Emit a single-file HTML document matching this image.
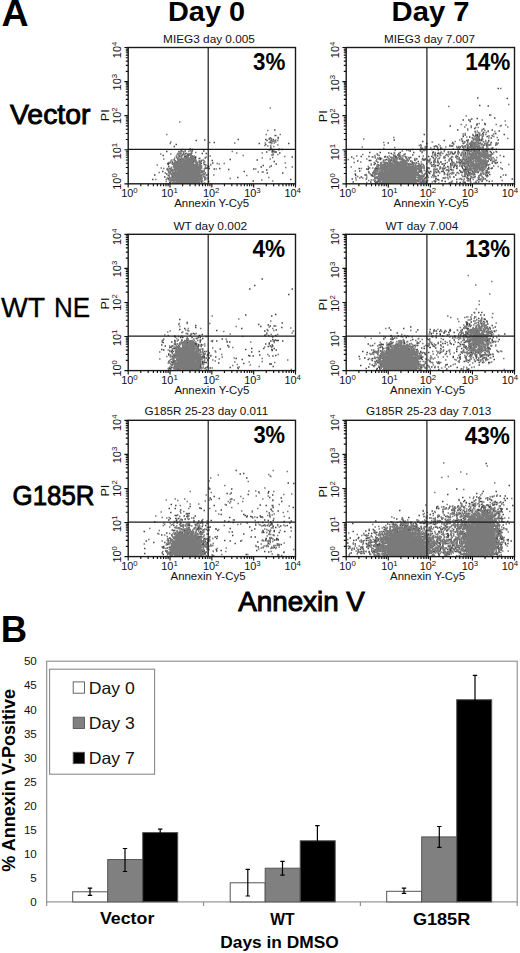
<!DOCTYPE html>
<html><head><meta charset="utf-8"><style>
html,body{margin:0;padding:0;background:#fff;}
svg{display:block;font-family:"Liberation Sans", sans-serif;}
</style></head><body>
<svg width="520" height="953" viewBox="0 0 520 953">
<rect width="520" height="953" fill="#fff"/>
<text x="1.6" y="25.8" font-size="37.5" text-anchor="start" font-weight="bold" fill="#000" >A</text>
<text x="168.0" y="20.6" font-size="28.5" text-anchor="start" font-weight="bold" textLength="77" lengthAdjust="spacingAndGlyphs" fill="#000" >Day 0</text>
<text x="391.6" y="20.8" font-size="28.5" text-anchor="start" font-weight="bold" textLength="78" lengthAdjust="spacingAndGlyphs" fill="#000" >Day 7</text>
<text x="10.0" y="123.7" font-size="28.5" text-anchor="start" textLength="80.5" lengthAdjust="spacingAndGlyphs" fill="#000" stroke="#000" stroke-width="0.9">Vector</text>
<text x="1.0" y="316.9" font-size="28.5" text-anchor="start" textLength="44.2" lengthAdjust="spacingAndGlyphs" fill="#000" stroke="#000" stroke-width="0.3">WT</text>
<text x="54.0" y="316.9" font-size="28.5" text-anchor="start" textLength="36.2" lengthAdjust="spacingAndGlyphs" fill="#000" stroke="#000" stroke-width="0.3">NE</text>
<text x="12.5" y="505.4" font-size="28.5" text-anchor="start" textLength="82" lengthAdjust="spacingAndGlyphs" fill="#000" stroke="#000" stroke-width="0.9">G185R</text>
<text x="238.3" y="611.3" font-size="28.5" text-anchor="start" textLength="126.5" lengthAdjust="spacingAndGlyphs" fill="#000" stroke="#000" stroke-width="1.0">Annexin V</text>
<text x="0.8" y="642.3" font-size="36.5" text-anchor="start" font-weight="bold" fill="#000" >B</text>
<path d="M274 130h1.5M274.5 135.5h1.5M275 135.5h1.5M277.5 137.5h1.5M269.5 138h1.5M268.5 139h1.5M237.5 139.5h1.5M265 139.5h1.5M272.5 139.5h1.5M204 140h1.5M270.5 140h1.5M195.5 140.5h1.5M270 141.5h1.5M213.5 142.5h1.5M270 142.5h1.5M258.5 143.5h1.5M288 143.5h1.5M175.5 144.5h1.5M265 144.5h1.5M173.5 146.5h1.5M270 148h1.5M189.5 149h1.5M181.5 149.5h1.5M192 149.5h1.5M281.5 149.5h1.5M268.5 150h1.5M271.5 150.5h1.5M180.5 151h1.5M184.5 151h1.5M191.5 151h1.5M203 151h1.5M166 151.5h1.5M180.5 151.5h1.5M181 151.5h1.5M272.5 151.5h1.5M274 151.5h1.5M266 152h1.5M271.5 152h1.5M274 152h1.5M275.5 152h1.5M183 153h1.5M191 153h1.5M279 153h1.5M177.5 153.5h1.5M185 153.5h1.5M201.5 153.5h1.5M205.5 153.5h1.5M188.5 154h1.5M182 154.5h1.5M187 154.5h1.5M272.5 154.5h1.5M181.5 155h1.5M188.5 155h1.5M162.5 155.5h1.5M187 155.5h1.5M185.5 156h1.5M191.5 156h1.5M178.5 156.5h1.5M180.5 156.5h1.5M184 156.5h1.5M185 156.5h1.5M187.5 156.5h1.5M176 157h1.5M184 157h1.5M190.5 157h1.5M195 157h1.5M291.5 157h1.5M191 157.5h1.5M193 157.5h1.5M194 157.5h1.5M185.5 158h1.5M191 158h1.5M194.5 158h1.5M204.5 158h1.5M198.5 158.5h1.5M199 158.5h1.5M192 159h1.5M173.5 159.5h1.5M178.5 159.5h1.5M179.5 159.5h1.5M186.5 159.5h1.5M187 159.5h1.5M190.5 159.5h1.5M192 159.5h1.5M194.5 159.5h1.5M229.5 159.5h1.5M180 160h1.5M190 160h1.5M256.5 160h1.5M178 160.5h1.5M184.5 160.5h1.5M201 160.5h1.5M211.5 160.5h1.5M174.5 161h1.5M179.5 161h1.5M180.5 161h1.5M192.5 161h1.5M194 161h1.5M198.5 161h1.5M176.5 161.5h1.5M179 161.5h1.5M181 161.5h1.5M191.5 161.5h1.5M200 161.5h1.5M273.5 161.5h1.5M171.5 162h1.5M192.5 162h1.5M176 162.5h1.5M168 163h1.5M169 163h1.5M175.5 163h1.5M180 163h1.5M199.5 163h1.5M212 163h1.5M167 163.5h1.5M171.5 163.5h1.5M181 163.5h1.5M199.5 163.5h1.5M200.5 163.5h1.5M172 164h1.5M275.5 164h1.5M167.5 164.5h1.5M203.5 164.5h1.5M174 165h1.5M205 165h1.5M174 165.5h1.5M262.5 165.5h1.5M173.5 166h1.5M196.5 166h1.5M270.5 166h1.5M168 166.5h1.5M176 166.5h1.5M208 166.5h1.5M198 167h1.5M260.5 167h1.5M200.5 167.5h1.5M200 168h1.5M206 168h1.5M206.5 168h1.5M168.5 168.5h1.5M170.5 168.5h1.5M198.5 168.5h1.5M204.5 168.5h1.5M205 168.5h1.5M208.5 168.5h1.5M219 168.5h1.5M213.5 169h1.5M253 169h1.5M166.5 169.5h1.5M173.5 169.5h1.5M228 169.5h1.5M170.5 170h1.5M171.5 170h1.5M174.5 170h1.5M266 170h1.5M168 170.5h1.5M171.5 170.5h1.5M201 170.5h1.5M203.5 171h1.5M162 171.5h1.5M243.5 171.5h1.5M200.5 172h1.5M202 172h1.5M169.5 172.5h1.5M199.5 172.5h1.5M199 173h1.5M204.5 173h1.5M266.5 173h1.5M282 173h1.5M173 173.5h1.5M198 173.5h1.5M166 174h1.5M170.5 174h1.5M198.5 174h1.5M203 174.5h1.5M154 175h1.5M171.5 175h1.5M205.5 175h1.5M206 175h1.5M167.5 175.5h1.5M200.5 175.5h1.5M172.5 176h1.5M171.5 176.5h1.5M199 176.5h1.5M164 177h1.5M172 177h1.5M173 177h1.5M200 177h1.5M201 177h1.5M200 177.5h1.5M237 177.5h1.5M167.5 178.5h1.5M169.5 178.5h1.5M167.5 179h1.5M204.5 179h1.5M205 179h1.5M152 179.5h1.5M173 179.5h1.5M290 179.5h1.5M173.5 180h1.5M197.5 180h1.5M169.5 180.5h1.5M252.5 181h1.5M173 181.5h1.5M200.5 181.5h1.5M208 181.5h1.5M170 182h1.5M169 182.5h1.5M176.5 182.5h1.5M198.5 182.5h1.5M177 183h1.5" stroke="#484848" stroke-width="1.5" fill="none"/>
<path d="M269.5 108h1.5M179 122h1.5M267 130.5h1.5M166 134.5h1.5M265.5 134.5h1.5M279.5 134.5h1.5M270.5 138.5h1.5M277.5 138.5h1.5M275 140h1.5M266 140.5h1.5M266.5 140.5h1.5M274.5 140.5h1.5M277 140.5h1.5M272 141h1.5M273.5 141h1.5M269.5 141.5h1.5M272 141.5h1.5M170 142h1.5M275 142h1.5M209 142.5h1.5M268.5 142.5h1.5M271 142.5h1.5M234 143h1.5M264.5 143h1.5M273.5 143h1.5M169.5 143.5h1.5M271 143.5h1.5M277 145h1.5M264 145.5h1.5M270 145.5h1.5M267 146h1.5M270 146.5h1.5M273 146.5h1.5M270.5 148.5h1.5M278.5 149h1.5M269.5 149.5h1.5M271.5 149.5h1.5M278 150h1.5M189.5 150.5h1.5M273 150.5h1.5M191.5 151h1.5M178 151.5h1.5M179.5 151.5h1.5M181 151.5h1.5M183 151.5h1.5M188 151.5h1.5M190.5 151.5h1.5M231.5 151.5h1.5M273.5 152h1.5M274.5 152h1.5M179.5 152.5h1.5M195 152.5h1.5M236 153h1.5M261.5 153h1.5M177.5 153.5h1.5M178.5 153.5h1.5M180.5 153.5h1.5M186 153.5h1.5M190 153.5h1.5M160 154h1.5M170 154h1.5M179.5 154h1.5M189 154h1.5M272.5 154h1.5M176.5 154.5h1.5M183.5 154.5h1.5M188.5 154.5h1.5M190.5 154.5h1.5M277 154.5h1.5M177.5 155h1.5M182 155h1.5M184 155h1.5M188.5 155h1.5M189.5 155h1.5M271 155h1.5M272 155h1.5M178.5 155.5h1.5M180.5 155.5h1.5M242.5 155.5h1.5M175.5 156h1.5M186.5 156h1.5M190 156h1.5M190.5 156h1.5M193.5 156h1.5M209.5 156h1.5M180 156.5h1.5M181 156.5h1.5M284 156.5h1.5M180.5 157h1.5M187.5 157h1.5M193 157h1.5M205.5 157h1.5M178 157.5h1.5M183.5 157.5h1.5M186 157.5h1.5M190 157.5h1.5M192.5 157.5h1.5M272 157.5h1.5M174 158h1.5M177 158h1.5M184.5 158h1.5M188.5 158h1.5M190.5 158h1.5M261.5 158h1.5M176.5 158.5h1.5M180.5 158.5h1.5M182 158.5h1.5M186 158.5h1.5M187 158.5h1.5M188.5 158.5h1.5M193.5 158.5h1.5M163 159h1.5M178.5 159h1.5M183 159h1.5M190 159h1.5M269.5 159h1.5M181 159.5h1.5M182.5 159.5h1.5M185 159.5h1.5M186.5 159.5h1.5M192 159.5h1.5M192.5 159.5h1.5M195 159.5h1.5M171 160h1.5M177 160h1.5M178 160h1.5M184 160h1.5M184.5 160h1.5M188 160h1.5M189 160h1.5M190.5 160h1.5M194.5 160h1.5M202.5 160h1.5M170.5 160.5h1.5M173.5 160.5h1.5M179 160.5h1.5M180.5 160.5h1.5M186 160.5h1.5M190 160.5h1.5M193 160.5h1.5M178.5 161h1.5M181 161h1.5M182.5 161h1.5M184 161h1.5M186.5 161h1.5M189 161h1.5M191.5 161h1.5M194.5 161h1.5M195.5 161h1.5M199 161h1.5M203.5 161h1.5M181.5 161.5h1.5M185.5 161.5h1.5M187.5 161.5h1.5M200.5 161.5h1.5M169.5 162h1.5M175 162h1.5M176.5 162h1.5M178 162h1.5M179.5 162h1.5M180.5 162h1.5M189 162h1.5M190 162h1.5M196 162h1.5M198.5 162h1.5M204 162h1.5M173.5 162.5h1.5M177 162.5h1.5M183 162.5h1.5M183.5 162.5h1.5M185 162.5h1.5M187 162.5h1.5M190.5 162.5h1.5M192 162.5h1.5M192.5 162.5h1.5M194.5 162.5h1.5M197 162.5h1.5M203 162.5h1.5M173.5 163h1.5M178 163h1.5M182.5 163h1.5M185.5 163h1.5M188.5 163h1.5M189 163h1.5M196 163h1.5M199 163h1.5M203 163h1.5M284.5 163h1.5M172 163.5h1.5M175 163.5h1.5M179.5 163.5h1.5M181 163.5h1.5M186.5 163.5h1.5M188 163.5h1.5M192 163.5h1.5M196.5 163.5h1.5M199.5 163.5h1.5M216.5 163.5h1.5M223.5 163.5h1.5M176.5 164h1.5M184 164h1.5M185 164h1.5M189.5 164h1.5M190.5 164h1.5M192.5 164h1.5M195.5 164h1.5M218.5 164h1.5M172.5 164.5h1.5M173.5 164.5h1.5M175 164.5h1.5M178 164.5h1.5M179.5 164.5h1.5M181.5 164.5h1.5M183 164.5h1.5M187.5 164.5h1.5M191.5 164.5h1.5M194 164.5h1.5M197.5 164.5h1.5M199.5 164.5h1.5M210 164.5h1.5M156.5 165h1.5M180.5 165h1.5M186 165h1.5M189 165h1.5M190.5 165h1.5M195.5 165h1.5M196 165h1.5M198.5 165h1.5M210 165h1.5M175 165.5h1.5M176.5 165.5h1.5M179 165.5h1.5M184.5 165.5h1.5M192.5 165.5h1.5M194 165.5h1.5M200 165.5h1.5M173.5 166h1.5M176.5 166h1.5M178 166h1.5M181 166h1.5M182.5 166h1.5M184 166h1.5M185 166h1.5M186 166h1.5M187.5 166h1.5M191 166h1.5M196.5 166h1.5M201 166h1.5M207 166h1.5M173 166.5h1.5M175.5 166.5h1.5M179.5 166.5h1.5M188 166.5h1.5M189.5 166.5h1.5M195.5 166.5h1.5M198 166.5h1.5M199.5 166.5h1.5M172.5 167h1.5M174 167h1.5M180.5 167h1.5M182 167h1.5M190.5 167h1.5M191.5 167h1.5M192.5 167h1.5M194 167h1.5M197 167h1.5M198.5 167h1.5M204.5 167h1.5M269 167h1.5M291.5 167h1.5M170.5 167.5h1.5M174.5 167.5h1.5M177 167.5h1.5M178 167.5h1.5M179.5 167.5h1.5M183.5 167.5h1.5M185 167.5h1.5M186.5 167.5h1.5M193 167.5h1.5M194.5 167.5h1.5M200.5 167.5h1.5M205.5 167.5h1.5M285 167.5h1.5M160.5 168h1.5M173.5 168h1.5M175.5 168h1.5M179 168h1.5M181 168h1.5M184 168h1.5M186.5 168h1.5M188 168h1.5M189.5 168h1.5M191.5 168h1.5M196 168h1.5M199 168h1.5M201 168h1.5M163 168.5h1.5M166.5 168.5h1.5M177 168.5h1.5M182.5 168.5h1.5M189 168.5h1.5M191 168.5h1.5M195.5 168.5h1.5M197.5 168.5h1.5M199.5 168.5h1.5M169.5 169h1.5M171 169h1.5M175 169h1.5M177.5 169h1.5M180 169h1.5M181.5 169h1.5M185 169h1.5M193 169h1.5M194 169h1.5M198 169h1.5M203.5 169h1.5M215.5 169h1.5M255 169h1.5M174.5 169.5h1.5M176.5 169.5h1.5M179 169.5h1.5M183.5 169.5h1.5M186.5 169.5h1.5M188 169.5h1.5M190.5 169.5h1.5M192 169.5h1.5M196.5 169.5h1.5M167.5 170h1.5M174 170h1.5M175 170h1.5M182 170h1.5M185.5 170h1.5M189.5 170h1.5M194 170h1.5M195.5 170h1.5M196 170h1.5M197.5 170h1.5M199.5 170h1.5M167 170.5h1.5M170.5 170.5h1.5M171.5 170.5h1.5M173 170.5h1.5M176.5 170.5h1.5M178 170.5h1.5M180.5 170.5h1.5M184 170.5h1.5M187 170.5h1.5M192.5 170.5h1.5M199 170.5h1.5M200 170.5h1.5M170 171h1.5M179.5 171h1.5M183.5 171h1.5M187.5 171h1.5M189 171h1.5M190.5 171h1.5M191 171h1.5M197.5 171h1.5M201 171h1.5M203 171h1.5M169.5 171.5h1.5M171.5 171.5h1.5M172 171.5h1.5M174.5 171.5h1.5M177.5 171.5h1.5M179 171.5h1.5M182 171.5h1.5M184 171.5h1.5M185.5 171.5h1.5M187 171.5h1.5M192.5 171.5h1.5M194 171.5h1.5M195.5 171.5h1.5M196.5 171.5h1.5M198.5 171.5h1.5M202.5 171.5h1.5M168 172h1.5M176 172h1.5M180.5 172h1.5M190.5 172h1.5M192 172h1.5M196 172h1.5M197.5 172h1.5M257.5 172h1.5M261.5 172h1.5M262.5 172h1.5M158.5 172.5h1.5M169.5 172.5h1.5M171.5 172.5h1.5M173 172.5h1.5M175 172.5h1.5M178 172.5h1.5M181 172.5h1.5M182.5 172.5h1.5M184 172.5h1.5M186.5 172.5h1.5M188.5 172.5h1.5M189.5 172.5h1.5M193.5 172.5h1.5M199 172.5h1.5M200 172.5h1.5M164.5 173h1.5M168 173h1.5M172 173h1.5M174 173h1.5M176.5 173h1.5M179.5 173h1.5M185.5 173h1.5M188 173h1.5M195 173h1.5M195.5 173h1.5M199.5 173h1.5M169.5 173.5h1.5M177 173.5h1.5M182 173.5h1.5M187 173.5h1.5M191 173.5h1.5M192 173.5h1.5M197 173.5h1.5M197.5 173.5h1.5M199 173.5h1.5M203 173.5h1.5M173 174h1.5M174.5 174h1.5M176 174h1.5M178 174h1.5M179.5 174h1.5M180.5 174h1.5M183 174h1.5M184 174h1.5M189.5 174h1.5M193.5 174h1.5M201.5 174h1.5M203.5 174h1.5M171 174.5h1.5M172.5 174.5h1.5M185.5 174.5h1.5M188 174.5h1.5M190 174.5h1.5M195 174.5h1.5M196.5 174.5h1.5M197.5 174.5h1.5M203.5 174.5h1.5M207.5 174.5h1.5M168.5 175h1.5M175 175h1.5M177 175h1.5M178 175h1.5M180 175h1.5M181.5 175h1.5M182.5 175h1.5M186.5 175h1.5M191 175h1.5M192.5 175h1.5M197 175h1.5M199 175h1.5M200 175h1.5M202 175h1.5M213 175h1.5M168.5 175.5h1.5M171.5 175.5h1.5M173 175.5h1.5M173.5 175.5h1.5M176 175.5h1.5M177 175.5h1.5M179 175.5h1.5M184 175.5h1.5M188.5 175.5h1.5M191 175.5h1.5M193.5 175.5h1.5M196 175.5h1.5M246 175.5h1.5M180.5 176h1.5M183 176h1.5M185 176h1.5M187 176h1.5M189.5 176h1.5M192.5 176h1.5M195 176h1.5M198.5 176h1.5M200.5 176h1.5M172.5 176.5h1.5M174.5 176.5h1.5M178.5 176.5h1.5M182 176.5h1.5M184.5 176.5h1.5M186.5 176.5h1.5M188.5 176.5h1.5M196.5 176.5h1.5M197.5 176.5h1.5M200 176.5h1.5M203 176.5h1.5M204 176.5h1.5M168.5 177h1.5M174 177h1.5M175 177h1.5M176.5 177h1.5M177.5 177h1.5M179.5 177h1.5M185.5 177h1.5M190 177h1.5M191.5 177h1.5M194 177h1.5M197 177h1.5M203.5 177h1.5M170.5 177.5h1.5M178.5 177.5h1.5M181 177.5h1.5M182 177.5h1.5M183 177.5h1.5M184.5 177.5h1.5M187.5 177.5h1.5M188.5 177.5h1.5M193 177.5h1.5M195 177.5h1.5M200 177.5h1.5M201 177.5h1.5M205 177.5h1.5M207.5 177.5h1.5M268 177.5h1.5M166.5 178h1.5M169 178h1.5M172.5 178h1.5M180 178h1.5M186 178h1.5M191 178h1.5M192 178h1.5M193.5 178h1.5M195.5 178h1.5M198.5 178h1.5M172 178.5h1.5M174.5 178.5h1.5M176 178.5h1.5M177.5 178.5h1.5M178 178.5h1.5M182 178.5h1.5M183 178.5h1.5M184 178.5h1.5M190 178.5h1.5M194 178.5h1.5M196 178.5h1.5M197.5 178.5h1.5M200 178.5h1.5M201.5 178.5h1.5M204 178.5h1.5M229.5 178.5h1.5M170 179h1.5M174 179h1.5M175 179h1.5M179.5 179h1.5M180.5 179h1.5M185.5 179h1.5M187.5 179h1.5M189 179h1.5M198 179h1.5M199.5 179h1.5M207.5 179h1.5M155 179.5h1.5M165.5 179.5h1.5M171 179.5h1.5M172.5 179.5h1.5M176.5 179.5h1.5M178.5 179.5h1.5M184 179.5h1.5M186 179.5h1.5M191.5 179.5h1.5M192.5 179.5h1.5M195 179.5h1.5M168.5 180h1.5M178 180h1.5M181.5 180h1.5M182.5 180h1.5M184.5 180h1.5M189.5 180h1.5M190.5 180h1.5M193.5 180h1.5M196.5 180h1.5M201 180h1.5M204 180h1.5M261 180h1.5M168.5 180.5h1.5M169.5 180.5h1.5M172 180.5h1.5M173 180.5h1.5M174.5 180.5h1.5M176 180.5h1.5M180 180.5h1.5M186.5 180.5h1.5M188 180.5h1.5M197.5 180.5h1.5M198.5 180.5h1.5M200 180.5h1.5M170.5 181h1.5M173 181h1.5M177.5 181h1.5M179 181h1.5M181 181h1.5M182.5 181h1.5M183 181h1.5M186 181h1.5M190 181h1.5M192 181h1.5M195 181h1.5M196.5 181h1.5M202 181h1.5M272 181h1.5M165.5 181.5h1.5M170 181.5h1.5M175.5 181.5h1.5M177 181.5h1.5M184.5 181.5h1.5M188.5 181.5h1.5M191 181.5h1.5M192 181.5h1.5M193.5 181.5h1.5M194.5 181.5h1.5M195.5 181.5h1.5M178.5 182h1.5M179.5 182h1.5M181.5 182h1.5M183 182h1.5M185.5 182h1.5M187 182h1.5M198 182h1.5M172 182.5h1.5M174 182.5h1.5M176 182.5h1.5M180.5 182.5h1.5M189 182.5h1.5M190.5 182.5h1.5M197 182.5h1.5M200.5 182.5h1.5M173.5 183h1.5M174.5 183h1.5M176.5 183h1.5M177 183h1.5M178.5 183h1.5M179 183h1.5M180.5 183h1.5M181 183h1.5M182.5 183h1.5M184 183h1.5M184.5 183h1.5M186 183h1.5M187.5 183h1.5M188 183h1.5M189.5 183h1.5M190 183h1.5M191.5 183h1.5M193 183h1.5M194.5 183h1.5M195.5 183h1.5M202 183h1.5M204 183h1.5" stroke="#7a7a7a" stroke-width="1.5" fill="none"/>
<path d="M208.2 47.5V183.8M128.2 149.4H295.5" stroke="#1a1a1a" stroke-width="1.2" fill="none"/>
<rect x="128.2" y="47.5" width="167.30" height="136.3" fill="none" stroke="#1a1a1a" stroke-width="1.4"/>
<path d="M128.20 183.8v3.8M128.2 183.80h-3.8M140.79 183.8v2.4M128.2 173.54h-2.4M148.16 183.8v2.4M128.2 167.54h-2.4M153.38 183.8v2.4M128.2 163.28h-2.4M157.43 183.8v2.4M128.2 159.98h-2.4M160.75 183.8v2.4M128.2 157.28h-2.4M163.55 183.8v2.4M128.2 155.00h-2.4M165.97 183.8v2.4M128.2 153.03h-2.4M168.11 183.8v2.4M128.2 151.28h-2.4M170.02 183.8v3.8M128.2 149.73h-3.8M182.62 183.8v2.4M128.2 139.47h-2.4M189.98 183.8v2.4M128.2 133.47h-2.4M195.21 183.8v2.4M128.2 129.21h-2.4M199.26 183.8v2.4M128.2 125.91h-2.4M202.57 183.8v2.4M128.2 123.21h-2.4M205.37 183.8v2.4M128.2 120.93h-2.4M207.80 183.8v2.4M128.2 118.95h-2.4M209.94 183.8v2.4M128.2 117.21h-2.4M211.85 183.8v3.8M128.2 115.65h-3.8M224.44 183.8v2.4M128.2 105.39h-2.4M231.81 183.8v2.4M128.2 99.39h-2.4M237.03 183.8v2.4M128.2 95.13h-2.4M241.08 183.8v2.4M128.2 91.83h-2.4M244.40 183.8v2.4M128.2 89.13h-2.4M247.20 183.8v2.4M128.2 86.85h-2.4M249.62 183.8v2.4M128.2 84.88h-2.4M251.76 183.8v2.4M128.2 83.13h-2.4M253.68 183.8v3.8M128.2 81.58h-3.8M266.27 183.8v2.4M128.2 71.32h-2.4M273.63 183.8v2.4M128.2 65.32h-2.4M278.86 183.8v2.4M128.2 61.06h-2.4M282.91 183.8v2.4M128.2 57.76h-2.4M286.22 183.8v2.4M128.2 55.06h-2.4M289.02 183.8v2.4M128.2 52.78h-2.4M291.45 183.8v2.4M128.2 50.80h-2.4M293.59 183.8v2.4M128.2 49.06h-2.4M295.50 183.8v3.8M128.2 47.5h-3.8" stroke="#111" stroke-width="1.15" fill="none"/>
<text x="129.40" y="197.30" font-size="10.9" text-anchor="middle" fill="#111">10<tspan dy="-4.3" font-size="7.8">0</tspan></text>
<text x="169.52" y="197.30" font-size="10.9" text-anchor="middle" fill="#111">10<tspan dy="-4.3" font-size="7.8">1</tspan></text>
<text x="211.15" y="197.30" font-size="10.9" text-anchor="middle" fill="#111">10<tspan dy="-4.3" font-size="7.8">2</tspan></text>
<text x="252.38" y="197.30" font-size="10.9" text-anchor="middle" fill="#111">10<tspan dy="-4.3" font-size="7.8">3</tspan></text>
<text x="292.70" y="197.30" font-size="10.9" text-anchor="middle" fill="#111">10<tspan dy="-4.3" font-size="7.8">4</tspan></text>
<text transform="translate(121.30,181.50) rotate(-90)" font-size="10.9" text-anchor="middle" fill="#111">10<tspan dy="-4.3" font-size="7.8">0</tspan></text>
<text transform="translate(121.30,151.03) rotate(-90)" font-size="10.9" text-anchor="middle" fill="#111">10<tspan dy="-4.3" font-size="7.8">1</tspan></text>
<text transform="translate(121.30,115.65) rotate(-90)" font-size="10.9" text-anchor="middle" fill="#111">10<tspan dy="-4.3" font-size="7.8">2</tspan></text>
<text transform="translate(121.30,82.17) rotate(-90)" font-size="10.9" text-anchor="middle" fill="#111">10<tspan dy="-4.3" font-size="7.8">3</tspan></text>
<text transform="translate(121.30,49.90) rotate(-90)" font-size="10.9" text-anchor="middle" fill="#111">10<tspan dy="-4.3" font-size="7.8">4</tspan></text>
<text transform="translate(108.60,115.30) rotate(-90)" font-size="11.5" text-anchor="middle" fill="#111" textLength="12" lengthAdjust="spacingAndGlyphs">PI</text>
<text x="163.10" y="43.20" font-size="11.6" fill="#111" textLength="91.8" lengthAdjust="spacingAndGlyphs">MIEG3 day 0.005</text>
<text x="211.70" y="207.00" font-size="10.6" text-anchor="middle" fill="#111" textLength="75" lengthAdjust="spacingAndGlyphs">Annexin Y-Cy5</text>
<text x="285.40" y="70.40" font-size="24.5" font-weight="bold" text-anchor="end" fill="#000" textLength="32.3" lengthAdjust="spacingAndGlyphs">3%</text>
<path d="M497.5 88.5h1.5M477 98h1.5M506.5 98.5h1.5M479 105.5h1.5M487.5 106h1.5M489 115h1.5M494 118h1.5M476.5 118.5h1.5M471 119h1.5M462.5 120h1.5M468 120h1.5M469.5 121.5h1.5M484 123.5h1.5M476.5 124h1.5M484.5 124.5h1.5M476 125h1.5M449.5 126h1.5M474 128.5h1.5M483 129h1.5M457 130h1.5M491.5 130h1.5M498.5 131h1.5M474.5 131.5h1.5M487.5 131.5h1.5M483 132.5h1.5M482 133.5h1.5M495 133.5h1.5M423.5 134.5h1.5M477 134.5h1.5M503.5 134.5h1.5M464.5 135h1.5M475 135h1.5M476.5 135h1.5M479 135h1.5M482.5 135h1.5M472.5 135.5h1.5M476 135.5h1.5M491.5 135.5h1.5M462.5 136h1.5M474.5 136h1.5M462.5 136.5h1.5M477 136.5h1.5M478 136.5h1.5M486.5 136.5h1.5M469 137h1.5M481.5 137h1.5M471.5 138h1.5M476.5 138h1.5M490.5 138h1.5M476 138.5h1.5M461 139h1.5M473 139h1.5M478.5 139h1.5M481.5 139h1.5M475 139.5h1.5M480.5 139.5h1.5M393.5 140h1.5M467.5 140h1.5M476 140h1.5M477 140h1.5M497.5 140h1.5M443.5 140.5h1.5M466 140.5h1.5M478.5 140.5h1.5M481 140.5h1.5M488 140.5h1.5M461.5 141h1.5M422 141.5h1.5M462 141.5h1.5M464 142h1.5M467 142h1.5M452 142.5h1.5M477 142.5h1.5M487 142.5h1.5M490.5 142.5h1.5M387.5 143h1.5M471 143h1.5M473 143h1.5M495.5 143h1.5M426 143.5h1.5M462.5 143.5h1.5M472 143.5h1.5M478.5 143.5h1.5M453 144h1.5M468.5 144h1.5M496.5 144h1.5M486 144.5h1.5M420 145h1.5M470 145h1.5M470.5 145h1.5M472 145h1.5M484 145h1.5M488.5 145h1.5M495 145h1.5M449 145.5h1.5M475 145.5h1.5M435 146h1.5M450.5 146h1.5M452 146h1.5M461.5 146h1.5M464.5 146h1.5M467 146h1.5M478 146h1.5M486 146h1.5M433.5 146.5h1.5M436.5 146.5h1.5M470 146.5h1.5M475.5 146.5h1.5M476.5 146.5h1.5M424.5 147h1.5M425.5 147h1.5M459.5 147h1.5M462 147h1.5M468 147h1.5M471.5 147h1.5M457.5 147.5h1.5M467 147.5h1.5M468.5 147.5h1.5M437 148h1.5M440 148h1.5M473.5 148h1.5M492 148h1.5M420.5 148.5h1.5M421.5 148.5h1.5M440.5 148.5h1.5M477 148.5h1.5M479.5 148.5h1.5M491 148.5h1.5M467 149h1.5M475 149h1.5M486 149h1.5M488 149h1.5M412 149.5h1.5M420 149.5h1.5M425.5 149.5h1.5M431 149.5h1.5M440 149.5h1.5M466.5 149.5h1.5M478.5 149.5h1.5M485 149.5h1.5M491.5 149.5h1.5M394.5 150h1.5M406 150h1.5M462.5 150h1.5M464 150h1.5M465.5 150h1.5M472 150h1.5M484.5 150h1.5M419.5 150.5h1.5M466 150.5h1.5M468 150.5h1.5M473.5 150.5h1.5M478 150.5h1.5M478.5 150.5h1.5M409.5 151h1.5M457.5 151h1.5M467 151h1.5M475.5 151h1.5M482 151h1.5M485.5 151h1.5M469.5 151.5h1.5M470 151.5h1.5M473.5 151.5h1.5M475 151.5h1.5M477.5 151.5h1.5M486.5 151.5h1.5M489.5 151.5h1.5M495.5 151.5h1.5M432.5 152h1.5M447.5 152h1.5M454.5 152h1.5M457.5 152h1.5M369 152.5h1.5M379.5 152.5h1.5M399.5 152.5h1.5M413 152.5h1.5M421.5 152.5h1.5M461.5 152.5h1.5M464.5 152.5h1.5M475 152.5h1.5M490.5 152.5h1.5M388 153h1.5M432 153h1.5M438 153h1.5M440 153h1.5M451.5 153h1.5M454 153h1.5M468.5 153h1.5M479 153h1.5M482.5 153h1.5M390.5 153.5h1.5M398 153.5h1.5M437 153.5h1.5M438 153.5h1.5M451.5 153.5h1.5M472.5 153.5h1.5M474.5 153.5h1.5M476 153.5h1.5M483.5 153.5h1.5M376.5 154h1.5M434.5 154h1.5M452.5 154h1.5M453 154h1.5M462.5 154h1.5M464.5 154h1.5M470 154h1.5M481 154h1.5M491.5 154h1.5M403.5 154.5h1.5M434 154.5h1.5M446 154.5h1.5M475 154.5h1.5M479.5 154.5h1.5M480.5 154.5h1.5M486 154.5h1.5M397 155h1.5M399 155h1.5M412 155h1.5M435 155h1.5M465 155h1.5M467 155h1.5M471.5 155h1.5M473 155h1.5M483.5 155h1.5M488.5 155h1.5M460.5 155.5h1.5M475.5 155.5h1.5M486.5 155.5h1.5M437 156h1.5M470.5 156h1.5M480.5 156h1.5M360.5 156.5h1.5M384.5 156.5h1.5M395 156.5h1.5M399 156.5h1.5M404.5 156.5h1.5M418.5 156.5h1.5M428 156.5h1.5M431 156.5h1.5M457 156.5h1.5M471.5 156.5h1.5M483.5 156.5h1.5M489 156.5h1.5M503 156.5h1.5M351 157h1.5M372 157h1.5M384 157h1.5M386.5 157h1.5M395.5 157h1.5M455 157h1.5M471.5 157h1.5M475.5 157h1.5M410 157.5h1.5M432.5 157.5h1.5M469 157.5h1.5M469.5 157.5h1.5M473.5 157.5h1.5M479 157.5h1.5M482.5 157.5h1.5M484.5 157.5h1.5M379 158h1.5M379.5 158h1.5M394.5 158h1.5M405.5 158h1.5M408.5 158h1.5M443.5 158h1.5M458.5 158h1.5M474 158h1.5M478 158h1.5M487 158h1.5M396.5 158.5h1.5M399 158.5h1.5M422 158.5h1.5M449.5 158.5h1.5M469 158.5h1.5M380 159h1.5M391 159h1.5M416 159h1.5M424.5 159h1.5M434.5 159h1.5M462.5 159h1.5M476 159h1.5M488.5 159h1.5M379.5 159.5h1.5M386 159.5h1.5M393 159.5h1.5M400.5 159.5h1.5M401.5 159.5h1.5M451 159.5h1.5M458.5 159.5h1.5M463.5 159.5h1.5M465 159.5h1.5M465.5 159.5h1.5M384.5 160h1.5M414 160h1.5M422.5 160h1.5M424 160h1.5M459.5 160h1.5M461.5 160h1.5M464 160h1.5M467.5 160h1.5M368.5 160.5h1.5M370 160.5h1.5M390 160.5h1.5M390.5 160.5h1.5M392.5 160.5h1.5M393.5 160.5h1.5M402 160.5h1.5M407.5 160.5h1.5M429 160.5h1.5M433.5 160.5h1.5M451 160.5h1.5M473 160.5h1.5M490 160.5h1.5M357 161h1.5M375.5 161h1.5M403.5 161h1.5M410 161h1.5M427.5 161h1.5M437 161h1.5M475 161h1.5M479 161h1.5M480.5 161h1.5M487.5 161h1.5M394.5 161.5h1.5M404.5 161.5h1.5M417.5 161.5h1.5M460.5 161.5h1.5M467 161.5h1.5M468.5 161.5h1.5M469.5 161.5h1.5M477 161.5h1.5M483 161.5h1.5M483.5 161.5h1.5M485.5 161.5h1.5M486 161.5h1.5M493.5 161.5h1.5M388.5 162h1.5M389.5 162h1.5M392.5 162h1.5M397 162h1.5M433 162h1.5M440 162h1.5M451.5 162h1.5M461.5 162h1.5M377 162.5h1.5M384 162.5h1.5M411.5 162.5h1.5M430.5 162.5h1.5M437.5 162.5h1.5M453 162.5h1.5M458.5 162.5h1.5M466 162.5h1.5M468 162.5h1.5M475.5 162.5h1.5M479.5 162.5h1.5M481.5 162.5h1.5M494.5 162.5h1.5M496.5 162.5h1.5M380 163h1.5M383.5 163h1.5M385.5 163h1.5M386.5 163h1.5M401.5 163h1.5M413 163h1.5M415.5 163h1.5M460 163h1.5M466 163h1.5M472 163h1.5M479 163h1.5M491.5 163h1.5M374.5 163.5h1.5M388.5 163.5h1.5M390 163.5h1.5M412 163.5h1.5M444.5 163.5h1.5M450 163.5h1.5M462 163.5h1.5M463.5 163.5h1.5M473 163.5h1.5M495 163.5h1.5M384 164h1.5M407.5 164h1.5M441.5 164h1.5M464 164h1.5M465 164h1.5M467.5 164h1.5M483 164h1.5M485.5 164h1.5M373.5 164.5h1.5M386.5 164.5h1.5M393.5 164.5h1.5M410 164.5h1.5M411.5 164.5h1.5M418.5 164.5h1.5M433 164.5h1.5M481.5 164.5h1.5M486.5 164.5h1.5M376.5 165h1.5M377.5 165h1.5M380 165h1.5M383 165h1.5M384 165h1.5M390.5 165h1.5M414.5 165h1.5M450 165h1.5M453.5 165h1.5M470 165h1.5M482.5 165h1.5M487.5 165h1.5M389 165.5h1.5M419.5 165.5h1.5M423 165.5h1.5M434.5 165.5h1.5M436.5 165.5h1.5M437.5 165.5h1.5M443.5 165.5h1.5M450.5 165.5h1.5M455 165.5h1.5M466.5 165.5h1.5M468.5 165.5h1.5M477 165.5h1.5M485.5 165.5h1.5M417 166h1.5M418.5 166h1.5M420 166h1.5M431 166h1.5M453.5 166h1.5M461 166h1.5M467 166h1.5M478 166h1.5M380.5 166.5h1.5M384.5 166.5h1.5M412.5 166.5h1.5M447 166.5h1.5M456 166.5h1.5M464 166.5h1.5M470 166.5h1.5M474 166.5h1.5M475 166.5h1.5M386.5 167h1.5M387 167h1.5M411 167h1.5M413 167h1.5M439.5 167h1.5M461.5 167h1.5M466 167h1.5M473.5 167h1.5M475.5 167h1.5M477.5 167h1.5M478.5 167h1.5M482.5 167h1.5M453 167.5h1.5M465 167.5h1.5M488 167.5h1.5M368 168h1.5M375 168h1.5M415 168h1.5M421 168h1.5M426 168h1.5M426.5 168h1.5M428 168h1.5M440 168h1.5M465 168h1.5M469 168h1.5M482 168h1.5M491.5 168h1.5M358.5 168.5h1.5M375.5 168.5h1.5M376.5 168.5h1.5M380.5 168.5h1.5M383 168.5h1.5M416.5 168.5h1.5M428.5 168.5h1.5M442 168.5h1.5M442.5 168.5h1.5M444 168.5h1.5M456 168.5h1.5M462 168.5h1.5M477.5 168.5h1.5M480.5 168.5h1.5M490.5 168.5h1.5M366 169h1.5M378 169h1.5M415.5 169h1.5M417.5 169h1.5M419.5 169h1.5M442 169h1.5M470 169h1.5M473.5 169h1.5M481.5 169h1.5M487 169h1.5M488 169h1.5M501.5 169h1.5M367.5 169.5h1.5M374.5 169.5h1.5M418.5 169.5h1.5M419 169.5h1.5M434.5 169.5h1.5M436 169.5h1.5M450 169.5h1.5M464 169.5h1.5M465.5 169.5h1.5M473 169.5h1.5M474 169.5h1.5M480.5 169.5h1.5M376.5 170h1.5M420.5 170h1.5M426 170h1.5M446.5 170h1.5M451 170h1.5M463 170h1.5M448 170.5h1.5M459 170.5h1.5M464 170.5h1.5M468.5 170.5h1.5M479 170.5h1.5M482.5 170.5h1.5M485.5 170.5h1.5M359 171h1.5M373.5 171h1.5M376 171h1.5M415.5 171h1.5M419 171h1.5M437.5 171h1.5M442.5 171h1.5M467.5 171h1.5M471.5 171h1.5M474 171h1.5M481.5 171h1.5M486.5 171h1.5M381.5 171.5h1.5M420.5 171.5h1.5M421 171.5h1.5M430 171.5h1.5M441 171.5h1.5M460 171.5h1.5M464.5 171.5h1.5M368 172h1.5M381.5 172h1.5M419 172h1.5M438 172h1.5M460 172h1.5M464 172h1.5M472 172h1.5M475 172h1.5M374.5 172.5h1.5M379 172.5h1.5M379.5 172.5h1.5M428 172.5h1.5M436 172.5h1.5M443.5 172.5h1.5M451.5 172.5h1.5M452 172.5h1.5M461.5 172.5h1.5M468 172.5h1.5M477 172.5h1.5M477.5 172.5h1.5M486.5 172.5h1.5M372 173h1.5M373.5 173h1.5M416.5 173h1.5M428.5 173h1.5M452 173h1.5M468.5 173h1.5M472 173h1.5M485.5 173h1.5M487.5 173h1.5M378.5 173.5h1.5M380.5 173.5h1.5M382 173.5h1.5M415.5 173.5h1.5M416.5 173.5h1.5M425 173.5h1.5M429 173.5h1.5M473.5 173.5h1.5M480 173.5h1.5M354.5 174h1.5M376 174h1.5M444 174h1.5M470.5 174h1.5M483 174h1.5M423.5 174.5h1.5M446.5 174.5h1.5M467 174.5h1.5M468.5 174.5h1.5M474 174.5h1.5M489 174.5h1.5M364.5 175h1.5M365.5 175h1.5M370.5 175h1.5M372 175h1.5M374 175h1.5M418.5 175h1.5M455 175h1.5M480 175h1.5M486.5 175h1.5M505 175h1.5M355 175.5h1.5M378.5 175.5h1.5M423 175.5h1.5M426.5 175.5h1.5M432 175.5h1.5M437.5 175.5h1.5M479 175.5h1.5M485.5 175.5h1.5M371.5 176h1.5M378 176h1.5M420.5 176h1.5M427 176h1.5M464.5 176h1.5M467 176h1.5M487 176h1.5M379 176.5h1.5M418 176.5h1.5M423 176.5h1.5M435 176.5h1.5M463.5 176.5h1.5M360.5 177h1.5M420.5 177h1.5M453 177h1.5M470.5 177h1.5M500 177h1.5M375.5 177.5h1.5M377 177.5h1.5M380.5 177.5h1.5M381.5 177.5h1.5M420 177.5h1.5M425 177.5h1.5M471 177.5h1.5M442.5 178h1.5M380.5 178.5h1.5M424 178.5h1.5M435.5 178.5h1.5M467 178.5h1.5M467.5 178.5h1.5M469.5 178.5h1.5M351.5 179h1.5M365.5 179h1.5M379 179h1.5M414.5 179h1.5M419.5 179h1.5M422 179h1.5M435 179h1.5M467 179h1.5M484.5 179h1.5M511.5 179h1.5M378.5 179.5h1.5M413.5 179.5h1.5M419 179.5h1.5M437 179.5h1.5M456 179.5h1.5M461 179.5h1.5M469.5 179.5h1.5M478 179.5h1.5M479 179.5h1.5M415 180h1.5M438 180h1.5M377.5 180.5h1.5M379 180.5h1.5M414.5 180.5h1.5M415.5 180.5h1.5M422 180.5h1.5M423 180.5h1.5M441.5 180.5h1.5M486 180.5h1.5M378.5 181h1.5M415 181h1.5M416 181h1.5M424 181h1.5M433.5 181h1.5M435 181h1.5M469.5 181h1.5M481.5 181h1.5M374 181.5h1.5M413.5 181.5h1.5M417.5 181.5h1.5M422.5 181.5h1.5M444.5 181.5h1.5M488.5 181.5h1.5M352.5 182h1.5M370 182h1.5M377 182h1.5M379.5 182h1.5M420.5 182h1.5M422 182h1.5M426 182h1.5M434.5 182h1.5M451 182h1.5M456 182h1.5M463 182h1.5M475 182h1.5M478 182h1.5M375 182.5h1.5M379.5 182.5h1.5M415 182.5h1.5M425.5 182.5h1.5M459.5 182.5h1.5M464.5 182.5h1.5M375 183h1.5M376 183h1.5M381.5 183h1.5M382.5 183h1.5M411 183h1.5M413 183h1.5M420 183h1.5M423.5 183h1.5M448.5 183h1.5" stroke="#484848" stroke-width="1.5" fill="none"/>
<path d="M500 88.5h1.5M508 104.5h1.5M448 106.5h1.5M490 115h1.5M465.5 116h1.5M469.5 120h1.5M481.5 120h1.5M504.5 121h1.5M478.5 123.5h1.5M460.5 124.5h1.5M495.5 124.5h1.5M465.5 125h1.5M505 125h1.5M500.5 125.5h1.5M470.5 126h1.5M499.5 126h1.5M464 127h1.5M507 127h1.5M470.5 127.5h1.5M475 127.5h1.5M477.5 127.5h1.5M467 129h1.5M481.5 129.5h1.5M467 130h1.5M484 130.5h1.5M476.5 131h1.5M481 131h1.5M487.5 131h1.5M494 131.5h1.5M474.5 132h1.5M477.5 132.5h1.5M485.5 132.5h1.5M475 133h1.5M479 133h1.5M464.5 133.5h1.5M478.5 133.5h1.5M462.5 134h1.5M493 134h1.5M472 134.5h1.5M485 134.5h1.5M480.5 135h1.5M475 136h1.5M482.5 136h1.5M488 136h1.5M488.5 136h1.5M492 136h1.5M478.5 136.5h1.5M493 136.5h1.5M466 137h1.5M473.5 137h1.5M475.5 137h1.5M477 137h1.5M478.5 137h1.5M393 137.5h1.5M496.5 137.5h1.5M476.5 138h1.5M488 138h1.5M475 138.5h1.5M478 138.5h1.5M507 138.5h1.5M363 139h1.5M473.5 139h1.5M482 139h1.5M472.5 139.5h1.5M475 139.5h1.5M475.5 139.5h1.5M477 139.5h1.5M459 140h1.5M477.5 140h1.5M473 140.5h1.5M479.5 140.5h1.5M485 140.5h1.5M471 141h1.5M475.5 141h1.5M454.5 141.5h1.5M471 141.5h1.5M472 141.5h1.5M482.5 141.5h1.5M485 141.5h1.5M488 141.5h1.5M431.5 142h1.5M464 142h1.5M476 142h1.5M477.5 142h1.5M483 142h1.5M383 142.5h1.5M470 142.5h1.5M472 142.5h1.5M474 142.5h1.5M474.5 142.5h1.5M476.5 142.5h1.5M479.5 142.5h1.5M463.5 143h1.5M469.5 143h1.5M486.5 143h1.5M497.5 143h1.5M451.5 143.5h1.5M473 143.5h1.5M478 143.5h1.5M480 143.5h1.5M484 143.5h1.5M485.5 143.5h1.5M490 143.5h1.5M495.5 143.5h1.5M466.5 144h1.5M469.5 144h1.5M472 144h1.5M474.5 144h1.5M476 144h1.5M481.5 144h1.5M438 144.5h1.5M466 144.5h1.5M473 144.5h1.5M476.5 144.5h1.5M477 144.5h1.5M487.5 144.5h1.5M496 144.5h1.5M383.5 145h1.5M471.5 145h1.5M480.5 145h1.5M482.5 145h1.5M483 145h1.5M487 145h1.5M490 145h1.5M418.5 145.5h1.5M467.5 145.5h1.5M474 145.5h1.5M474.5 145.5h1.5M477.5 145.5h1.5M478.5 145.5h1.5M486.5 145.5h1.5M420.5 146h1.5M439.5 146h1.5M449 146h1.5M461.5 146h1.5M466.5 146h1.5M472.5 146h1.5M487 146h1.5M425 146.5h1.5M426 146.5h1.5M456 146.5h1.5M458 146.5h1.5M462.5 146.5h1.5M464 146.5h1.5M471.5 146.5h1.5M478 146.5h1.5M482.5 146.5h1.5M361.5 147h1.5M436.5 147h1.5M445 147h1.5M467.5 147h1.5M469.5 147h1.5M470 147h1.5M474 147h1.5M474.5 147h1.5M476 147h1.5M479 147h1.5M481.5 147h1.5M486 147h1.5M394 147.5h1.5M420 147.5h1.5M465 147.5h1.5M468 147.5h1.5M472.5 147.5h1.5M477.5 147.5h1.5M479.5 147.5h1.5M482.5 147.5h1.5M430 148h1.5M456.5 148h1.5M459 148h1.5M463 148h1.5M469.5 148h1.5M471 148h1.5M473 148h1.5M479 148h1.5M487 148h1.5M383 148.5h1.5M422 148.5h1.5M424.5 148.5h1.5M433.5 148.5h1.5M441 148.5h1.5M471 148.5h1.5M472 148.5h1.5M474.5 148.5h1.5M480.5 148.5h1.5M481 148.5h1.5M482.5 148.5h1.5M490.5 148.5h1.5M425 149h1.5M452.5 149h1.5M458.5 149h1.5M463 149h1.5M467.5 149h1.5M473 149h1.5M477.5 149h1.5M479 149h1.5M484.5 149h1.5M495.5 149h1.5M444.5 149.5h1.5M472 149.5h1.5M476 149.5h1.5M480.5 149.5h1.5M469 150h1.5M469.5 150h1.5M471 150h1.5M474.5 150h1.5M482 150h1.5M483 150h1.5M484 150h1.5M408 150.5h1.5M422.5 150.5h1.5M424 150.5h1.5M437.5 150.5h1.5M443.5 150.5h1.5M464 150.5h1.5M472.5 150.5h1.5M477.5 150.5h1.5M487 150.5h1.5M401.5 151h1.5M420 151h1.5M464 151h1.5M469 151h1.5M474.5 151h1.5M476 151h1.5M481 151h1.5M484.5 151h1.5M443.5 151.5h1.5M470.5 151.5h1.5M479 151.5h1.5M482.5 151.5h1.5M483 151.5h1.5M421.5 152h1.5M440.5 152h1.5M449.5 152h1.5M451 152h1.5M462.5 152h1.5M466.5 152h1.5M468.5 152h1.5M472.5 152h1.5M477 152h1.5M478.5 152h1.5M485 152h1.5M496 152h1.5M393.5 152.5h1.5M434.5 152.5h1.5M458.5 152.5h1.5M461.5 152.5h1.5M472 152.5h1.5M474.5 152.5h1.5M475.5 152.5h1.5M479 152.5h1.5M479.5 152.5h1.5M482 152.5h1.5M483.5 152.5h1.5M487 152.5h1.5M493 152.5h1.5M450 153h1.5M457 153h1.5M458 153h1.5M471.5 153h1.5M472.5 153h1.5M476 153h1.5M477.5 153h1.5M481 153h1.5M486 153h1.5M394 153.5h1.5M442 153.5h1.5M466.5 153.5h1.5M467 153.5h1.5M473.5 153.5h1.5M483 153.5h1.5M484 153.5h1.5M485.5 153.5h1.5M404.5 154h1.5M439 154h1.5M448 154h1.5M460.5 154h1.5M463 154h1.5M468.5 154h1.5M470 154h1.5M471.5 154h1.5M474 154h1.5M475.5 154h1.5M476.5 154h1.5M480.5 154h1.5M481.5 154h1.5M487 154h1.5M491.5 154h1.5M492 154h1.5M362 154.5h1.5M392.5 154.5h1.5M398 154.5h1.5M449 154.5h1.5M457.5 154.5h1.5M468.5 154.5h1.5M471 154.5h1.5M478 154.5h1.5M483 154.5h1.5M483.5 154.5h1.5M485 154.5h1.5M489.5 154.5h1.5M377 155h1.5M432 155h1.5M434 155h1.5M439.5 155h1.5M447 155h1.5M460 155h1.5M464.5 155h1.5M472.5 155h1.5M474.5 155h1.5M479 155h1.5M485.5 155h1.5M489 155h1.5M490.5 155h1.5M374 155.5h1.5M378.5 155.5h1.5M393 155.5h1.5M394.5 155.5h1.5M398 155.5h1.5M439.5 155.5h1.5M440 155.5h1.5M445 155.5h1.5M455.5 155.5h1.5M462.5 155.5h1.5M463 155.5h1.5M469.5 155.5h1.5M474 155.5h1.5M480 155.5h1.5M481.5 155.5h1.5M485 155.5h1.5M486.5 155.5h1.5M487.5 155.5h1.5M499.5 155.5h1.5M356 156h1.5M388.5 156h1.5M393.5 156h1.5M401.5 156h1.5M402.5 156h1.5M422.5 156h1.5M434.5 156h1.5M471.5 156h1.5M476 156h1.5M477 156h1.5M478.5 156h1.5M480 156h1.5M482 156h1.5M483.5 156h1.5M490 156h1.5M368 156.5h1.5M368.5 156.5h1.5M393 156.5h1.5M399.5 156.5h1.5M443.5 156.5h1.5M447.5 156.5h1.5M451 156.5h1.5M455.5 156.5h1.5M462.5 156.5h1.5M465.5 156.5h1.5M466 156.5h1.5M468 156.5h1.5M470.5 156.5h1.5M473 156.5h1.5M475 156.5h1.5M477.5 156.5h1.5M480.5 156.5h1.5M482 156.5h1.5M489 156.5h1.5M371.5 157h1.5M374.5 157h1.5M390 157h1.5M397.5 157h1.5M406 157h1.5M452 157h1.5M463.5 157h1.5M464.5 157h1.5M474 157h1.5M478.5 157h1.5M485 157h1.5M486 157h1.5M487.5 157h1.5M390 157.5h1.5M391 157.5h1.5M392 157.5h1.5M393 157.5h1.5M397.5 157.5h1.5M400 157.5h1.5M405 157.5h1.5M408 157.5h1.5M435.5 157.5h1.5M439 157.5h1.5M443 157.5h1.5M444.5 157.5h1.5M450.5 157.5h1.5M462 157.5h1.5M466 157.5h1.5M467.5 157.5h1.5M472 157.5h1.5M476 157.5h1.5M483 157.5h1.5M486 157.5h1.5M487.5 157.5h1.5M490.5 157.5h1.5M492.5 157.5h1.5M496 157.5h1.5M374.5 158h1.5M377 158h1.5M387.5 158h1.5M392 158h1.5M401 158h1.5M402 158h1.5M456 158h1.5M465.5 158h1.5M468.5 158h1.5M469.5 158h1.5M471 158h1.5M473 158h1.5M474.5 158h1.5M477 158h1.5M480 158h1.5M485 158h1.5M490.5 158h1.5M353 158.5h1.5M381 158.5h1.5M388 158.5h1.5M395.5 158.5h1.5M401.5 158.5h1.5M408.5 158.5h1.5M414 158.5h1.5M433 158.5h1.5M438.5 158.5h1.5M467 158.5h1.5M469.5 158.5h1.5M470.5 158.5h1.5M474.5 158.5h1.5M476.5 158.5h1.5M478.5 158.5h1.5M479.5 158.5h1.5M483.5 158.5h1.5M491 158.5h1.5M366 159h1.5M378 159h1.5M388.5 159h1.5M393 159h1.5M397 159h1.5M406.5 159h1.5M429.5 159h1.5M437 159h1.5M449 159h1.5M456.5 159h1.5M458.5 159h1.5M463.5 159h1.5M472.5 159h1.5M480.5 159h1.5M488 159h1.5M489 159h1.5M493.5 159h1.5M347.5 159.5h1.5M376 159.5h1.5M390.5 159.5h1.5M399 159.5h1.5M402.5 159.5h1.5M408.5 159.5h1.5M415.5 159.5h1.5M421.5 159.5h1.5M429 159.5h1.5M461.5 159.5h1.5M464.5 159.5h1.5M467.5 159.5h1.5M468 159.5h1.5M471.5 159.5h1.5M475 159.5h1.5M475.5 159.5h1.5M478 159.5h1.5M480.5 159.5h1.5M481 159.5h1.5M484.5 159.5h1.5M485 159.5h1.5M383 160h1.5M390 160h1.5M394 160h1.5M395.5 160h1.5M396 160h1.5M401.5 160h1.5M403.5 160h1.5M406 160h1.5M427 160h1.5M448 160h1.5M463.5 160h1.5M465 160h1.5M469.5 160h1.5M470.5 160h1.5M473 160h1.5M477 160h1.5M479 160h1.5M482.5 160h1.5M485 160h1.5M490.5 160h1.5M491 160h1.5M495.5 160h1.5M383 160.5h1.5M387.5 160.5h1.5M388.5 160.5h1.5M404.5 160.5h1.5M406.5 160.5h1.5M414.5 160.5h1.5M444.5 160.5h1.5M475 160.5h1.5M484 160.5h1.5M495 160.5h1.5M382.5 161h1.5M388 161h1.5M392.5 161h1.5M396 161h1.5M407.5 161h1.5M434.5 161h1.5M448.5 161h1.5M458.5 161h1.5M461.5 161h1.5M466 161h1.5M468 161h1.5M470.5 161h1.5M477 161h1.5M478.5 161h1.5M480 161h1.5M481 161h1.5M482 161h1.5M486 161h1.5M493.5 161h1.5M389 161.5h1.5M400 161.5h1.5M401.5 161.5h1.5M403.5 161.5h1.5M405.5 161.5h1.5M411.5 161.5h1.5M428.5 161.5h1.5M456 161.5h1.5M465 161.5h1.5M469 161.5h1.5M471.5 161.5h1.5M473 161.5h1.5M475 161.5h1.5M477.5 161.5h1.5M483 161.5h1.5M484.5 161.5h1.5M487 161.5h1.5M492 161.5h1.5M493.5 161.5h1.5M360 162h1.5M377 162h1.5M383 162h1.5M393.5 162h1.5M395 162h1.5M399.5 162h1.5M403 162h1.5M404.5 162h1.5M411 162h1.5M420.5 162h1.5M428 162h1.5M434.5 162h1.5M440.5 162h1.5M463 162h1.5M463.5 162h1.5M468 162h1.5M475.5 162h1.5M478.5 162h1.5M480 162h1.5M353.5 162.5h1.5M373.5 162.5h1.5M381 162.5h1.5M383.5 162.5h1.5M385.5 162.5h1.5M388.5 162.5h1.5M390 162.5h1.5M392.5 162.5h1.5M396 162.5h1.5M397.5 162.5h1.5M398 162.5h1.5M436.5 162.5h1.5M446.5 162.5h1.5M451.5 162.5h1.5M456 162.5h1.5M457.5 162.5h1.5M461.5 162.5h1.5M463.5 162.5h1.5M465 162.5h1.5M466 162.5h1.5M470 162.5h1.5M472.5 162.5h1.5M481.5 162.5h1.5M483 162.5h1.5M485.5 162.5h1.5M486.5 162.5h1.5M500 162.5h1.5M388.5 163h1.5M390.5 163h1.5M398 163h1.5M401 163h1.5M401.5 163h1.5M404 163h1.5M405.5 163h1.5M406.5 163h1.5M413 163h1.5M433.5 163h1.5M452.5 163h1.5M461 163h1.5M465.5 163h1.5M467.5 163h1.5M468.5 163h1.5M471 163h1.5M476 163h1.5M478.5 163h1.5M480 163h1.5M482 163h1.5M484.5 163h1.5M494.5 163h1.5M380.5 163.5h1.5M384 163.5h1.5M385 163.5h1.5M391.5 163.5h1.5M393.5 163.5h1.5M395 163.5h1.5M397.5 163.5h1.5M399.5 163.5h1.5M402.5 163.5h1.5M409 163.5h1.5M414 163.5h1.5M417.5 163.5h1.5M426 163.5h1.5M429.5 163.5h1.5M438.5 163.5h1.5M459 163.5h1.5M460 163.5h1.5M466.5 163.5h1.5M472.5 163.5h1.5M475.5 163.5h1.5M477 163.5h1.5M479 163.5h1.5M370.5 164h1.5M381 164h1.5M384.5 164h1.5M386.5 164h1.5M389.5 164h1.5M396.5 164h1.5M400 164h1.5M403 164h1.5M403.5 164h1.5M406.5 164h1.5M408 164h1.5M409.5 164h1.5M411.5 164h1.5M418.5 164h1.5M420.5 164h1.5M421 164h1.5M438.5 164h1.5M443 164h1.5M451.5 164h1.5M454 164h1.5M455 164h1.5M469.5 164h1.5M472 164h1.5M474 164h1.5M475 164h1.5M477.5 164h1.5M480.5 164h1.5M483 164h1.5M484 164h1.5M485 164h1.5M387.5 164.5h1.5M389 164.5h1.5M391 164.5h1.5M396.5 164.5h1.5M397 164.5h1.5M399 164.5h1.5M401.5 164.5h1.5M405 164.5h1.5M408 164.5h1.5M412.5 164.5h1.5M420.5 164.5h1.5M422.5 164.5h1.5M430.5 164.5h1.5M459.5 164.5h1.5M462 164.5h1.5M464 164.5h1.5M471 164.5h1.5M473 164.5h1.5M482 164.5h1.5M487 164.5h1.5M489 164.5h1.5M508 164.5h1.5M370.5 165h1.5M379.5 165h1.5M380 165h1.5M382 165h1.5M382.5 165h1.5M391.5 165h1.5M393 165h1.5M394 165h1.5M395 165h1.5M398.5 165h1.5M400.5 165h1.5M404 165h1.5M408.5 165h1.5M411.5 165h1.5M412.5 165h1.5M415 165h1.5M418.5 165h1.5M431.5 165h1.5M454 165h1.5M461.5 165h1.5M464.5 165h1.5M470 165h1.5M476.5 165h1.5M479 165h1.5M487 165h1.5M379 165.5h1.5M384 165.5h1.5M384.5 165.5h1.5M386.5 165.5h1.5M388.5 165.5h1.5M389.5 165.5h1.5M397 165.5h1.5M401 165.5h1.5M402.5 165.5h1.5M405.5 165.5h1.5M414.5 165.5h1.5M450 165.5h1.5M451.5 165.5h1.5M456.5 165.5h1.5M463 165.5h1.5M467 165.5h1.5M471.5 165.5h1.5M474 165.5h1.5M475.5 165.5h1.5M477.5 165.5h1.5M480.5 165.5h1.5M483 165.5h1.5M485 165.5h1.5M487.5 165.5h1.5M380 166h1.5M383.5 166h1.5M385.5 166h1.5M387 166h1.5M390.5 166h1.5M394 166h1.5M396 166h1.5M399 166h1.5M399.5 166h1.5M404 166h1.5M405 166h1.5M406 166h1.5M407.5 166h1.5M409 166h1.5M416 166h1.5M417 166h1.5M418.5 166h1.5M422.5 166h1.5M459 166h1.5M469 166h1.5M473 166h1.5M482.5 166h1.5M484.5 166h1.5M493 166h1.5M367.5 166.5h1.5M376 166.5h1.5M377.5 166.5h1.5M381 166.5h1.5M382 166.5h1.5M388 166.5h1.5M391.5 166.5h1.5M393 166.5h1.5M395 166.5h1.5M397.5 166.5h1.5M402 166.5h1.5M407 166.5h1.5M409 166.5h1.5M410.5 166.5h1.5M412.5 166.5h1.5M415 166.5h1.5M416 166.5h1.5M420.5 166.5h1.5M432.5 166.5h1.5M433.5 166.5h1.5M443 166.5h1.5M470 166.5h1.5M471.5 166.5h1.5M475.5 166.5h1.5M476.5 166.5h1.5M478.5 166.5h1.5M480.5 166.5h1.5M481 166.5h1.5M485.5 166.5h1.5M497.5 166.5h1.5M350.5 167h1.5M376 167h1.5M386 167h1.5M387.5 167h1.5M389.5 167h1.5M390.5 167h1.5M392.5 167h1.5M394 167h1.5M396.5 167h1.5M400.5 167h1.5M403.5 167h1.5M406 167h1.5M408 167h1.5M410 167h1.5M413.5 167h1.5M421 167h1.5M423.5 167h1.5M434.5 167h1.5M447.5 167h1.5M449.5 167h1.5M465.5 167h1.5M467 167h1.5M470 167h1.5M474.5 167h1.5M477.5 167h1.5M479 167h1.5M482 167h1.5M484 167h1.5M379.5 167.5h1.5M380.5 167.5h1.5M382 167.5h1.5M383.5 167.5h1.5M384.5 167.5h1.5M390 167.5h1.5M399 167.5h1.5M404.5 167.5h1.5M411.5 167.5h1.5M413 167.5h1.5M415 167.5h1.5M417.5 167.5h1.5M419 167.5h1.5M419.5 167.5h1.5M439.5 167.5h1.5M445 167.5h1.5M465.5 167.5h1.5M469.5 167.5h1.5M472.5 167.5h1.5M473 167.5h1.5M476.5 167.5h1.5M479.5 167.5h1.5M483 167.5h1.5M369 168h1.5M372 168h1.5M377.5 168h1.5M381.5 168h1.5M385 168h1.5M386.5 168h1.5M388.5 168h1.5M392 168h1.5M395 168h1.5M398 168h1.5M400.5 168h1.5M401.5 168h1.5M402.5 168h1.5M404 168h1.5M405.5 168h1.5M406.5 168h1.5M408.5 168h1.5M422.5 168h1.5M428 168h1.5M442 168h1.5M450.5 168h1.5M456.5 168h1.5M466 168h1.5M474.5 168h1.5M478 168h1.5M481 168h1.5M485 168h1.5M500 168h1.5M360.5 168.5h1.5M379 168.5h1.5M384.5 168.5h1.5M391.5 168.5h1.5M392.5 168.5h1.5M394 168.5h1.5M396.5 168.5h1.5M398.5 168.5h1.5M407 168.5h1.5M410 168.5h1.5M414.5 168.5h1.5M416.5 168.5h1.5M423.5 168.5h1.5M467 168.5h1.5M468 168.5h1.5M470 168.5h1.5M471 168.5h1.5M472.5 168.5h1.5M476 168.5h1.5M480.5 168.5h1.5M482 168.5h1.5M374 169h1.5M378.5 169h1.5M380.5 169h1.5M383 169h1.5M387 169h1.5M390 169h1.5M396 169h1.5M400 169h1.5M401.5 169h1.5M403 169h1.5M405.5 169h1.5M407 169h1.5M408.5 169h1.5M411.5 169h1.5M412.5 169h1.5M413.5 169h1.5M416 169h1.5M418 169h1.5M419.5 169h1.5M426 169h1.5M433.5 169h1.5M436.5 169h1.5M439 169h1.5M443 169h1.5M448 169h1.5M468.5 169h1.5M474 169h1.5M475 169h1.5M478.5 169h1.5M479 169h1.5M484 169h1.5M377.5 169.5h1.5M381.5 169.5h1.5M384 169.5h1.5M385.5 169.5h1.5M388 169.5h1.5M389 169.5h1.5M393 169.5h1.5M394.5 169.5h1.5M397.5 169.5h1.5M403.5 169.5h1.5M405 169.5h1.5M411 169.5h1.5M415 169.5h1.5M433 169.5h1.5M434.5 169.5h1.5M469.5 169.5h1.5M473 169.5h1.5M476.5 169.5h1.5M483.5 169.5h1.5M487 169.5h1.5M376.5 170h1.5M380.5 170h1.5M383 170h1.5M390.5 170h1.5M391.5 170h1.5M395 170h1.5M397 170h1.5M399 170h1.5M400 170h1.5M404.5 170h1.5M408 170h1.5M409.5 170h1.5M413.5 170h1.5M419.5 170h1.5M446 170h1.5M452.5 170h1.5M467 170h1.5M468.5 170h1.5M471 170h1.5M478.5 170h1.5M480.5 170h1.5M482.5 170h1.5M375 170.5h1.5M376.5 170.5h1.5M379.5 170.5h1.5M384 170.5h1.5M385 170.5h1.5M387 170.5h1.5M388 170.5h1.5M389 170.5h1.5M393.5 170.5h1.5M396 170.5h1.5M398 170.5h1.5M401.5 170.5h1.5M402.5 170.5h1.5M406.5 170.5h1.5M410 170.5h1.5M412 170.5h1.5M418.5 170.5h1.5M423.5 170.5h1.5M425.5 170.5h1.5M445.5 170.5h1.5M469.5 170.5h1.5M470 170.5h1.5M474.5 170.5h1.5M476 170.5h1.5M479 170.5h1.5M354.5 171h1.5M374 171h1.5M377 171h1.5M381.5 171h1.5M386.5 171h1.5M392 171h1.5M401 171h1.5M403.5 171h1.5M406 171h1.5M407 171h1.5M411.5 171h1.5M414 171h1.5M415.5 171h1.5M417.5 171h1.5M427 171h1.5M433 171h1.5M463.5 171h1.5M465 171h1.5M465.5 171h1.5M486.5 171h1.5M373 171.5h1.5M378.5 171.5h1.5M380.5 171.5h1.5M383.5 171.5h1.5M385 171.5h1.5M389 171.5h1.5M390.5 171.5h1.5M392 171.5h1.5M393 171.5h1.5M394.5 171.5h1.5M396 171.5h1.5M397.5 171.5h1.5M399.5 171.5h1.5M401.5 171.5h1.5M403 171.5h1.5M404.5 171.5h1.5M408.5 171.5h1.5M410 171.5h1.5M413 171.5h1.5M426 171.5h1.5M428 171.5h1.5M435 171.5h1.5M448 171.5h1.5M462.5 171.5h1.5M467 171.5h1.5M477.5 171.5h1.5M481.5 171.5h1.5M374.5 172h1.5M375 172h1.5M378.5 172h1.5M382.5 172h1.5M387.5 172h1.5M395 172h1.5M399 172h1.5M401 172h1.5M406.5 172h1.5M408.5 172h1.5M412.5 172h1.5M413 172h1.5M414.5 172h1.5M417.5 172h1.5M418 172h1.5M420.5 172h1.5M425.5 172h1.5M433.5 172h1.5M465 172h1.5M466 172h1.5M473 172h1.5M475 172h1.5M476.5 172h1.5M482 172h1.5M484.5 172h1.5M487.5 172h1.5M488.5 172h1.5M368.5 172.5h1.5M380.5 172.5h1.5M382 172.5h1.5M383.5 172.5h1.5M386 172.5h1.5M390 172.5h1.5M393 172.5h1.5M394 172.5h1.5M396.5 172.5h1.5M398 172.5h1.5M399.5 172.5h1.5M404 172.5h1.5M405 172.5h1.5M407.5 172.5h1.5M411 172.5h1.5M415 172.5h1.5M416 172.5h1.5M420.5 172.5h1.5M452 172.5h1.5M457 172.5h1.5M470 172.5h1.5M472 172.5h1.5M474 172.5h1.5M488 172.5h1.5M368.5 173h1.5M375 173h1.5M376.5 173h1.5M379 173h1.5M383 173h1.5M385 173h1.5M389 173h1.5M391.5 173h1.5M396 173h1.5M402.5 173h1.5M406 173h1.5M407 173h1.5M410 173h1.5M411 173h1.5M421.5 173h1.5M433 173h1.5M434 173h1.5M439 173h1.5M447 173h1.5M453 173h1.5M456 173h1.5M473.5 173h1.5M482.5 173h1.5M374.5 173.5h1.5M377 173.5h1.5M378.5 173.5h1.5M379.5 173.5h1.5M387 173.5h1.5M388.5 173.5h1.5M390 173.5h1.5M394.5 173.5h1.5M398.5 173.5h1.5M400 173.5h1.5M401.5 173.5h1.5M408 173.5h1.5M409 173.5h1.5M412.5 173.5h1.5M413.5 173.5h1.5M416 173.5h1.5M417.5 173.5h1.5M421.5 173.5h1.5M424.5 173.5h1.5M433 173.5h1.5M449.5 173.5h1.5M452.5 173.5h1.5M458 173.5h1.5M464.5 173.5h1.5M466 173.5h1.5M469.5 173.5h1.5M480 173.5h1.5M369.5 174h1.5M377 174h1.5M381 174h1.5M382 174h1.5M384.5 174h1.5M385.5 174h1.5M392 174h1.5M392.5 174h1.5M394 174h1.5M395 174h1.5M397 174h1.5M400.5 174h1.5M403.5 174h1.5M405 174h1.5M415 174h1.5M424 174h1.5M451 174h1.5M464 174h1.5M467 174h1.5M470 174h1.5M471.5 174h1.5M472.5 174h1.5M481 174h1.5M484.5 174h1.5M365.5 174.5h1.5M374.5 174.5h1.5M375 174.5h1.5M378 174.5h1.5M379.5 174.5h1.5M383.5 174.5h1.5M390.5 174.5h1.5M396 174.5h1.5M401 174.5h1.5M403 174.5h1.5M406.5 174.5h1.5M410 174.5h1.5M411.5 174.5h1.5M414.5 174.5h1.5M426.5 174.5h1.5M443.5 174.5h1.5M448.5 174.5h1.5M465.5 174.5h1.5M473 174.5h1.5M364.5 175h1.5M382 175h1.5M386.5 175h1.5M387 175h1.5M388.5 175h1.5M389.5 175h1.5M394 175h1.5M397 175h1.5M398 175h1.5M399 175h1.5M402 175h1.5M405.5 175h1.5M406.5 175h1.5M407.5 175h1.5M409 175h1.5M413 175h1.5M415 175h1.5M416.5 175h1.5M418 175h1.5M432.5 175h1.5M433.5 175h1.5M461 175h1.5M468.5 175h1.5M469 175h1.5M472.5 175h1.5M479.5 175h1.5M502.5 175h1.5M378.5 175.5h1.5M380.5 175.5h1.5M381.5 175.5h1.5M385 175.5h1.5M390 175.5h1.5M391.5 175.5h1.5M392.5 175.5h1.5M395 175.5h1.5M396 175.5h1.5M398.5 175.5h1.5M400 175.5h1.5M404 175.5h1.5M411.5 175.5h1.5M412.5 175.5h1.5M416.5 175.5h1.5M418.5 175.5h1.5M420 175.5h1.5M420.5 175.5h1.5M422 175.5h1.5M423 175.5h1.5M447 175.5h1.5M464 175.5h1.5M468 175.5h1.5M485 175.5h1.5M366 176h1.5M379 176h1.5M383.5 176h1.5M386 176h1.5M395 176h1.5M397.5 176h1.5M401.5 176h1.5M403.5 176h1.5M410 176h1.5M414.5 176h1.5M419.5 176h1.5M422 176h1.5M426 176h1.5M470 176h1.5M478 176h1.5M481 176h1.5M357 176.5h1.5M373 176.5h1.5M377 176.5h1.5M378 176.5h1.5M382.5 176.5h1.5M384.5 176.5h1.5M387 176.5h1.5M388.5 176.5h1.5M394 176.5h1.5M402 176.5h1.5M405.5 176.5h1.5M407 176.5h1.5M408 176.5h1.5M409.5 176.5h1.5M413.5 176.5h1.5M415 176.5h1.5M418 176.5h1.5M421 176.5h1.5M434 176.5h1.5M449 176.5h1.5M462 176.5h1.5M465 176.5h1.5M473.5 176.5h1.5M474.5 176.5h1.5M374 177h1.5M375.5 177h1.5M377 177h1.5M380.5 177h1.5M382 177h1.5M385.5 177h1.5M387 177h1.5M390 177h1.5M391.5 177h1.5M392.5 177h1.5M396 177h1.5M398.5 177h1.5M399 177h1.5M400.5 177h1.5M404 177h1.5M405 177h1.5M407.5 177h1.5M410.5 177h1.5M411.5 177h1.5M413 177h1.5M415 177h1.5M419 177h1.5M431 177h1.5M433 177h1.5M453 177h1.5M481.5 177h1.5M486 177h1.5M379 177.5h1.5M380.5 177.5h1.5M383 177.5h1.5M393.5 177.5h1.5M394.5 177.5h1.5M397 177.5h1.5M403 177.5h1.5M409.5 177.5h1.5M416.5 177.5h1.5M420.5 177.5h1.5M422 177.5h1.5M427.5 177.5h1.5M445 177.5h1.5M447 177.5h1.5M449.5 177.5h1.5M466.5 177.5h1.5M471 177.5h1.5M472.5 177.5h1.5M474 177.5h1.5M477.5 177.5h1.5M478.5 177.5h1.5M482.5 177.5h1.5M355 178h1.5M359 178h1.5M362 178h1.5M366 178h1.5M384 178h1.5M386.5 178h1.5M388.5 178h1.5M390 178h1.5M401.5 178h1.5M403.5 178h1.5M406 178h1.5M408 178h1.5M410.5 178h1.5M411.5 178h1.5M413 178h1.5M414.5 178h1.5M417.5 178h1.5M419 178h1.5M443.5 178h1.5M466 178h1.5M374 178.5h1.5M375 178.5h1.5M376.5 178.5h1.5M378 178.5h1.5M381.5 178.5h1.5M383.5 178.5h1.5M385 178.5h1.5M387 178.5h1.5M391 178.5h1.5M392.5 178.5h1.5M395 178.5h1.5M396 178.5h1.5M397 178.5h1.5M398.5 178.5h1.5M400 178.5h1.5M405 178.5h1.5M406 178.5h1.5M407.5 178.5h1.5M409.5 178.5h1.5M419.5 178.5h1.5M421.5 178.5h1.5M444 178.5h1.5M460 178.5h1.5M477.5 178.5h1.5M483 178.5h1.5M374 179h1.5M377 179h1.5M377.5 179h1.5M379 179h1.5M380 179h1.5M381.5 179h1.5M382.5 179h1.5M388 179h1.5M389.5 179h1.5M394 179h1.5M402 179h1.5M404 179h1.5M411.5 179h1.5M413 179h1.5M414.5 179h1.5M418 179h1.5M421 179h1.5M447.5 179h1.5M458.5 179h1.5M460.5 179h1.5M463.5 179h1.5M479.5 179h1.5M481 179h1.5M385.5 179.5h1.5M387 179.5h1.5M392 179.5h1.5M392.5 179.5h1.5M397 179.5h1.5M398.5 179.5h1.5M400 179.5h1.5M401 179.5h1.5M403.5 179.5h1.5M405.5 179.5h1.5M408 179.5h1.5M409 179.5h1.5M410.5 179.5h1.5M417.5 179.5h1.5M420.5 179.5h1.5M422 179.5h1.5M424 179.5h1.5M472.5 179.5h1.5M482.5 179.5h1.5M355.5 180h1.5M370.5 180h1.5M372.5 180h1.5M383 180h1.5M384.5 180h1.5M390.5 180h1.5M395.5 180h1.5M402.5 180h1.5M403.5 180h1.5M407 180h1.5M416 180h1.5M419 180h1.5M419.5 180h1.5M423.5 180h1.5M468 180h1.5M479.5 180h1.5M368 180.5h1.5M374.5 180.5h1.5M379.5 180.5h1.5M380 180.5h1.5M381.5 180.5h1.5M388.5 180.5h1.5M390 180.5h1.5M394 180.5h1.5M398.5 180.5h1.5M405 180.5h1.5M408 180.5h1.5M410.5 180.5h1.5M412 180.5h1.5M412.5 180.5h1.5M415 180.5h1.5M417.5 180.5h1.5M427 180.5h1.5M463 180.5h1.5M466.5 180.5h1.5M476.5 180.5h1.5M501.5 180.5h1.5M378.5 181h1.5M382 181h1.5M384 181h1.5M386 181h1.5M387 181h1.5M389.5 181h1.5M391 181h1.5M392.5 181h1.5M395.5 181h1.5M397 181h1.5M400 181h1.5M400.5 181h1.5M402 181h1.5M406 181h1.5M409.5 181h1.5M441 181h1.5M451.5 181h1.5M467.5 181h1.5M491.5 181h1.5M375.5 181.5h1.5M379.5 181.5h1.5M382.5 181.5h1.5M385 181.5h1.5M394 181.5h1.5M398 181.5h1.5M399.5 181.5h1.5M402 181.5h1.5M403.5 181.5h1.5M405.5 181.5h1.5M407 181.5h1.5M412 181.5h1.5M414 181.5h1.5M416.5 181.5h1.5M419.5 181.5h1.5M421 181.5h1.5M424.5 181.5h1.5M475 181.5h1.5M481 181.5h1.5M386.5 182h1.5M388 182h1.5M389 182h1.5M393 182h1.5M397 182h1.5M400.5 182h1.5M404.5 182h1.5M408 182h1.5M410.5 182h1.5M412.5 182h1.5M415.5 182h1.5M418.5 182h1.5M423 182h1.5M431.5 182h1.5M462.5 182h1.5M470 182h1.5M366 182.5h1.5M380.5 182.5h1.5M382 182.5h1.5M384 182.5h1.5M390 182.5h1.5M391.5 182.5h1.5M395.5 182.5h1.5M409.5 182.5h1.5M413.5 182.5h1.5M420 182.5h1.5M450 182.5h1.5M462.5 182.5h1.5M470 182.5h1.5M475 182.5h1.5M378.5 183h1.5M379 183h1.5M380.5 183h1.5M382.5 183h1.5M383 183h1.5M385 183h1.5M386.5 183h1.5M387 183h1.5M388.5 183h1.5M390 183h1.5M390.5 183h1.5M392 183h1.5M393.5 183h1.5M394.5 183h1.5M395.5 183h1.5M396.5 183h1.5M398 183h1.5M398.5 183h1.5M400 183h1.5M401.5 183h1.5M403 183h1.5M404 183h1.5M405.5 183h1.5M407 183h1.5M408 183h1.5M409.5 183h1.5M411 183h1.5M412.5 183h1.5M415 183h1.5M419.5 183h1.5M424.5 183h1.5M438 183h1.5M450.5 183h1.5M473.5 183h1.5M476 183h1.5" stroke="#7a7a7a" stroke-width="1.5" fill="none"/>
<path d="M426.9 47.5V183.8M346.2 149.4H514.5" stroke="#1a1a1a" stroke-width="1.2" fill="none"/>
<rect x="346.2" y="47.5" width="168.30" height="136.3" fill="none" stroke="#1a1a1a" stroke-width="1.4"/>
<path d="M346.20 183.8v3.8M346.2 183.80h-3.8M358.87 183.8v2.4M346.2 173.54h-2.4M366.27 183.8v2.4M346.2 167.54h-2.4M371.53 183.8v2.4M346.2 163.28h-2.4M375.61 183.8v2.4M346.2 159.98h-2.4M378.94 183.8v2.4M346.2 157.28h-2.4M381.76 183.8v2.4M346.2 155.00h-2.4M384.20 183.8v2.4M346.2 153.03h-2.4M386.35 183.8v2.4M346.2 151.28h-2.4M388.27 183.8v3.8M346.2 149.73h-3.8M400.94 183.8v2.4M346.2 139.47h-2.4M408.35 183.8v2.4M346.2 133.47h-2.4M413.61 183.8v2.4M346.2 129.21h-2.4M417.68 183.8v2.4M346.2 125.91h-2.4M421.02 183.8v2.4M346.2 123.21h-2.4M423.83 183.8v2.4M346.2 120.93h-2.4M426.27 183.8v2.4M346.2 118.95h-2.4M428.42 183.8v2.4M346.2 117.21h-2.4M430.35 183.8v3.8M346.2 115.65h-3.8M443.02 183.8v2.4M346.2 105.39h-2.4M450.42 183.8v2.4M346.2 99.39h-2.4M455.68 183.8v2.4M346.2 95.13h-2.4M459.76 183.8v2.4M346.2 91.83h-2.4M463.09 183.8v2.4M346.2 89.13h-2.4M465.91 183.8v2.4M346.2 86.85h-2.4M468.35 183.8v2.4M346.2 84.88h-2.4M470.50 183.8v2.4M346.2 83.13h-2.4M472.43 183.8v3.8M346.2 81.58h-3.8M485.09 183.8v2.4M346.2 71.32h-2.4M492.50 183.8v2.4M346.2 65.32h-2.4M497.76 183.8v2.4M346.2 61.06h-2.4M501.83 183.8v2.4M346.2 57.76h-2.4M505.17 183.8v2.4M346.2 55.06h-2.4M507.98 183.8v2.4M346.2 52.78h-2.4M510.42 183.8v2.4M346.2 50.80h-2.4M512.57 183.8v2.4M346.2 49.06h-2.4M514.50 183.8v3.8M346.2 47.5h-3.8" stroke="#111" stroke-width="1.15" fill="none"/>
<text x="347.50" y="197.30" font-size="10.9" text-anchor="middle" fill="#111">10<tspan dy="-4.3" font-size="7.8">0</tspan></text>
<text x="389.47" y="197.30" font-size="10.9" text-anchor="middle" fill="#111">10<tspan dy="-4.3" font-size="7.8">1</tspan></text>
<text x="427.95" y="197.30" font-size="10.9" text-anchor="middle" fill="#111">10<tspan dy="-4.3" font-size="7.8">2</tspan></text>
<text x="469.93" y="197.30" font-size="10.9" text-anchor="middle" fill="#111">10<tspan dy="-4.3" font-size="7.8">3</tspan></text>
<text x="509.90" y="197.30" font-size="10.9" text-anchor="middle" fill="#111">10<tspan dy="-4.3" font-size="7.8">4</tspan></text>
<text transform="translate(339.30,181.50) rotate(-90)" font-size="10.9" text-anchor="middle" fill="#111">10<tspan dy="-4.3" font-size="7.8">0</tspan></text>
<text transform="translate(339.30,152.03) rotate(-90)" font-size="10.9" text-anchor="middle" fill="#111">10<tspan dy="-4.3" font-size="7.8">1</tspan></text>
<text transform="translate(339.30,116.65) rotate(-90)" font-size="10.9" text-anchor="middle" fill="#111">10<tspan dy="-4.3" font-size="7.8">2</tspan></text>
<text transform="translate(339.30,83.17) rotate(-90)" font-size="10.9" text-anchor="middle" fill="#111">10<tspan dy="-4.3" font-size="7.8">3</tspan></text>
<text transform="translate(339.30,49.90) rotate(-90)" font-size="10.9" text-anchor="middle" fill="#111">10<tspan dy="-4.3" font-size="7.8">4</tspan></text>
<text transform="translate(326.60,116.30) rotate(-90)" font-size="11.5" text-anchor="middle" fill="#111" textLength="12" lengthAdjust="spacingAndGlyphs">PI</text>
<text x="384.00" y="43.20" font-size="11.6" fill="#111" textLength="91.1" lengthAdjust="spacingAndGlyphs">MIEG3 day 7.007</text>
<text x="431.00" y="207.00" font-size="10.6" text-anchor="middle" fill="#111" textLength="75" lengthAdjust="spacingAndGlyphs">Annexin Y-Cy5</text>
<text x="510.40" y="69.80" font-size="24.5" font-weight="bold" text-anchor="end" fill="#000" textLength="45.1" lengthAdjust="spacingAndGlyphs">14%</text>
<path d="M261.5 279h1.5M254 285.5h1.5M249 289h1.5M291.5 289h1.5M288 294.5h1.5M275 314.5h1.5M245 315h1.5M271 316h1.5M179 319.5h1.5M186.5 322.5h1.5M281.5 323h1.5M258 324.5h1.5M267.5 325h1.5M195 325.5h1.5M269.5 326h1.5M273.5 326h1.5M260 326.5h1.5M195 327.5h1.5M281 327.5h1.5M184 328.5h1.5M241 328.5h1.5M179 329.5h1.5M275.5 330h1.5M216 330.5h1.5M267 330.5h1.5M264 331h1.5M186.5 333.5h1.5M192.5 333.5h1.5M190.5 334h1.5M194 334h1.5M201.5 334.5h1.5M189.5 335.5h1.5M198.5 335.5h1.5M199 335.5h1.5M264 335.5h1.5M275 335.5h1.5M174 336h1.5M205.5 336.5h1.5M174.5 337h1.5M272 337h1.5M180 337.5h1.5M182 337.5h1.5M197.5 337.5h1.5M199.5 337.5h1.5M186.5 338h1.5M195.5 338.5h1.5M202 338.5h1.5M221.5 339h1.5M272 339.5h1.5M162.5 340h1.5M177.5 340h1.5M181 340h1.5M199.5 340h1.5M200 340h1.5M274.5 340h1.5M174 340.5h1.5M276 340.5h1.5M277.5 340.5h1.5M184.5 341h1.5M189.5 341h1.5M191 341h1.5M216 341h1.5M270 341h1.5M273.5 341h1.5M282 341h1.5M174.5 341.5h1.5M184 341.5h1.5M199.5 341.5h1.5M211.5 341.5h1.5M161.5 342h1.5M171 342h1.5M183 342h1.5M186.5 342h1.5M188.5 342h1.5M192 342h1.5M199.5 342h1.5M226.5 342h1.5M229 342h1.5M162.5 342.5h1.5M187 342.5h1.5M193 342.5h1.5M191 343h1.5M194 343h1.5M268.5 343h1.5M195 343.5h1.5M174.5 344h1.5M176.5 344h1.5M182 344h1.5M188 344h1.5M193.5 344h1.5M196 344h1.5M265 344h1.5M268.5 344h1.5M174 344.5h1.5M179.5 344.5h1.5M198 344.5h1.5M200.5 344.5h1.5M161 345h1.5M184.5 345h1.5M190.5 345h1.5M194.5 345h1.5M200.5 345h1.5M271.5 345h1.5M178 345.5h1.5M186.5 345.5h1.5M196 345.5h1.5M227 345.5h1.5M164.5 346h1.5M172 346h1.5M182.5 346h1.5M196 346h1.5M198 346h1.5M269.5 346h1.5M272 346h1.5M183.5 346.5h1.5M185.5 346.5h1.5M200.5 346.5h1.5M228 346.5h1.5M267.5 346.5h1.5M170.5 347h1.5M176.5 347h1.5M178.5 347h1.5M193 347h1.5M197 347h1.5M271 347h1.5M169 347.5h1.5M196.5 347.5h1.5M173 348.5h1.5M174.5 348.5h1.5M197.5 348.5h1.5M251 348.5h1.5M263 348.5h1.5M273.5 348.5h1.5M178.5 349h1.5M182.5 349h1.5M193 349h1.5M201.5 349h1.5M202 349h1.5M219.5 349h1.5M161 349.5h1.5M179 349.5h1.5M193 349.5h1.5M199.5 349.5h1.5M245 349.5h1.5M271 349.5h1.5M163 350h1.5M176 350h1.5M179.5 350h1.5M193.5 350h1.5M198 350h1.5M271.5 350h1.5M275.5 350h1.5M171.5 350.5h1.5M198.5 350.5h1.5M199 350.5h1.5M271.5 350.5h1.5M196.5 351h1.5M170.5 351.5h1.5M172.5 351.5h1.5M204 351.5h1.5M258.5 351.5h1.5M175 352h1.5M177 352h1.5M178.5 352h1.5M251 352h1.5M177.5 352.5h1.5M199.5 352.5h1.5M171.5 353h1.5M202.5 353h1.5M208.5 353h1.5M168 354h1.5M204 354h1.5M207 354.5h1.5M168 355h1.5M173.5 355h1.5M176 355h1.5M202.5 355h1.5M203 355h1.5M259 355h1.5M199.5 355.5h1.5M210 355.5h1.5M248 355.5h1.5M275 355.5h1.5M174 356h1.5M202.5 356h1.5M249 356h1.5M252.5 356h1.5M171.5 356.5h1.5M174.5 356.5h1.5M175 356.5h1.5M203.5 356.5h1.5M172 357h1.5M199.5 357h1.5M201 357h1.5M215 357h1.5M178 357.5h1.5M199 357.5h1.5M200.5 357.5h1.5M202 357.5h1.5M177.5 358h1.5M203.5 358h1.5M205.5 358h1.5M208.5 358h1.5M235.5 358.5h1.5M199.5 359h1.5M201 359.5h1.5M241.5 359.5h1.5M172.5 360h1.5M173 360h1.5M176 360h1.5M207 360h1.5M173 360.5h1.5M199.5 360.5h1.5M172.5 361h1.5M174.5 361h1.5M197.5 361.5h1.5M201.5 361.5h1.5M170.5 362h1.5M203 362h1.5M172 362.5h1.5M173.5 362.5h1.5M198.5 362.5h1.5M199 362.5h1.5M204 362.5h1.5M205.5 362.5h1.5M173.5 363h1.5M202 363h1.5M218 363h1.5M202 363.5h1.5M243 363.5h1.5M200 364h1.5M269 364h1.5M270.5 364h1.5M172 364.5h1.5M175 364.5h1.5M200 364.5h1.5M202.5 364.5h1.5M171.5 365h1.5M174.5 365.5h1.5M198.5 366h1.5M200 366h1.5M174 366.5h1.5M272.5 366.5h1.5M173.5 367h1.5M206.5 367h1.5M170.5 367.5h1.5M177 367.5h1.5M199.5 367.5h1.5M229.5 367.5h1.5M168.5 368h1.5M197.5 368h1.5M201 368h1.5M205 368h1.5M209.5 368h1.5M168.5 368.5h1.5M201 368.5h1.5M237.5 368.5h1.5M168 369h1.5M170 369h1.5M177.5 369h1.5M197.5 369h1.5M193.5 369.5h1.5M194 369.5h1.5M176 370h1.5M177.5 370h1.5M205.5 370h1.5" stroke="#484848" stroke-width="1.5" fill="none"/>
<path d="M211.5 316h1.5M238 319h1.5M270 321h1.5M178.5 323.5h1.5M186.5 323.5h1.5M209 323.5h1.5M178 324.5h1.5M275 326h1.5M179 326.5h1.5M235.5 326.5h1.5M268.5 327h1.5M290 328h1.5M187.5 328.5h1.5M200 328.5h1.5M272 328.5h1.5M266.5 329.5h1.5M185 330h1.5M187 330.5h1.5M273 330.5h1.5M169.5 331h1.5M188 331h1.5M292.5 331h1.5M223 331.5h1.5M167 332h1.5M182 332h1.5M181 332.5h1.5M266 333h1.5M291.5 333h1.5M185.5 333.5h1.5M195.5 333.5h1.5M187 334h1.5M229.5 334h1.5M266 334.5h1.5M270.5 334.5h1.5M277 334.5h1.5M164 335h1.5M190 335h1.5M264.5 335h1.5M167.5 335.5h1.5M268 335.5h1.5M181 336h1.5M178 336.5h1.5M242 336.5h1.5M271.5 336.5h1.5M191 337.5h1.5M191.5 337.5h1.5M176 338.5h1.5M196.5 338.5h1.5M163 339h1.5M186 339h1.5M187.5 339h1.5M193 339h1.5M225.5 339h1.5M186 340h1.5M161.5 340.5h1.5M181.5 340.5h1.5M184 340.5h1.5M184.5 340.5h1.5M186.5 340.5h1.5M188 340.5h1.5M191.5 340.5h1.5M193.5 340.5h1.5M197 340.5h1.5M212 340.5h1.5M176.5 341h1.5M191 341h1.5M210.5 341h1.5M226 341h1.5M272.5 341h1.5M174.5 341.5h1.5M180.5 341.5h1.5M185.5 341.5h1.5M192 341.5h1.5M174.5 342h1.5M183.5 342h1.5M184 342h1.5M189.5 342h1.5M191.5 342h1.5M192.5 342h1.5M195 342h1.5M250 342h1.5M182 342.5h1.5M188.5 342.5h1.5M190 342.5h1.5M193.5 342.5h1.5M273.5 342.5h1.5M174 343h1.5M179 343h1.5M180.5 343h1.5M185.5 343h1.5M188 343h1.5M189.5 343h1.5M192 343h1.5M182.5 343.5h1.5M184 343.5h1.5M185.5 343.5h1.5M186.5 343.5h1.5M190.5 343.5h1.5M193 343.5h1.5M173.5 344h1.5M178.5 344h1.5M182 344h1.5M187.5 344h1.5M204 344h1.5M180 344.5h1.5M189 344.5h1.5M191.5 344.5h1.5M193.5 344.5h1.5M184.5 345h1.5M186 345h1.5M190.5 345h1.5M192 345h1.5M202 345h1.5M175.5 345.5h1.5M182 345.5h1.5M183.5 345.5h1.5M184.5 345.5h1.5M186.5 345.5h1.5M188.5 345.5h1.5M190 345.5h1.5M191.5 345.5h1.5M192.5 345.5h1.5M194 345.5h1.5M195 345.5h1.5M169 346h1.5M171 346h1.5M175.5 346h1.5M177.5 346h1.5M183 346h1.5M186 346h1.5M187 346h1.5M188.5 346h1.5M196 346h1.5M200.5 346h1.5M204 346h1.5M194.5 346.5h1.5M270.5 346.5h1.5M173.5 347h1.5M176 347h1.5M182 347h1.5M184 347h1.5M185 347h1.5M189 347h1.5M190.5 347h1.5M192 347h1.5M193 347h1.5M194 347h1.5M228 347h1.5M264 347h1.5M175 347.5h1.5M177.5 347.5h1.5M179 347.5h1.5M183.5 347.5h1.5M186.5 347.5h1.5M188 347.5h1.5M192 347.5h1.5M232 347.5h1.5M180.5 348h1.5M186.5 348h1.5M197.5 348h1.5M212 348h1.5M172 348.5h1.5M176.5 348.5h1.5M182 348.5h1.5M183 348.5h1.5M185 348.5h1.5M189 348.5h1.5M190.5 348.5h1.5M193 348.5h1.5M194.5 348.5h1.5M196 348.5h1.5M171.5 349h1.5M175.5 349h1.5M177.5 349h1.5M179 349h1.5M184 349h1.5M188 349h1.5M192 349h1.5M195 349h1.5M178.5 349.5h1.5M180 349.5h1.5M181.5 349.5h1.5M182 349.5h1.5M183.5 349.5h1.5M186.5 349.5h1.5M198.5 349.5h1.5M199.5 349.5h1.5M167.5 350h1.5M176.5 350h1.5M180.5 350h1.5M185.5 350h1.5M189.5 350h1.5M191 350h1.5M193.5 350h1.5M196 350h1.5M197 350h1.5M198 350h1.5M199.5 350h1.5M169 350.5h1.5M174.5 350.5h1.5M178 350.5h1.5M184.5 350.5h1.5M188 350.5h1.5M192.5 350.5h1.5M202 350.5h1.5M179 351h1.5M181.5 351h1.5M183 351h1.5M185 351h1.5M186.5 351h1.5M189.5 351h1.5M190 351h1.5M195 351h1.5M207.5 351h1.5M214.5 351h1.5M169 351.5h1.5M175.5 351.5h1.5M177.5 351.5h1.5M180.5 351.5h1.5M183 351.5h1.5M183.5 351.5h1.5M191.5 351.5h1.5M193.5 351.5h1.5M196 351.5h1.5M197.5 351.5h1.5M200 351.5h1.5M205.5 351.5h1.5M159 352h1.5M180.5 352h1.5M185 352h1.5M188 352h1.5M193 352h1.5M197 352h1.5M199.5 352h1.5M202 352h1.5M215 352h1.5M179 352.5h1.5M181.5 352.5h1.5M186.5 352.5h1.5M188 352.5h1.5M188.5 352.5h1.5M190 352.5h1.5M194.5 352.5h1.5M201.5 352.5h1.5M175.5 353h1.5M176 353h1.5M177.5 353h1.5M182.5 353h1.5M184 353h1.5M185.5 353h1.5M188.5 353h1.5M191.5 353h1.5M194 353h1.5M195.5 353h1.5M196.5 353h1.5M178.5 353.5h1.5M180.5 353.5h1.5M181 353.5h1.5M186 353.5h1.5M192.5 353.5h1.5M198 353.5h1.5M204.5 353.5h1.5M174 354h1.5M176.5 354h1.5M177.5 354h1.5M179.5 354h1.5M182.5 354h1.5M184 354h1.5M187.5 354h1.5M190 354h1.5M196.5 354h1.5M199 354h1.5M172.5 354.5h1.5M175 354.5h1.5M179 354.5h1.5M185.5 354.5h1.5M186.5 354.5h1.5M189 354.5h1.5M191 354.5h1.5M194 354.5h1.5M195.5 354.5h1.5M199.5 354.5h1.5M200.5 354.5h1.5M221 354.5h1.5M267 354.5h1.5M277.5 354.5h1.5M169.5 355h1.5M170 355h1.5M176 355h1.5M179.5 355h1.5M181 355h1.5M183.5 355h1.5M184 355h1.5M187.5 355h1.5M192.5 355h1.5M197.5 355h1.5M177.5 355.5h1.5M182 355.5h1.5M189.5 355.5h1.5M196.5 355.5h1.5M198 355.5h1.5M202.5 355.5h1.5M206.5 355.5h1.5M208 355.5h1.5M170 356h1.5M172.5 356h1.5M174.5 356h1.5M176 356h1.5M178.5 356h1.5M185 356h1.5M186.5 356h1.5M188 356h1.5M190.5 356h1.5M191 356h1.5M193.5 356h1.5M195 356h1.5M199.5 356h1.5M210 356h1.5M268.5 356h1.5M272 356h1.5M272.5 356h1.5M166 356.5h1.5M176.5 356.5h1.5M179.5 356.5h1.5M181 356.5h1.5M183 356.5h1.5M183.5 356.5h1.5M186 356.5h1.5M189 356.5h1.5M192 356.5h1.5M169.5 357h1.5M174 357h1.5M178 357h1.5M181.5 357h1.5M194.5 357h1.5M195.5 357h1.5M197 357h1.5M198 357h1.5M221.5 357h1.5M172.5 357.5h1.5M175 357.5h1.5M177.5 357.5h1.5M179 357.5h1.5M181 357.5h1.5M182.5 357.5h1.5M184 357.5h1.5M185.5 357.5h1.5M187.5 357.5h1.5M190 357.5h1.5M191 357.5h1.5M192.5 357.5h1.5M193.5 357.5h1.5M196 357.5h1.5M199.5 357.5h1.5M171.5 358h1.5M173.5 358h1.5M175.5 358h1.5M179.5 358h1.5M186 358h1.5M189 358h1.5M193 358h1.5M194.5 358h1.5M197 358h1.5M198 358h1.5M201.5 358h1.5M203 358h1.5M205.5 358h1.5M233.5 358h1.5M180.5 358.5h1.5M181.5 358.5h1.5M184.5 358.5h1.5M185 358.5h1.5M199.5 358.5h1.5M261.5 358.5h1.5M159 359h1.5M171.5 359h1.5M172.5 359h1.5M177 359h1.5M178 359h1.5M179.5 359h1.5M183 359h1.5M187.5 359h1.5M189 359h1.5M190.5 359h1.5M192 359h1.5M195 359h1.5M196 359h1.5M197.5 359h1.5M198.5 359h1.5M218.5 359h1.5M170 359.5h1.5M176.5 359.5h1.5M178 359.5h1.5M182 359.5h1.5M186.5 359.5h1.5M190 359.5h1.5M192 359.5h1.5M193.5 359.5h1.5M195.5 359.5h1.5M200.5 359.5h1.5M172.5 360h1.5M173 360h1.5M181 360h1.5M183.5 360h1.5M184.5 360h1.5M186 360h1.5M187.5 360h1.5M194.5 360h1.5M198 360h1.5M204 360h1.5M212 360h1.5M287 360h1.5M169 360.5h1.5M176.5 360.5h1.5M179 360.5h1.5M180.5 360.5h1.5M188.5 360.5h1.5M191.5 360.5h1.5M196.5 360.5h1.5M199.5 360.5h1.5M203.5 360.5h1.5M168.5 361h1.5M174.5 361h1.5M177.5 361h1.5M182.5 361h1.5M184.5 361h1.5M186 361h1.5M188 361h1.5M190 361h1.5M193 361h1.5M194 361h1.5M196 361h1.5M197.5 361h1.5M198.5 361h1.5M214.5 361h1.5M168 361.5h1.5M177 361.5h1.5M182 361.5h1.5M183 361.5h1.5M187 361.5h1.5M191.5 361.5h1.5M192.5 361.5h1.5M193.5 361.5h1.5M261.5 361.5h1.5M173.5 362h1.5M175 362h1.5M179 362h1.5M180.5 362h1.5M184.5 362h1.5M186 362h1.5M189 362h1.5M190.5 362h1.5M195.5 362h1.5M199 362h1.5M199.5 362h1.5M234 362h1.5M248.5 362h1.5M174.5 362.5h1.5M175.5 362.5h1.5M177 362.5h1.5M178.5 362.5h1.5M179 362.5h1.5M187.5 362.5h1.5M191.5 362.5h1.5M195 362.5h1.5M196.5 362.5h1.5M200 362.5h1.5M274 362.5h1.5M167.5 363h1.5M168.5 363h1.5M181.5 363h1.5M183 363h1.5M185.5 363h1.5M187 363h1.5M190 363h1.5M192.5 363h1.5M193.5 363h1.5M197 363h1.5M198.5 363h1.5M173 363.5h1.5M175 363.5h1.5M177 363.5h1.5M178.5 363.5h1.5M180.5 363.5h1.5M183 363.5h1.5M184 363.5h1.5M188.5 363.5h1.5M196.5 363.5h1.5M170 364h1.5M172.5 364h1.5M174.5 364h1.5M176.5 364h1.5M179 364h1.5M183.5 364h1.5M191 364h1.5M194 364h1.5M195 364h1.5M197.5 364h1.5M170.5 364.5h1.5M173.5 364.5h1.5M181.5 364.5h1.5M184.5 364.5h1.5M186 364.5h1.5M187.5 364.5h1.5M189 364.5h1.5M189.5 364.5h1.5M192.5 364.5h1.5M199 364.5h1.5M201.5 364.5h1.5M203 364.5h1.5M236.5 364.5h1.5M175.5 365h1.5M177.5 365h1.5M179.5 365h1.5M180.5 365h1.5M182.5 365h1.5M184.5 365h1.5M186 365h1.5M192.5 365h1.5M196 365h1.5M249.5 365h1.5M171 365.5h1.5M174.5 365.5h1.5M177 365.5h1.5M178.5 365.5h1.5M181.5 365.5h1.5M184 365.5h1.5M188 365.5h1.5M190 365.5h1.5M190.5 365.5h1.5M192 365.5h1.5M194 365.5h1.5M195 365.5h1.5M197.5 365.5h1.5M199 365.5h1.5M232 365.5h1.5M176 366h1.5M177 366h1.5M180 366h1.5M183 366h1.5M186.5 366h1.5M188.5 366h1.5M169.5 366.5h1.5M170 366.5h1.5M179.5 366.5h1.5M182 366.5h1.5M185 366.5h1.5M187 366.5h1.5M188.5 366.5h1.5M190 366.5h1.5M193.5 366.5h1.5M194 366.5h1.5M195.5 366.5h1.5M196.5 366.5h1.5M198 366.5h1.5M258.5 366.5h1.5M174.5 367h1.5M175.5 367h1.5M178 367h1.5M178.5 367h1.5M181 367h1.5M183.5 367h1.5M186.5 367h1.5M191.5 367h1.5M192.5 367h1.5M193.5 367h1.5M202.5 367h1.5M238.5 367h1.5M172 367.5h1.5M174 367.5h1.5M176.5 367.5h1.5M182.5 367.5h1.5M192 367.5h1.5M198.5 367.5h1.5M237 367.5h1.5M180 368h1.5M184 368h1.5M185.5 368h1.5M187.5 368h1.5M188.5 368h1.5M190 368h1.5M195 368h1.5M196.5 368h1.5M197 368h1.5M199 368h1.5M211.5 368h1.5M167.5 368.5h1.5M173 368.5h1.5M175 368.5h1.5M178.5 368.5h1.5M180.5 368.5h1.5M182 368.5h1.5M186 368.5h1.5M187 368.5h1.5M191 368.5h1.5M193.5 368.5h1.5M195 368.5h1.5M198.5 368.5h1.5M200.5 368.5h1.5M203.5 368.5h1.5M173.5 369h1.5M175 369h1.5M176.5 369h1.5M181 369h1.5M183.5 369h1.5M188 369h1.5M189.5 369h1.5M192 369h1.5M194.5 369h1.5M196.5 369h1.5M197 369h1.5M199 369h1.5M175.5 369.5h1.5M178.5 369.5h1.5M179.5 369.5h1.5M182.5 369.5h1.5M183.5 369.5h1.5M185 369.5h1.5M190 369.5h1.5M198.5 369.5h1.5M290.5 369.5h1.5M177 370h1.5M179.5 370h1.5M186.5 370h1.5M187 370h1.5M188.5 370h1.5M189 370h1.5M191.5 370h1.5M193 370h1.5M193.5 370h1.5M196 370h1.5M196.5 370h1.5" stroke="#7a7a7a" stroke-width="1.5" fill="none"/>
<path d="M208.2 234.3V370.6M128.2 336.20000000000005H295.5" stroke="#1a1a1a" stroke-width="1.2" fill="none"/>
<rect x="128.2" y="234.3" width="167.30" height="136.3" fill="none" stroke="#1a1a1a" stroke-width="1.4"/>
<path d="M128.20 370.6v3.8M128.2 370.60h-3.8M140.79 370.6v2.4M128.2 360.34h-2.4M148.16 370.6v2.4M128.2 354.34h-2.4M153.38 370.6v2.4M128.2 350.08h-2.4M157.43 370.6v2.4M128.2 346.78h-2.4M160.75 370.6v2.4M128.2 344.08h-2.4M163.55 370.6v2.4M128.2 341.80h-2.4M165.97 370.6v2.4M128.2 339.83h-2.4M168.11 370.6v2.4M128.2 338.08h-2.4M170.02 370.6v3.8M128.2 336.53h-3.8M182.62 370.6v2.4M128.2 326.27h-2.4M189.98 370.6v2.4M128.2 320.27h-2.4M195.21 370.6v2.4M128.2 316.01h-2.4M199.26 370.6v2.4M128.2 312.71h-2.4M202.57 370.6v2.4M128.2 310.01h-2.4M205.37 370.6v2.4M128.2 307.73h-2.4M207.80 370.6v2.4M128.2 305.75h-2.4M209.94 370.6v2.4M128.2 304.01h-2.4M211.85 370.6v3.8M128.2 302.45h-3.8M224.44 370.6v2.4M128.2 292.19h-2.4M231.81 370.6v2.4M128.2 286.19h-2.4M237.03 370.6v2.4M128.2 281.93h-2.4M241.08 370.6v2.4M128.2 278.63h-2.4M244.40 370.6v2.4M128.2 275.93h-2.4M247.20 370.6v2.4M128.2 273.65h-2.4M249.62 370.6v2.4M128.2 271.68h-2.4M251.76 370.6v2.4M128.2 269.93h-2.4M253.68 370.6v3.8M128.2 268.38h-3.8M266.27 370.6v2.4M128.2 258.12h-2.4M273.63 370.6v2.4M128.2 252.12h-2.4M278.86 370.6v2.4M128.2 247.86h-2.4M282.91 370.6v2.4M128.2 244.56h-2.4M286.22 370.6v2.4M128.2 241.86h-2.4M289.02 370.6v2.4M128.2 239.58h-2.4M291.45 370.6v2.4M128.2 237.60h-2.4M293.59 370.6v2.4M128.2 235.86h-2.4M295.50 370.6v3.8M128.2 234.3h-3.8" stroke="#111" stroke-width="1.15" fill="none"/>
<text x="129.40" y="384.10" font-size="10.9" text-anchor="middle" fill="#111">10<tspan dy="-4.3" font-size="7.8">0</tspan></text>
<text x="169.52" y="384.10" font-size="10.9" text-anchor="middle" fill="#111">10<tspan dy="-4.3" font-size="7.8">1</tspan></text>
<text x="211.15" y="384.10" font-size="10.9" text-anchor="middle" fill="#111">10<tspan dy="-4.3" font-size="7.8">2</tspan></text>
<text x="252.38" y="384.10" font-size="10.9" text-anchor="middle" fill="#111">10<tspan dy="-4.3" font-size="7.8">3</tspan></text>
<text x="292.70" y="384.10" font-size="10.9" text-anchor="middle" fill="#111">10<tspan dy="-4.3" font-size="7.8">4</tspan></text>
<text transform="translate(121.30,368.30) rotate(-90)" font-size="10.9" text-anchor="middle" fill="#111">10<tspan dy="-4.3" font-size="7.8">0</tspan></text>
<text transform="translate(121.30,337.83) rotate(-90)" font-size="10.9" text-anchor="middle" fill="#111">10<tspan dy="-4.3" font-size="7.8">1</tspan></text>
<text transform="translate(121.30,302.45) rotate(-90)" font-size="10.9" text-anchor="middle" fill="#111">10<tspan dy="-4.3" font-size="7.8">2</tspan></text>
<text transform="translate(121.30,268.98) rotate(-90)" font-size="10.9" text-anchor="middle" fill="#111">10<tspan dy="-4.3" font-size="7.8">3</tspan></text>
<text transform="translate(121.30,236.70) rotate(-90)" font-size="10.9" text-anchor="middle" fill="#111">10<tspan dy="-4.3" font-size="7.8">4</tspan></text>
<text transform="translate(108.60,303.50) rotate(-90)" font-size="11.5" text-anchor="middle" fill="#111" textLength="12" lengthAdjust="spacingAndGlyphs">PI</text>
<text x="173.40" y="230.20" font-size="11.6" fill="#111" textLength="73.7" lengthAdjust="spacingAndGlyphs">WT day 0.002</text>
<text x="211.90" y="393.80" font-size="10.6" text-anchor="middle" fill="#111" textLength="75" lengthAdjust="spacingAndGlyphs">Annexin Y-Cy5</text>
<text x="285.20" y="256.90" font-size="24.5" font-weight="bold" text-anchor="end" fill="#000" textLength="32.7" lengthAdjust="spacingAndGlyphs">4%</text>
<path d="M473.5 312.5h1.5M478 312.5h1.5M481 312.5h1.5M480 315h1.5M483.5 315h1.5M474 317h1.5M478 318.5h1.5M481 319h1.5M483.5 319h1.5M484.5 319.5h1.5M486 321h1.5M483 321.5h1.5M465.5 322h1.5M470.5 322h1.5M486.5 322h1.5M466.5 322.5h1.5M477.5 322.5h1.5M466 323.5h1.5M467 323.5h1.5M480.5 323.5h1.5M467 324h1.5M469 324h1.5M480.5 324h1.5M482.5 324h1.5M487 324h1.5M466 324.5h1.5M466.5 325h1.5M469 325h1.5M485 325.5h1.5M491.5 325.5h1.5M475.5 326h1.5M478.5 326h1.5M482 326h1.5M465.5 326.5h1.5M469.5 326.5h1.5M410 327h1.5M464.5 327h1.5M484 327h1.5M486.5 327h1.5M494.5 327h1.5M489 327.5h1.5M388.5 328h1.5M463 328h1.5M464 328h1.5M475.5 328h1.5M478.5 328h1.5M486.5 328h1.5M403 328.5h1.5M466 328.5h1.5M467.5 328.5h1.5M485 328.5h1.5M472 329h1.5M474 329h1.5M474.5 329h1.5M484.5 329h1.5M489.5 329h1.5M429.5 329.5h1.5M449.5 329.5h1.5M461.5 329.5h1.5M467 329.5h1.5M473.5 329.5h1.5M390 330h1.5M417 330h1.5M433.5 330h1.5M440 330h1.5M474 330h1.5M480 330h1.5M483.5 330h1.5M484 330h1.5M487.5 330h1.5M449 330.5h1.5M473.5 330.5h1.5M476.5 330.5h1.5M479.5 330.5h1.5M480.5 330.5h1.5M486.5 330.5h1.5M433 331h1.5M435.5 331h1.5M449.5 331h1.5M470.5 331h1.5M475.5 331h1.5M482.5 331h1.5M493.5 331h1.5M439 331.5h1.5M444 331.5h1.5M469.5 331.5h1.5M473 331.5h1.5M477.5 331.5h1.5M490 331.5h1.5M490.5 331.5h1.5M494 331.5h1.5M429 332h1.5M465 332h1.5M469.5 332h1.5M485.5 332h1.5M448 332.5h1.5M453.5 332.5h1.5M466.5 332.5h1.5M475.5 332.5h1.5M481.5 332.5h1.5M491.5 332.5h1.5M396.5 333h1.5M443.5 333h1.5M461 333h1.5M467.5 333h1.5M488 333h1.5M430.5 333.5h1.5M436 333.5h1.5M465.5 333.5h1.5M467.5 333.5h1.5M471 333.5h1.5M471.5 333.5h1.5M474.5 333.5h1.5M478.5 333.5h1.5M482.5 333.5h1.5M490 333.5h1.5M430.5 334h1.5M439.5 334h1.5M466.5 334h1.5M470.5 334h1.5M474 334h1.5M504 334h1.5M460 334.5h1.5M478 334.5h1.5M481 334.5h1.5M483 334.5h1.5M439.5 335h1.5M447 335h1.5M463 335h1.5M464.5 335h1.5M465.5 335h1.5M469.5 335h1.5M481.5 335h1.5M491 335h1.5M469.5 335.5h1.5M483.5 335.5h1.5M488.5 335.5h1.5M490.5 335.5h1.5M390 336h1.5M397.5 336h1.5M442 336h1.5M454 336h1.5M482.5 336h1.5M484 336h1.5M485 336h1.5M490.5 336h1.5M400.5 336.5h1.5M431 336.5h1.5M465.5 336.5h1.5M481.5 336.5h1.5M486 336.5h1.5M466 337h1.5M468 337h1.5M482 337h1.5M483 337h1.5M384.5 337.5h1.5M391.5 337.5h1.5M405.5 337.5h1.5M435.5 337.5h1.5M454.5 337.5h1.5M469 337.5h1.5M474.5 337.5h1.5M492.5 337.5h1.5M394 338h1.5M452 338h1.5M472.5 338h1.5M482.5 338h1.5M463 338.5h1.5M475.5 338.5h1.5M480.5 338.5h1.5M486 338.5h1.5M486.5 338.5h1.5M489.5 338.5h1.5M383 339h1.5M390 339h1.5M392.5 339h1.5M429 339h1.5M391.5 339.5h1.5M412 339.5h1.5M427.5 339.5h1.5M442.5 339.5h1.5M471 339.5h1.5M486 339.5h1.5M491.5 339.5h1.5M498.5 339.5h1.5M453.5 340h1.5M463.5 340h1.5M468.5 340h1.5M472 340h1.5M479.5 340h1.5M487.5 340h1.5M488 340h1.5M403 340.5h1.5M483.5 340.5h1.5M487 340.5h1.5M491.5 340.5h1.5M402.5 341h1.5M429 341h1.5M465.5 341h1.5M467 341h1.5M469.5 341h1.5M485 341h1.5M476.5 341.5h1.5M493 341.5h1.5M495 341.5h1.5M403.5 342h1.5M465 342h1.5M467.5 342h1.5M468 342h1.5M477.5 342h1.5M486 342h1.5M492 342h1.5M457.5 342.5h1.5M463.5 342.5h1.5M468.5 342.5h1.5M391.5 343h1.5M400 343h1.5M418 343h1.5M449.5 343h1.5M474 343h1.5M481 343h1.5M482.5 343h1.5M388.5 343.5h1.5M390 343.5h1.5M403.5 343.5h1.5M404 343.5h1.5M416.5 343.5h1.5M437.5 343.5h1.5M442 343.5h1.5M444.5 343.5h1.5M468.5 343.5h1.5M469.5 343.5h1.5M367.5 344h1.5M380.5 344h1.5M396 344h1.5M409 344h1.5M450.5 344h1.5M470 344h1.5M476.5 344h1.5M483 344h1.5M487 344h1.5M487.5 344h1.5M381 344.5h1.5M382.5 344.5h1.5M387 344.5h1.5M400 344.5h1.5M406.5 344.5h1.5M431.5 344.5h1.5M453 344.5h1.5M460 344.5h1.5M462 344.5h1.5M468.5 344.5h1.5M470.5 344.5h1.5M473 344.5h1.5M475 344.5h1.5M476.5 344.5h1.5M378.5 345h1.5M380 345h1.5M388.5 345h1.5M395 345h1.5M397 345h1.5M398 345h1.5M435 345h1.5M440 345h1.5M463 345h1.5M487 345h1.5M372 345.5h1.5M389.5 345.5h1.5M397.5 345.5h1.5M400 345.5h1.5M413.5 345.5h1.5M415 345.5h1.5M417 345.5h1.5M472.5 345.5h1.5M393.5 346h1.5M399.5 346h1.5M427 346h1.5M427.5 346h1.5M432.5 346h1.5M470.5 346h1.5M490.5 346h1.5M390 346.5h1.5M398 346.5h1.5M404 346.5h1.5M406 346.5h1.5M433.5 346.5h1.5M465.5 346.5h1.5M468.5 346.5h1.5M470.5 346.5h1.5M473.5 346.5h1.5M475 346.5h1.5M381.5 347h1.5M387.5 347h1.5M394.5 347h1.5M407.5 347h1.5M411.5 347h1.5M412 347h1.5M442.5 347h1.5M464 347h1.5M469.5 347h1.5M478.5 347h1.5M480 347h1.5M487 347h1.5M379.5 347.5h1.5M386 347.5h1.5M387.5 347.5h1.5M391 347.5h1.5M394 347.5h1.5M402 347.5h1.5M429 347.5h1.5M429.5 347.5h1.5M483.5 347.5h1.5M487 347.5h1.5M396.5 348h1.5M402.5 348h1.5M403 348h1.5M421 348h1.5M435 348h1.5M465 348h1.5M470 348h1.5M472.5 348h1.5M488.5 348h1.5M382 348.5h1.5M383 348.5h1.5M386 348.5h1.5M394 348.5h1.5M411 348.5h1.5M423.5 348.5h1.5M440 348.5h1.5M461 348.5h1.5M485 348.5h1.5M488 348.5h1.5M387 349h1.5M388 349h1.5M395.5 349h1.5M407.5 349h1.5M408.5 349h1.5M468.5 349h1.5M477.5 349h1.5M487.5 349h1.5M489.5 349h1.5M394.5 349.5h1.5M408 349.5h1.5M414 349.5h1.5M416.5 349.5h1.5M456 349.5h1.5M466 349.5h1.5M473 349.5h1.5M387.5 350h1.5M390.5 350h1.5M410.5 350h1.5M416 350h1.5M471.5 350h1.5M478 350h1.5M484.5 350h1.5M448.5 350.5h1.5M472.5 350.5h1.5M474 350.5h1.5M479.5 350.5h1.5M380 351h1.5M410.5 351h1.5M442.5 351h1.5M475.5 351h1.5M485.5 351h1.5M362 351.5h1.5M374 351.5h1.5M389.5 351.5h1.5M420 351.5h1.5M446 351.5h1.5M456 351.5h1.5M470 351.5h1.5M476 351.5h1.5M497 351.5h1.5M414 352h1.5M415.5 352h1.5M420 352h1.5M460.5 352h1.5M480.5 352h1.5M366.5 352.5h1.5M373 352.5h1.5M428 352.5h1.5M439.5 352.5h1.5M465.5 352.5h1.5M469.5 352.5h1.5M471 352.5h1.5M475 352.5h1.5M477.5 352.5h1.5M410.5 353h1.5M421.5 353h1.5M424 353h1.5M461.5 353h1.5M477.5 353h1.5M478 353h1.5M488.5 353h1.5M386 353.5h1.5M386.5 353.5h1.5M419 353.5h1.5M445.5 353.5h1.5M468.5 353.5h1.5M479 353.5h1.5M384 354h1.5M413 354h1.5M377 354.5h1.5M381.5 354.5h1.5M424.5 354.5h1.5M459.5 354.5h1.5M470 354.5h1.5M474.5 354.5h1.5M484 354.5h1.5M490 354.5h1.5M416 355h1.5M476 355h1.5M479.5 355h1.5M481.5 355h1.5M482.5 355h1.5M485.5 355h1.5M488.5 355h1.5M379.5 355.5h1.5M470 355.5h1.5M487.5 355.5h1.5M380.5 356h1.5M417 356h1.5M418 356h1.5M475 356h1.5M480.5 356h1.5M487.5 356h1.5M358.5 356.5h1.5M382.5 356.5h1.5M452.5 356.5h1.5M481 356.5h1.5M492.5 356.5h1.5M379 357h1.5M420 357h1.5M421.5 357h1.5M422 357h1.5M459.5 357h1.5M464.5 357h1.5M465.5 357h1.5M476 357h1.5M479.5 357h1.5M377 357.5h1.5M379 357.5h1.5M384 357.5h1.5M413 357.5h1.5M414.5 357.5h1.5M416 357.5h1.5M452.5 357.5h1.5M459 357.5h1.5M483.5 357.5h1.5M485.5 357.5h1.5M364 358h1.5M374 358h1.5M378 358h1.5M380 358h1.5M414 358h1.5M415.5 358h1.5M465 358h1.5M475.5 358h1.5M372 358.5h1.5M381.5 358.5h1.5M382 358.5h1.5M418.5 358.5h1.5M419 358.5h1.5M420.5 358.5h1.5M482 358.5h1.5M483 358.5h1.5M411.5 359h1.5M425.5 359h1.5M459.5 359h1.5M465.5 359h1.5M485.5 359h1.5M367.5 359.5h1.5M378.5 359.5h1.5M421.5 359.5h1.5M487 359.5h1.5M493.5 359.5h1.5M476.5 360h1.5M485 360h1.5M371.5 360.5h1.5M376 360.5h1.5M468 360.5h1.5M478 360.5h1.5M378 361h1.5M429 361h1.5M466 361h1.5M382 361.5h1.5M417.5 361.5h1.5M429.5 361.5h1.5M463.5 361.5h1.5M474.5 361.5h1.5M383 362h1.5M416.5 362h1.5M418 362h1.5M438 362h1.5M458.5 362h1.5M377 362.5h1.5M378 362.5h1.5M382.5 362.5h1.5M478.5 362.5h1.5M482 362.5h1.5M488 362.5h1.5M489 362.5h1.5M437 363h1.5M374.5 363.5h1.5M379 363.5h1.5M438.5 363.5h1.5M384 364h1.5M417.5 364h1.5M380 364.5h1.5M381.5 364.5h1.5M417.5 364.5h1.5M418.5 364.5h1.5M446.5 364.5h1.5M371.5 365h1.5M384.5 365h1.5M416 365h1.5M445 365h1.5M478.5 365h1.5M360 365.5h1.5M374 365.5h1.5M381.5 365.5h1.5M415 365.5h1.5M423 365.5h1.5M427 365.5h1.5M373 366h1.5M380.5 366h1.5M450 366h1.5M379.5 366.5h1.5M380.5 366.5h1.5M384.5 366.5h1.5M420 366.5h1.5M368 367h1.5M378 367h1.5M378.5 367h1.5M428.5 367h1.5M431 367h1.5M437.5 367h1.5M384 367.5h1.5M421 367.5h1.5M434 367.5h1.5M456.5 367.5h1.5M383.5 368h1.5M417 368h1.5M420 368h1.5M424.5 368h1.5M425 368h1.5M365.5 368.5h1.5M376.5 368.5h1.5M379 368.5h1.5M385 368.5h1.5M418 368.5h1.5M379 369h1.5M412 369h1.5M413 369h1.5M414.5 369h1.5M446 369h1.5M460.5 369h1.5M468 369h1.5M376 369.5h1.5M384 369.5h1.5M420 369.5h1.5M438 369.5h1.5M466.5 369.5h1.5M467.5 369.5h1.5M407 370h1.5M411.5 370h1.5M413.5 370h1.5M415 370h1.5" stroke="#484848" stroke-width="1.5" fill="none"/>
<path d="M467.5 275.5h1.5M491 281.5h1.5M475 285h1.5M489 294h1.5M478.5 301h1.5M478.5 304.5h1.5M475.5 309h1.5M474 313h1.5M492 313.5h1.5M471 315h1.5M447 316h1.5M466 317h1.5M467 317h1.5M470 317h1.5M475 317h1.5M450 317.5h1.5M464 317.5h1.5M481 317.5h1.5M491.5 317.5h1.5M470.5 318.5h1.5M473.5 318.5h1.5M457 319h1.5M470.5 319.5h1.5M476 319.5h1.5M480.5 319.5h1.5M467.5 320h1.5M469 320h1.5M476 320h1.5M480 320.5h1.5M473 321h1.5M474.5 321h1.5M478 321h1.5M479.5 321h1.5M481 321h1.5M458 321.5h1.5M480 322.5h1.5M484 322.5h1.5M475.5 323h1.5M480 323h1.5M482 323h1.5M495.5 323h1.5M474 323.5h1.5M478 323.5h1.5M483.5 324h1.5M478 324.5h1.5M483 324.5h1.5M463 325h1.5M473 325h1.5M476.5 325h1.5M481 325h1.5M485.5 325h1.5M470.5 325.5h1.5M478 325.5h1.5M484 325.5h1.5M467.5 326h1.5M464 326.5h1.5M465.5 326.5h1.5M480.5 326.5h1.5M481.5 326.5h1.5M483.5 326.5h1.5M476 327h1.5M478 327h1.5M479 327h1.5M481 327h1.5M459.5 327.5h1.5M463.5 327.5h1.5M466 327.5h1.5M472.5 327.5h1.5M475 327.5h1.5M478.5 327.5h1.5M486.5 327.5h1.5M464.5 328h1.5M480 328h1.5M485 328h1.5M487 328h1.5M492.5 328h1.5M385 328.5h1.5M463.5 328.5h1.5M472 328.5h1.5M474.5 328.5h1.5M476 328.5h1.5M479.5 328.5h1.5M480.5 328.5h1.5M482.5 328.5h1.5M488 328.5h1.5M476.5 329h1.5M478 329h1.5M482.5 329h1.5M484.5 329h1.5M437 329.5h1.5M469.5 329.5h1.5M470 329.5h1.5M471.5 329.5h1.5M473 329.5h1.5M475.5 329.5h1.5M483 329.5h1.5M456.5 330h1.5M467.5 330h1.5M468 330h1.5M472 330h1.5M474.5 330h1.5M478.5 330h1.5M480 330h1.5M484 330h1.5M487 330h1.5M410 330.5h1.5M444.5 330.5h1.5M457 330.5h1.5M460 330.5h1.5M461.5 330.5h1.5M469.5 330.5h1.5M473.5 330.5h1.5M475 330.5h1.5M495.5 330.5h1.5M434 331h1.5M471.5 331h1.5M475.5 331h1.5M478 331h1.5M482 331h1.5M483.5 331h1.5M491 331h1.5M441 331.5h1.5M445.5 331.5h1.5M466 331.5h1.5M468 331.5h1.5M469 331.5h1.5M472.5 331.5h1.5M487.5 331.5h1.5M489 331.5h1.5M415.5 332h1.5M460.5 332h1.5M466 332h1.5M470 332h1.5M473 332h1.5M474.5 332h1.5M477 332h1.5M478.5 332h1.5M484 332h1.5M487 332h1.5M489 332h1.5M459 332.5h1.5M462 332.5h1.5M468 332.5h1.5M471.5 332.5h1.5M474 332.5h1.5M482.5 332.5h1.5M487 332.5h1.5M379 333h1.5M432.5 333h1.5M443 333h1.5M465.5 333h1.5M470 333h1.5M476 333h1.5M477.5 333h1.5M478.5 333h1.5M481 333h1.5M482.5 333h1.5M462.5 333.5h1.5M468 333.5h1.5M471 333.5h1.5M472.5 333.5h1.5M480.5 333.5h1.5M486.5 333.5h1.5M489 333.5h1.5M428.5 334h1.5M458 334h1.5M465 334h1.5M465.5 334h1.5M470.5 334h1.5M474 334h1.5M475.5 334h1.5M479 334h1.5M487.5 334h1.5M492.5 334h1.5M401 334.5h1.5M448.5 334.5h1.5M467.5 334.5h1.5M469 334.5h1.5M472.5 334.5h1.5M475 334.5h1.5M477 334.5h1.5M478.5 334.5h1.5M481.5 334.5h1.5M482 334.5h1.5M485.5 334.5h1.5M446.5 335h1.5M460 335h1.5M466 335h1.5M478 335h1.5M479.5 335h1.5M480 335h1.5M484 335h1.5M486 335h1.5M498 335h1.5M390.5 335.5h1.5M404 335.5h1.5M435.5 335.5h1.5M458 335.5h1.5M470 335.5h1.5M473.5 335.5h1.5M476 335.5h1.5M477 335.5h1.5M480.5 335.5h1.5M482.5 335.5h1.5M483.5 335.5h1.5M487 335.5h1.5M406.5 336h1.5M432 336h1.5M462 336h1.5M465.5 336h1.5M466 336h1.5M471.5 336h1.5M472.5 336h1.5M475 336h1.5M481 336h1.5M486.5 336h1.5M383 336.5h1.5M408 336.5h1.5M460 336.5h1.5M462.5 336.5h1.5M478 336.5h1.5M479 336.5h1.5M487 336.5h1.5M402 337h1.5M411.5 337h1.5M432 337h1.5M449 337h1.5M452 337h1.5M464 337h1.5M467.5 337h1.5M468.5 337h1.5M473.5 337h1.5M476.5 337h1.5M480 337h1.5M481.5 337h1.5M483 337h1.5M485.5 337h1.5M364.5 337.5h1.5M454.5 337.5h1.5M458 337.5h1.5M465.5 337.5h1.5M466.5 337.5h1.5M467.5 337.5h1.5M470 337.5h1.5M471.5 337.5h1.5M472 337.5h1.5M475 337.5h1.5M477.5 337.5h1.5M496 337.5h1.5M396 338h1.5M456.5 338h1.5M459 338h1.5M459.5 338h1.5M462.5 338h1.5M473 338h1.5M476 338h1.5M478.5 338h1.5M481 338h1.5M485 338h1.5M486.5 338h1.5M370.5 338.5h1.5M418 338.5h1.5M426.5 338.5h1.5M440.5 338.5h1.5M460 338.5h1.5M472 338.5h1.5M474 338.5h1.5M479 338.5h1.5M479.5 338.5h1.5M481.5 338.5h1.5M483 338.5h1.5M483.5 338.5h1.5M485.5 338.5h1.5M488 338.5h1.5M417.5 339h1.5M467 339h1.5M469 339h1.5M470 339h1.5M475.5 339h1.5M477.5 339h1.5M483 339h1.5M487 339h1.5M402.5 339.5h1.5M421.5 339.5h1.5M458 339.5h1.5M463 339.5h1.5M473 339.5h1.5M474.5 339.5h1.5M477 339.5h1.5M480 339.5h1.5M481.5 339.5h1.5M485 339.5h1.5M488.5 339.5h1.5M402.5 340h1.5M471.5 340h1.5M478.5 340h1.5M482 340h1.5M485.5 340h1.5M488 340h1.5M399.5 340.5h1.5M410 340.5h1.5M415 340.5h1.5M462 340.5h1.5M466 340.5h1.5M467.5 340.5h1.5M470 340.5h1.5M472 340.5h1.5M476 340.5h1.5M483 340.5h1.5M484 340.5h1.5M398 341h1.5M400.5 341h1.5M403 341h1.5M449 341h1.5M471.5 341h1.5M473.5 341h1.5M475 341h1.5M477 341h1.5M479.5 341h1.5M480.5 341h1.5M485 341h1.5M488.5 341h1.5M390 341.5h1.5M396 341.5h1.5M406.5 341.5h1.5M407 341.5h1.5M419.5 341.5h1.5M440 341.5h1.5M444.5 341.5h1.5M476 341.5h1.5M478 341.5h1.5M480.5 341.5h1.5M482 341.5h1.5M497.5 341.5h1.5M390.5 342h1.5M399 342h1.5M406 342h1.5M416.5 342h1.5M429.5 342h1.5M440 342h1.5M454.5 342h1.5M460.5 342h1.5M472.5 342h1.5M479.5 342h1.5M488 342h1.5M491.5 342h1.5M492 342h1.5M494.5 342h1.5M379.5 342.5h1.5M392 342.5h1.5M392.5 342.5h1.5M398.5 342.5h1.5M401 342.5h1.5M416.5 342.5h1.5M431 342.5h1.5M437.5 342.5h1.5M446.5 342.5h1.5M468.5 342.5h1.5M474 342.5h1.5M475 342.5h1.5M476.5 342.5h1.5M481.5 342.5h1.5M483 342.5h1.5M487 342.5h1.5M489.5 342.5h1.5M492 342.5h1.5M386 343h1.5M389 343h1.5M397.5 343h1.5M399 343h1.5M400.5 343h1.5M402.5 343h1.5M468 343h1.5M471 343h1.5M472.5 343h1.5M478 343h1.5M478.5 343h1.5M482.5 343h1.5M485.5 343h1.5M489.5 343h1.5M490 343h1.5M374 343.5h1.5M395.5 343.5h1.5M410.5 343.5h1.5M422 343.5h1.5M428.5 343.5h1.5M430.5 343.5h1.5M459 343.5h1.5M469.5 343.5h1.5M470.5 343.5h1.5M472 343.5h1.5M478 343.5h1.5M480 343.5h1.5M400 344h1.5M427.5 344h1.5M433.5 344h1.5M471.5 344h1.5M475 344h1.5M476.5 344h1.5M479 344h1.5M481 344h1.5M487.5 344h1.5M488 344h1.5M390 344.5h1.5M397.5 344.5h1.5M407 344.5h1.5M411.5 344.5h1.5M463.5 344.5h1.5M474 344.5h1.5M481 344.5h1.5M483.5 344.5h1.5M485 344.5h1.5M386 345h1.5M391 345h1.5M396.5 345h1.5M399 345h1.5M401 345h1.5M403.5 345h1.5M406 345h1.5M407 345h1.5M428.5 345h1.5M447 345h1.5M469 345h1.5M470 345h1.5M474.5 345h1.5M477 345h1.5M478 345h1.5M482 345h1.5M486 345h1.5M495 345h1.5M369.5 345.5h1.5M379.5 345.5h1.5M387.5 345.5h1.5M389 345.5h1.5M392.5 345.5h1.5M393.5 345.5h1.5M396 345.5h1.5M400 345.5h1.5M402 345.5h1.5M403 345.5h1.5M404.5 345.5h1.5M408 345.5h1.5M412.5 345.5h1.5M415 345.5h1.5M425 345.5h1.5M434.5 345.5h1.5M468 345.5h1.5M471 345.5h1.5M473 345.5h1.5M479.5 345.5h1.5M480 345.5h1.5M487 345.5h1.5M490 345.5h1.5M491 345.5h1.5M370 346h1.5M377 346h1.5M397 346h1.5M398 346h1.5M408 346h1.5M409.5 346h1.5M440.5 346h1.5M459.5 346h1.5M463.5 346h1.5M464.5 346h1.5M469.5 346h1.5M470.5 346h1.5M472.5 346h1.5M475 346h1.5M475.5 346h1.5M483 346h1.5M485 346h1.5M487 346h1.5M495 346h1.5M380 346.5h1.5M393.5 346.5h1.5M395 346.5h1.5M398.5 346.5h1.5M401 346.5h1.5M405.5 346.5h1.5M406.5 346.5h1.5M409.5 346.5h1.5M411 346.5h1.5M412 346.5h1.5M423.5 346.5h1.5M457 346.5h1.5M458 346.5h1.5M464 346.5h1.5M473.5 346.5h1.5M476 346.5h1.5M478 346.5h1.5M481 346.5h1.5M483.5 346.5h1.5M390.5 347h1.5M392.5 347h1.5M396 347h1.5M397.5 347h1.5M399.5 347h1.5M402.5 347h1.5M403 347h1.5M404.5 347h1.5M414.5 347h1.5M463 347h1.5M476 347h1.5M479.5 347h1.5M482.5 347h1.5M484.5 347h1.5M385.5 347.5h1.5M386 347.5h1.5M388.5 347.5h1.5M392 347.5h1.5M400 347.5h1.5M406 347.5h1.5M408 347.5h1.5M410.5 347.5h1.5M468 347.5h1.5M474.5 347.5h1.5M475.5 347.5h1.5M481.5 347.5h1.5M378 348h1.5M394 348h1.5M395 348h1.5M396.5 348h1.5M401 348h1.5M402.5 348h1.5M405 348h1.5M407.5 348h1.5M410 348h1.5M456 348h1.5M466.5 348h1.5M471.5 348h1.5M473 348h1.5M478.5 348h1.5M479.5 348h1.5M484 348h1.5M377.5 348.5h1.5M385.5 348.5h1.5M392 348.5h1.5M398 348.5h1.5M398.5 348.5h1.5M404 348.5h1.5M413 348.5h1.5M471 348.5h1.5M479 348.5h1.5M481 348.5h1.5M484 348.5h1.5M485.5 348.5h1.5M487 348.5h1.5M382 349h1.5M386.5 349h1.5M388.5 349h1.5M390.5 349h1.5M393.5 349h1.5M396 349h1.5M400 349h1.5M402 349h1.5M404.5 349h1.5M406.5 349h1.5M407 349h1.5M411 349h1.5M414 349h1.5M466 349h1.5M474 349h1.5M477.5 349h1.5M482 349h1.5M484.5 349h1.5M386 349.5h1.5M390 349.5h1.5M392.5 349.5h1.5M394.5 349.5h1.5M397.5 349.5h1.5M401.5 349.5h1.5M406 349.5h1.5M410.5 349.5h1.5M413 349.5h1.5M440.5 349.5h1.5M463 349.5h1.5M472 349.5h1.5M473 349.5h1.5M479.5 349.5h1.5M481 349.5h1.5M371 350h1.5M373 350h1.5M378 350h1.5M388.5 350h1.5M391 350h1.5M393.5 350h1.5M395.5 350h1.5M399 350h1.5M403.5 350h1.5M412 350h1.5M443 350h1.5M449 350h1.5M469 350h1.5M470.5 350h1.5M474.5 350h1.5M476 350h1.5M477.5 350h1.5M478.5 350h1.5M482.5 350h1.5M378 350.5h1.5M382 350.5h1.5M397 350.5h1.5M398.5 350.5h1.5M400 350.5h1.5M403 350.5h1.5M404.5 350.5h1.5M406.5 350.5h1.5M408.5 350.5h1.5M413.5 350.5h1.5M448.5 350.5h1.5M467.5 350.5h1.5M470 350.5h1.5M473.5 350.5h1.5M475.5 350.5h1.5M480.5 350.5h1.5M482.5 350.5h1.5M484 350.5h1.5M486 350.5h1.5M487.5 350.5h1.5M488 350.5h1.5M496 350.5h1.5M373 351h1.5M377 351h1.5M381.5 351h1.5M384 351h1.5M386 351h1.5M387 351h1.5M388 351h1.5M389.5 351h1.5M392.5 351h1.5M394.5 351h1.5M401.5 351h1.5M405.5 351h1.5M408 351h1.5M409.5 351h1.5M410.5 351h1.5M413.5 351h1.5M417.5 351h1.5M436 351h1.5M439.5 351h1.5M462 351h1.5M463 351h1.5M471 351h1.5M472.5 351h1.5M479.5 351h1.5M481.5 351h1.5M500 351h1.5M375 351.5h1.5M376.5 351.5h1.5M391 351.5h1.5M394 351.5h1.5M396 351.5h1.5M397.5 351.5h1.5M412 351.5h1.5M414 351.5h1.5M415 351.5h1.5M416.5 351.5h1.5M432 351.5h1.5M476 351.5h1.5M478 351.5h1.5M479.5 351.5h1.5M482 351.5h1.5M486 351.5h1.5M488.5 351.5h1.5M501 351.5h1.5M378 352h1.5M381 352h1.5M382.5 352h1.5M385 352h1.5M385.5 352h1.5M387 352h1.5M388 352h1.5M389.5 352h1.5M391 352h1.5M392.5 352h1.5M396.5 352h1.5M398.5 352h1.5M400 352h1.5M403 352h1.5M404 352h1.5M405.5 352h1.5M407 352h1.5M437.5 352h1.5M441 352h1.5M449 352h1.5M462.5 352h1.5M466.5 352h1.5M469.5 352h1.5M473 352h1.5M487 352h1.5M498 352h1.5M372 352.5h1.5M374.5 352.5h1.5M377.5 352.5h1.5M381 352.5h1.5M382.5 352.5h1.5M395.5 352.5h1.5M400.5 352.5h1.5M402 352.5h1.5M403.5 352.5h1.5M408.5 352.5h1.5M409 352.5h1.5M410.5 352.5h1.5M412.5 352.5h1.5M422.5 352.5h1.5M463.5 352.5h1.5M465 352.5h1.5M475.5 352.5h1.5M476.5 352.5h1.5M484 352.5h1.5M376 353h1.5M383.5 353h1.5M388.5 353h1.5M389.5 353h1.5M392 353h1.5M393.5 353h1.5M395 353h1.5M398 353h1.5M405 353h1.5M411 353h1.5M412 353h1.5M414 353h1.5M415.5 353h1.5M417 353h1.5M417.5 353h1.5M437 353h1.5M453.5 353h1.5M466 353h1.5M467.5 353h1.5M468.5 353h1.5M472 353h1.5M484.5 353h1.5M369 353.5h1.5M372 353.5h1.5M377 353.5h1.5M380 353.5h1.5M384.5 353.5h1.5M386 353.5h1.5M387 353.5h1.5M391 353.5h1.5M393.5 353.5h1.5M396.5 353.5h1.5M399.5 353.5h1.5M401 353.5h1.5M404 353.5h1.5M406 353.5h1.5M407.5 353.5h1.5M408.5 353.5h1.5M413.5 353.5h1.5M439 353.5h1.5M467 353.5h1.5M467.5 353.5h1.5M472.5 353.5h1.5M474.5 353.5h1.5M479 353.5h1.5M371 354h1.5M381.5 354h1.5M383 354h1.5M385 354h1.5M386.5 354h1.5M392.5 354h1.5M402 354h1.5M403.5 354h1.5M410 354h1.5M432.5 354h1.5M449.5 354h1.5M471 354h1.5M474 354h1.5M480 354h1.5M485 354h1.5M492 354h1.5M366 354.5h1.5M370 354.5h1.5M373 354.5h1.5M383.5 354.5h1.5M388.5 354.5h1.5M390 354.5h1.5M391.5 354.5h1.5M394.5 354.5h1.5M395 354.5h1.5M397 354.5h1.5M398.5 354.5h1.5M400.5 354.5h1.5M402 354.5h1.5M402.5 354.5h1.5M405.5 354.5h1.5M408.5 354.5h1.5M411.5 354.5h1.5M412 354.5h1.5M413.5 354.5h1.5M415 354.5h1.5M416.5 354.5h1.5M444.5 354.5h1.5M471.5 354.5h1.5M474.5 354.5h1.5M475 354.5h1.5M487 354.5h1.5M492.5 354.5h1.5M380.5 355h1.5M387 355h1.5M393 355h1.5M395.5 355h1.5M399.5 355h1.5M404.5 355h1.5M407 355h1.5M407.5 355h1.5M412.5 355h1.5M419 355h1.5M420.5 355h1.5M436 355h1.5M466.5 355h1.5M479.5 355h1.5M483.5 355h1.5M378.5 355.5h1.5M382 355.5h1.5M385.5 355.5h1.5M387.5 355.5h1.5M389.5 355.5h1.5M394.5 355.5h1.5M397.5 355.5h1.5M399 355.5h1.5M400.5 355.5h1.5M404 355.5h1.5M405 355.5h1.5M409 355.5h1.5M410.5 355.5h1.5M415 355.5h1.5M418 355.5h1.5M420.5 355.5h1.5M458 355.5h1.5M464 355.5h1.5M469 355.5h1.5M471 355.5h1.5M380.5 356h1.5M381.5 356h1.5M383.5 356h1.5M384.5 356h1.5M387 356h1.5M389 356h1.5M391 356h1.5M391.5 356h1.5M393 356h1.5M396 356h1.5M401.5 356h1.5M402.5 356h1.5M403.5 356h1.5M406 356h1.5M407 356h1.5M411.5 356h1.5M413.5 356h1.5M414.5 356h1.5M416.5 356h1.5M430 356h1.5M469 356h1.5M388 356.5h1.5M395.5 356.5h1.5M399 356.5h1.5M400.5 356.5h1.5M402.5 356.5h1.5M408 356.5h1.5M417 356.5h1.5M418 356.5h1.5M419.5 356.5h1.5M446.5 356.5h1.5M468.5 356.5h1.5M470.5 356.5h1.5M482 356.5h1.5M374 357h1.5M379 357h1.5M379.5 357h1.5M382.5 357h1.5M384 357h1.5M386 357h1.5M390.5 357h1.5M394.5 357h1.5M396.5 357h1.5M398 357h1.5M401.5 357h1.5M404.5 357h1.5M409 357h1.5M410 357h1.5M437.5 357h1.5M442.5 357h1.5M376 357.5h1.5M377.5 357.5h1.5M382.5 357.5h1.5M385 357.5h1.5M387.5 357.5h1.5M389.5 357.5h1.5M390.5 357.5h1.5M392 357.5h1.5M393 357.5h1.5M399.5 357.5h1.5M400 357.5h1.5M403.5 357.5h1.5M404.5 357.5h1.5M405.5 357.5h1.5M407 357.5h1.5M409.5 357.5h1.5M411 357.5h1.5M412.5 357.5h1.5M415.5 357.5h1.5M419 357.5h1.5M431 357.5h1.5M465.5 357.5h1.5M470 357.5h1.5M472.5 357.5h1.5M485.5 357.5h1.5M489.5 357.5h1.5M378.5 358h1.5M380 358h1.5M381.5 358h1.5M386.5 358h1.5M388 358h1.5M394.5 358h1.5M395.5 358h1.5M397 358h1.5M403 358h1.5M407.5 358h1.5M409 358h1.5M411.5 358h1.5M413.5 358h1.5M416 358h1.5M418 358h1.5M429.5 358h1.5M434 358h1.5M457 358h1.5M478 358h1.5M483 358h1.5M489.5 358h1.5M490 358h1.5M368.5 358.5h1.5M374.5 358.5h1.5M379 358.5h1.5M384 358.5h1.5M389 358.5h1.5M398.5 358.5h1.5M400.5 358.5h1.5M402 358.5h1.5M406.5 358.5h1.5M412 358.5h1.5M414.5 358.5h1.5M417 358.5h1.5M503 358.5h1.5M359 359h1.5M370.5 359h1.5M383 359h1.5M385 359h1.5M387 359h1.5M390.5 359h1.5M392 359h1.5M393.5 359h1.5M397.5 359h1.5M398.5 359h1.5M399.5 359h1.5M403 359h1.5M404.5 359h1.5M405.5 359h1.5M410 359h1.5M417.5 359h1.5M418.5 359h1.5M425.5 359h1.5M430 359h1.5M432.5 359h1.5M470.5 359h1.5M379.5 359.5h1.5M383.5 359.5h1.5M385.5 359.5h1.5M387.5 359.5h1.5M394 359.5h1.5M395 359.5h1.5M396.5 359.5h1.5M400.5 359.5h1.5M406 359.5h1.5M408 359.5h1.5M409.5 359.5h1.5M410.5 359.5h1.5M413 359.5h1.5M414 359.5h1.5M415 359.5h1.5M416.5 359.5h1.5M454 359.5h1.5M469 359.5h1.5M473.5 359.5h1.5M478 359.5h1.5M481.5 359.5h1.5M486.5 359.5h1.5M377.5 360h1.5M379.5 360h1.5M382 360h1.5M389 360h1.5M399.5 360h1.5M402 360h1.5M403 360h1.5M404.5 360h1.5M407.5 360h1.5M412 360h1.5M427.5 360h1.5M428 360h1.5M445 360h1.5M455.5 360h1.5M466.5 360h1.5M480 360h1.5M380 360.5h1.5M382.5 360.5h1.5M384 360.5h1.5M387 360.5h1.5M387.5 360.5h1.5M390 360.5h1.5M391.5 360.5h1.5M393 360.5h1.5M395.5 360.5h1.5M398 360.5h1.5M401 360.5h1.5M401.5 360.5h1.5M413 360.5h1.5M414 360.5h1.5M415.5 360.5h1.5M417 360.5h1.5M458.5 360.5h1.5M474 360.5h1.5M485 360.5h1.5M381.5 361h1.5M385.5 361h1.5M387 361h1.5M389.5 361h1.5M391.5 361h1.5M394 361h1.5M396.5 361h1.5M403 361h1.5M405.5 361h1.5M407 361h1.5M408 361h1.5M409.5 361h1.5M410.5 361h1.5M458.5 361h1.5M465 361h1.5M469 361h1.5M482.5 361h1.5M374 361.5h1.5M374.5 361.5h1.5M376 361.5h1.5M377.5 361.5h1.5M378.5 361.5h1.5M382 361.5h1.5M383.5 361.5h1.5M384.5 361.5h1.5M387.5 361.5h1.5M388 361.5h1.5M390.5 361.5h1.5M395.5 361.5h1.5M396.5 361.5h1.5M398.5 361.5h1.5M399.5 361.5h1.5M404 361.5h1.5M411.5 361.5h1.5M414.5 361.5h1.5M416 361.5h1.5M417 361.5h1.5M419.5 361.5h1.5M422.5 361.5h1.5M424.5 361.5h1.5M457.5 361.5h1.5M480 361.5h1.5M378.5 362h1.5M380 362h1.5M381.5 362h1.5M393 362h1.5M394 362h1.5M397.5 362h1.5M401 362h1.5M402.5 362h1.5M406 362h1.5M407.5 362h1.5M408.5 362h1.5M412.5 362h1.5M414 362h1.5M416.5 362h1.5M436 362h1.5M491 362h1.5M384.5 362.5h1.5M386 362.5h1.5M389.5 362.5h1.5M391.5 362.5h1.5M395 362.5h1.5M404.5 362.5h1.5M410 362.5h1.5M415 362.5h1.5M417.5 362.5h1.5M430.5 362.5h1.5M431.5 362.5h1.5M438.5 362.5h1.5M440 362.5h1.5M467.5 362.5h1.5M483 362.5h1.5M375 363h1.5M381.5 363h1.5M383 363h1.5M387 363h1.5M388 363h1.5M390 363h1.5M392.5 363h1.5M396 363h1.5M398 363h1.5M399.5 363h1.5M402 363h1.5M403 363h1.5M410 363h1.5M411.5 363h1.5M412.5 363h1.5M424.5 363h1.5M432 363h1.5M472 363h1.5M378.5 363.5h1.5M380 363.5h1.5M383 363.5h1.5M388.5 363.5h1.5M394 363.5h1.5M396 363.5h1.5M397.5 363.5h1.5M401 363.5h1.5M406 363.5h1.5M407.5 363.5h1.5M409 363.5h1.5M413.5 363.5h1.5M416 363.5h1.5M417.5 363.5h1.5M424.5 363.5h1.5M488 363.5h1.5M369 364h1.5M381.5 364h1.5M384.5 364h1.5M386 364h1.5M387.5 364h1.5M391 364h1.5M395.5 364h1.5M403.5 364h1.5M405 364h1.5M409 364h1.5M412.5 364h1.5M414.5 364h1.5M419 364h1.5M454.5 364h1.5M375.5 364.5h1.5M384.5 364.5h1.5M389.5 364.5h1.5M392 364.5h1.5M393.5 364.5h1.5M394.5 364.5h1.5M398 364.5h1.5M399.5 364.5h1.5M401 364.5h1.5M402.5 364.5h1.5M406 364.5h1.5M407.5 364.5h1.5M410 364.5h1.5M411 364.5h1.5M413.5 364.5h1.5M417.5 364.5h1.5M419.5 364.5h1.5M423.5 364.5h1.5M452.5 364.5h1.5M381 365h1.5M382 365h1.5M383 365h1.5M388.5 365h1.5M391.5 365h1.5M396.5 365h1.5M402 365h1.5M408 365h1.5M416 365h1.5M421 365h1.5M422.5 365h1.5M432.5 365h1.5M469 365h1.5M385.5 365.5h1.5M387 365.5h1.5M390 365.5h1.5M391 365.5h1.5M395 365.5h1.5M397 365.5h1.5M398.5 365.5h1.5M399.5 365.5h1.5M404 365.5h1.5M405 365.5h1.5M407 365.5h1.5M409.5 365.5h1.5M412 365.5h1.5M415 365.5h1.5M378 366h1.5M384.5 366h1.5M390.5 366h1.5M393 366h1.5M394 366h1.5M396.5 366h1.5M401 366h1.5M403 366h1.5M405.5 366h1.5M410.5 366h1.5M413.5 366h1.5M418 366h1.5M419 366h1.5M373 366.5h1.5M373.5 366.5h1.5M380 366.5h1.5M381 366.5h1.5M382.5 366.5h1.5M383.5 366.5h1.5M386.5 366.5h1.5M387.5 366.5h1.5M389 366.5h1.5M392.5 366.5h1.5M395.5 366.5h1.5M402 366.5h1.5M403.5 366.5h1.5M407.5 366.5h1.5M408.5 366.5h1.5M410.5 366.5h1.5M415 366.5h1.5M416 366.5h1.5M418.5 366.5h1.5M420.5 366.5h1.5M422.5 366.5h1.5M428.5 366.5h1.5M434.5 366.5h1.5M380 367h1.5M381 367h1.5M382 367h1.5M385.5 367h1.5M389.5 367h1.5M391.5 367h1.5M394 367h1.5M398 367h1.5M399 367h1.5M400 367h1.5M404.5 367h1.5M406.5 367h1.5M409.5 367h1.5M412 367h1.5M417 367h1.5M424 367h1.5M444.5 367h1.5M448 367h1.5M463 367h1.5M473.5 367h1.5M384.5 367.5h1.5M387.5 367.5h1.5M391 367.5h1.5M392.5 367.5h1.5M395.5 367.5h1.5M397 367.5h1.5M398 367.5h1.5M401 367.5h1.5M405.5 367.5h1.5M408 367.5h1.5M412.5 367.5h1.5M414 367.5h1.5M414.5 367.5h1.5M466 367.5h1.5M471 367.5h1.5M383 368h1.5M386 368h1.5M388.5 368h1.5M391 368h1.5M394.5 368h1.5M399.5 368h1.5M402.5 368h1.5M404 368h1.5M407.5 368h1.5M410.5 368h1.5M413 368h1.5M416 368h1.5M441 368h1.5M466 368h1.5M380.5 368.5h1.5M390 368.5h1.5M393.5 368.5h1.5M399 368.5h1.5M402.5 368.5h1.5M406 368.5h1.5M409 368.5h1.5M410.5 368.5h1.5M411.5 368.5h1.5M417.5 368.5h1.5M420 368.5h1.5M384.5 369h1.5M387.5 369h1.5M392 369h1.5M394 369h1.5M396 369h1.5M397 369h1.5M398.5 369h1.5M401 369h1.5M404 369h1.5M405 369h1.5M414 369h1.5M415 369h1.5M416 369h1.5M419 369h1.5M429.5 369h1.5M462.5 369h1.5M383 369.5h1.5M385.5 369.5h1.5M387 369.5h1.5M388.5 369.5h1.5M389 369.5h1.5M390.5 369.5h1.5M395.5 369.5h1.5M398 369.5h1.5M400.5 369.5h1.5M407 369.5h1.5M408.5 369.5h1.5M411 369.5h1.5M412 369.5h1.5M413.5 369.5h1.5M415.5 369.5h1.5M503.5 369.5h1.5M379.5 370h1.5M382 370h1.5M392 370h1.5M393.5 370h1.5M395 370h1.5M396.5 370h1.5M399 370h1.5M400 370h1.5M401.5 370h1.5M402.5 370h1.5M403.5 370h1.5M404.5 370h1.5M406 370h1.5M407.5 370h1.5M409.5 370h1.5M410 370h1.5M419 370h1.5" stroke="#7a7a7a" stroke-width="1.5" fill="none"/>
<path d="M426.9 234.3V370.6M346.2 336.20000000000005H514.5" stroke="#1a1a1a" stroke-width="1.2" fill="none"/>
<rect x="346.2" y="234.3" width="168.30" height="136.3" fill="none" stroke="#1a1a1a" stroke-width="1.4"/>
<path d="M346.20 370.6v3.8M346.2 370.60h-3.8M358.87 370.6v2.4M346.2 360.34h-2.4M366.27 370.6v2.4M346.2 354.34h-2.4M371.53 370.6v2.4M346.2 350.08h-2.4M375.61 370.6v2.4M346.2 346.78h-2.4M378.94 370.6v2.4M346.2 344.08h-2.4M381.76 370.6v2.4M346.2 341.80h-2.4M384.20 370.6v2.4M346.2 339.83h-2.4M386.35 370.6v2.4M346.2 338.08h-2.4M388.27 370.6v3.8M346.2 336.53h-3.8M400.94 370.6v2.4M346.2 326.27h-2.4M408.35 370.6v2.4M346.2 320.27h-2.4M413.61 370.6v2.4M346.2 316.01h-2.4M417.68 370.6v2.4M346.2 312.71h-2.4M421.02 370.6v2.4M346.2 310.01h-2.4M423.83 370.6v2.4M346.2 307.73h-2.4M426.27 370.6v2.4M346.2 305.75h-2.4M428.42 370.6v2.4M346.2 304.01h-2.4M430.35 370.6v3.8M346.2 302.45h-3.8M443.02 370.6v2.4M346.2 292.19h-2.4M450.42 370.6v2.4M346.2 286.19h-2.4M455.68 370.6v2.4M346.2 281.93h-2.4M459.76 370.6v2.4M346.2 278.63h-2.4M463.09 370.6v2.4M346.2 275.93h-2.4M465.91 370.6v2.4M346.2 273.65h-2.4M468.35 370.6v2.4M346.2 271.68h-2.4M470.50 370.6v2.4M346.2 269.93h-2.4M472.43 370.6v3.8M346.2 268.38h-3.8M485.09 370.6v2.4M346.2 258.12h-2.4M492.50 370.6v2.4M346.2 252.12h-2.4M497.76 370.6v2.4M346.2 247.86h-2.4M501.83 370.6v2.4M346.2 244.56h-2.4M505.17 370.6v2.4M346.2 241.86h-2.4M507.98 370.6v2.4M346.2 239.58h-2.4M510.42 370.6v2.4M346.2 237.60h-2.4M512.57 370.6v2.4M346.2 235.86h-2.4M514.50 370.6v3.8M346.2 234.3h-3.8" stroke="#111" stroke-width="1.15" fill="none"/>
<text x="347.50" y="384.10" font-size="10.9" text-anchor="middle" fill="#111">10<tspan dy="-4.3" font-size="7.8">0</tspan></text>
<text x="389.47" y="384.10" font-size="10.9" text-anchor="middle" fill="#111">10<tspan dy="-4.3" font-size="7.8">1</tspan></text>
<text x="427.95" y="384.10" font-size="10.9" text-anchor="middle" fill="#111">10<tspan dy="-4.3" font-size="7.8">2</tspan></text>
<text x="469.93" y="384.10" font-size="10.9" text-anchor="middle" fill="#111">10<tspan dy="-4.3" font-size="7.8">3</tspan></text>
<text x="509.90" y="384.10" font-size="10.9" text-anchor="middle" fill="#111">10<tspan dy="-4.3" font-size="7.8">4</tspan></text>
<text transform="translate(339.30,368.30) rotate(-90)" font-size="10.9" text-anchor="middle" fill="#111">10<tspan dy="-4.3" font-size="7.8">0</tspan></text>
<text transform="translate(339.30,338.83) rotate(-90)" font-size="10.9" text-anchor="middle" fill="#111">10<tspan dy="-4.3" font-size="7.8">1</tspan></text>
<text transform="translate(339.30,303.45) rotate(-90)" font-size="10.9" text-anchor="middle" fill="#111">10<tspan dy="-4.3" font-size="7.8">2</tspan></text>
<text transform="translate(339.30,269.98) rotate(-90)" font-size="10.9" text-anchor="middle" fill="#111">10<tspan dy="-4.3" font-size="7.8">3</tspan></text>
<text transform="translate(339.30,236.70) rotate(-90)" font-size="10.9" text-anchor="middle" fill="#111">10<tspan dy="-4.3" font-size="7.8">4</tspan></text>
<text transform="translate(326.60,304.50) rotate(-90)" font-size="11.5" text-anchor="middle" fill="#111" textLength="12" lengthAdjust="spacingAndGlyphs">PI</text>
<text x="385.50" y="230.20" font-size="11.6" fill="#111" textLength="72.7" lengthAdjust="spacingAndGlyphs">WT day 7.004</text>
<text x="427.60" y="393.80" font-size="10.6" text-anchor="middle" fill="#111" textLength="75" lengthAdjust="spacingAndGlyphs">Annexin Y-Cy5</text>
<text x="510.00" y="256.90" font-size="24.5" font-weight="bold" text-anchor="end" fill="#000" textLength="44.7" lengthAdjust="spacingAndGlyphs">13%</text>
<path d="M235.5 470.5h1.5M243 473.5h1.5M239.5 474h1.5M246 478h1.5M287.5 483h1.5M293 483.5h1.5M208.5 488.5h1.5M209 489h1.5M231 489h1.5M268 491.5h1.5M258 492h1.5M230.5 493h1.5M267.5 493h1.5M226.5 493.5h1.5M247.5 494.5h1.5M272 495h1.5M213.5 496.5h1.5M269 497.5h1.5M209.5 498h1.5M280.5 498h1.5M218.5 498.5h1.5M231 499h1.5M210.5 499.5h1.5M272 500.5h1.5M281 501.5h1.5M170.5 504.5h1.5M225.5 505h1.5M259.5 505h1.5M175 505.5h1.5M213.5 505.5h1.5M265.5 505.5h1.5M271.5 505.5h1.5M272 505.5h1.5M189.5 506.5h1.5M272.5 507.5h1.5M292.5 507.5h1.5M199 508h1.5M168.5 508.5h1.5M174.5 508.5h1.5M200.5 508.5h1.5M180 510h1.5M220.5 510h1.5M203.5 510.5h1.5M277.5 511h1.5M170 512.5h1.5M268.5 513h1.5M186 513.5h1.5M188.5 513.5h1.5M187 514h1.5M220.5 514.5h1.5M243 514.5h1.5M174.5 515.5h1.5M176 515.5h1.5M244.5 515.5h1.5M183.5 516h1.5M187 516h1.5M188 516h1.5M194.5 516h1.5M246.5 516h1.5M259.5 516h1.5M269 516h1.5M186 516.5h1.5M250 516.5h1.5M246 517h1.5M251.5 517h1.5M260 517h1.5M261.5 517h1.5M229 517.5h1.5M256.5 517.5h1.5M193 518h1.5M288.5 518h1.5M169.5 518.5h1.5M175 518.5h1.5M178 518.5h1.5M184.5 519h1.5M180.5 519.5h1.5M168 520h1.5M176 520h1.5M181.5 520h1.5M233.5 520h1.5M264 520h1.5M210.5 520.5h1.5M267.5 520.5h1.5M272.5 520.5h1.5M175.5 521h1.5M198 521h1.5M201.5 521h1.5M224 521h1.5M290.5 521h1.5M201 521.5h1.5M228 521.5h1.5M283.5 521.5h1.5M154 522h1.5M270 522h1.5M232.5 522.5h1.5M257.5 522.5h1.5M262 522.5h1.5M176.5 523h1.5M197 523h1.5M200 523h1.5M202 523h1.5M246.5 523h1.5M289 523h1.5M180 523.5h1.5M270.5 523.5h1.5M271.5 524h1.5M179 524.5h1.5M186.5 524.5h1.5M188.5 524.5h1.5M194.5 524.5h1.5M188 525h1.5M196 525h1.5M255 525h1.5M264 525h1.5M270 525h1.5M173 525.5h1.5M181.5 525.5h1.5M187.5 525.5h1.5M189 525.5h1.5M205 525.5h1.5M262.5 525.5h1.5M266.5 525.5h1.5M286.5 525.5h1.5M181 526h1.5M182.5 526h1.5M198.5 526h1.5M268.5 526h1.5M280 526h1.5M201.5 526.5h1.5M272.5 526.5h1.5M182.5 527h1.5M197.5 527h1.5M209.5 527h1.5M249 527h1.5M175 527.5h1.5M188.5 527.5h1.5M194.5 527.5h1.5M208 527.5h1.5M275 527.5h1.5M290 527.5h1.5M178 528h1.5M187.5 528h1.5M199 528h1.5M193.5 528.5h1.5M197.5 528.5h1.5M200 528.5h1.5M229.5 528.5h1.5M181 529h1.5M186.5 529h1.5M187.5 529h1.5M196.5 529h1.5M215 529h1.5M215.5 529h1.5M254 529h1.5M197 529.5h1.5M205.5 529.5h1.5M171.5 530h1.5M184.5 530h1.5M203 530h1.5M173 530.5h1.5M174 530.5h1.5M183 530.5h1.5M186 530.5h1.5M217 530.5h1.5M251 530.5h1.5M273.5 530.5h1.5M183.5 531h1.5M189 531h1.5M195.5 531h1.5M262.5 531h1.5M143.5 531.5h1.5M190 531.5h1.5M191.5 531.5h1.5M200 531.5h1.5M269 531.5h1.5M273.5 531.5h1.5M284 531.5h1.5M186 532h1.5M190.5 532h1.5M192 532h1.5M203 532h1.5M231.5 532h1.5M269 532h1.5M178.5 532.5h1.5M181 532.5h1.5M181.5 532.5h1.5M200 532.5h1.5M261.5 532.5h1.5M263 532.5h1.5M278.5 532.5h1.5M166 533h1.5M175 533h1.5M177 533h1.5M177.5 533h1.5M179 533h1.5M181 533h1.5M184 533h1.5M187 533h1.5M188.5 533h1.5M195 533h1.5M199 533h1.5M201.5 533h1.5M189.5 533.5h1.5M201.5 533.5h1.5M174 534h1.5M182 534h1.5M184 534h1.5M186.5 534h1.5M191 534h1.5M191.5 534h1.5M197 534h1.5M199.5 534h1.5M201 534h1.5M207.5 534h1.5M243 534h1.5M268.5 534h1.5M161 535h1.5M171 535h1.5M177.5 535h1.5M195 535h1.5M195.5 535h1.5M272.5 535h1.5M232 535.5h1.5M183 536h1.5M196 536h1.5M178 536.5h1.5M195 536.5h1.5M198.5 536.5h1.5M199.5 536.5h1.5M200.5 536.5h1.5M216.5 536.5h1.5M196.5 537h1.5M209 537h1.5M214.5 537h1.5M250.5 537h1.5M254.5 537h1.5M174 537.5h1.5M198.5 537.5h1.5M169 538h1.5M173 538h1.5M178 538h1.5M208 538h1.5M269 538h1.5M270.5 538h1.5M174 538.5h1.5M196.5 538.5h1.5M199.5 538.5h1.5M203.5 538.5h1.5M216 538.5h1.5M265.5 538.5h1.5M276 538.5h1.5M170 539h1.5M206 539h1.5M276.5 539h1.5M167.5 539.5h1.5M176.5 539.5h1.5M203.5 539.5h1.5M207.5 539.5h1.5M265 539.5h1.5M277.5 539.5h1.5M172 540h1.5M197 540h1.5M198 540h1.5M200 540h1.5M203 540h1.5M208.5 540h1.5M269.5 540h1.5M273.5 540h1.5M275.5 540h1.5M277.5 540h1.5M168 540.5h1.5M200.5 540.5h1.5M224 540.5h1.5M261.5 540.5h1.5M265 540.5h1.5M145.5 541h1.5M170 541h1.5M202.5 541h1.5M229.5 541h1.5M240 541h1.5M177 541.5h1.5M204.5 541.5h1.5M208 541.5h1.5M172.5 542h1.5M199 542h1.5M257 542h1.5M269.5 542h1.5M153 542.5h1.5M164 542.5h1.5M197.5 542.5h1.5M202.5 542.5h1.5M206.5 542.5h1.5M167.5 543h1.5M202.5 543h1.5M171.5 543.5h1.5M172 543.5h1.5M206.5 543.5h1.5M234.5 543.5h1.5M267.5 543.5h1.5M199.5 544h1.5M201.5 544h1.5M276.5 544h1.5M166.5 544.5h1.5M198 544.5h1.5M202.5 544.5h1.5M206 544.5h1.5M280.5 544.5h1.5M277 545h1.5M278.5 545h1.5M201 545.5h1.5M172 546h1.5M204 546h1.5M163 546.5h1.5M175.5 546.5h1.5M200.5 546.5h1.5M205 546.5h1.5M161.5 547h1.5M170.5 547h1.5M172.5 547h1.5M202.5 547h1.5M205.5 547h1.5M206 547h1.5M257.5 547h1.5M168.5 547.5h1.5M169 547.5h1.5M200 547.5h1.5M262.5 547.5h1.5M273.5 547.5h1.5M162.5 548h1.5M166.5 548h1.5M170 548h1.5M144 548.5h1.5M198.5 548.5h1.5M173.5 549h1.5M174 549h1.5M207 549h1.5M203 549.5h1.5M208 549.5h1.5M215.5 549.5h1.5M170 550h1.5M171.5 550h1.5M175 550h1.5M201 550h1.5M220.5 550.5h1.5M256 550.5h1.5M165 551h1.5M166.5 551h1.5M203.5 551h1.5M216 551h1.5M202 551.5h1.5M264 551.5h1.5M204 552h1.5M206 552h1.5M268 552h1.5M169.5 552.5h1.5M199 552.5h1.5M199.5 552.5h1.5M283 552.5h1.5M161.5 553h1.5M167 553h1.5M204.5 553h1.5M144 553.5h1.5M197.5 553.5h1.5M200.5 553.5h1.5M202 553.5h1.5M204 553.5h1.5M167 554h1.5M169 554h1.5M162.5 554.5h1.5M169.5 554.5h1.5M200.5 554.5h1.5M202 554.5h1.5M245.5 554.5h1.5M211.5 555h1.5M278 555h1.5M177 555.5h1.5M200 556h1.5" stroke="#484848" stroke-width="1.5" fill="none"/>
<path d="M272.5 470.5h1.5M286.5 471.5h1.5M268 474.5h1.5M217.5 475h1.5M269.5 476h1.5M270 476.5h1.5M210 478h1.5M208.5 481h1.5M247.5 481.5h1.5M224 485.5h1.5M208 487.5h1.5M264 488h1.5M248 491h1.5M255 491h1.5M189.5 491.5h1.5M273 491.5h1.5M210.5 492.5h1.5M258.5 493h1.5M229.5 494h1.5M291 494h1.5M283 494.5h1.5M205.5 495h1.5M255.5 496h1.5M267.5 496h1.5M240 496.5h1.5M242.5 498.5h1.5M174.5 499h1.5M184 499h1.5M230.5 499h1.5M262 499h1.5M229.5 499.5h1.5M165.5 500h1.5M208.5 500h1.5M233.5 500h1.5M272 500h1.5M177 500.5h1.5M204.5 501h1.5M186.5 501.5h1.5M227.5 501.5h1.5M230 501.5h1.5M242 501.5h1.5M229 503h1.5M237.5 503.5h1.5M189.5 504h1.5M198 504h1.5M224.5 504.5h1.5M278.5 504.5h1.5M179.5 505.5h1.5M288.5 506h1.5M272 506.5h1.5M231 507.5h1.5M188 508.5h1.5M209 508.5h1.5M257 508.5h1.5M270.5 509h1.5M270 509.5h1.5M271 510.5h1.5M215 511h1.5M241 511h1.5M251.5 511h1.5M179.5 511.5h1.5M183 511.5h1.5M266 511.5h1.5M272 511.5h1.5M287 511.5h1.5M160.5 512h1.5M251.5 512h1.5M282.5 512.5h1.5M180 513h1.5M185.5 514h1.5M218 514h1.5M273.5 514h1.5M269 514.5h1.5M177 515h1.5M271.5 515h1.5M267 515.5h1.5M155 516h1.5M179 516.5h1.5M283.5 516.5h1.5M254 517h1.5M269.5 517h1.5M161.5 517.5h1.5M168.5 517.5h1.5M261.5 517.5h1.5M262 517.5h1.5M166 518h1.5M187 518h1.5M191 518h1.5M252 518h1.5M176 518.5h1.5M273 518.5h1.5M176 519h1.5M188.5 519h1.5M273 519h1.5M180 519.5h1.5M184.5 519.5h1.5M187.5 519.5h1.5M202 519.5h1.5M232.5 520h1.5M193 520.5h1.5M201 520.5h1.5M254.5 520.5h1.5M179 521h1.5M193.5 521h1.5M206.5 521h1.5M173.5 521.5h1.5M177 522h1.5M283.5 522h1.5M180 522.5h1.5M193 522.5h1.5M163 523h1.5M169.5 523h1.5M173 523h1.5M187.5 523h1.5M189 523h1.5M255 523h1.5M197.5 523.5h1.5M206 523.5h1.5M206.5 523.5h1.5M185.5 524h1.5M187 524h1.5M196 524h1.5M198.5 524h1.5M240 524h1.5M268 524h1.5M164 524.5h1.5M172 524.5h1.5M179.5 524.5h1.5M182.5 524.5h1.5M185.5 524.5h1.5M237 524.5h1.5M258.5 524.5h1.5M277 524.5h1.5M170.5 525h1.5M184.5 525h1.5M185 525h1.5M202 525h1.5M259.5 525h1.5M283 525h1.5M162.5 525.5h1.5M181.5 525.5h1.5M187 525.5h1.5M195 525.5h1.5M196 525.5h1.5M223.5 525.5h1.5M272 525.5h1.5M277 525.5h1.5M176 526h1.5M180 526h1.5M184.5 526h1.5M191 526h1.5M199 526h1.5M261 526h1.5M264.5 526h1.5M284.5 526h1.5M182.5 526.5h1.5M198.5 526.5h1.5M169 527h1.5M186 527h1.5M278.5 527h1.5M174 527.5h1.5M174.5 527.5h1.5M179 527.5h1.5M195 527.5h1.5M206.5 527.5h1.5M272 527.5h1.5M290.5 527.5h1.5M175.5 528h1.5M177 528h1.5M188.5 528h1.5M194 528h1.5M270.5 528h1.5M272.5 528h1.5M149 528.5h1.5M193.5 528.5h1.5M178.5 529h1.5M180 529h1.5M183 529h1.5M184 529h1.5M185.5 529h1.5M187 529h1.5M188 529h1.5M193.5 529h1.5M199 529h1.5M201 529h1.5M204 529h1.5M264 529h1.5M181.5 529.5h1.5M185 529.5h1.5M189.5 529.5h1.5M195.5 529.5h1.5M199 529.5h1.5M218 529.5h1.5M266 529.5h1.5M192 530h1.5M198 530h1.5M207.5 530h1.5M208.5 530h1.5M269.5 530h1.5M158.5 530.5h1.5M176.5 530.5h1.5M182.5 530.5h1.5M185.5 530.5h1.5M186.5 530.5h1.5M188 530.5h1.5M192 530.5h1.5M202 530.5h1.5M203 530.5h1.5M207 530.5h1.5M262 530.5h1.5M267.5 530.5h1.5M270 530.5h1.5M279.5 530.5h1.5M179.5 531h1.5M187.5 531h1.5M189 531h1.5M290.5 531h1.5M176 531.5h1.5M179 531.5h1.5M181 531.5h1.5M185 531.5h1.5M190 531.5h1.5M192.5 531.5h1.5M198 531.5h1.5M177 532h1.5M183.5 532h1.5M186 532h1.5M186.5 532h1.5M191 532h1.5M193 532h1.5M195.5 532h1.5M201 532h1.5M228.5 532h1.5M261.5 532h1.5M173 532.5h1.5M180.5 532.5h1.5M184.5 532.5h1.5M188.5 532.5h1.5M190 532.5h1.5M266 532.5h1.5M177.5 533h1.5M179.5 533h1.5M180.5 533h1.5M183.5 533h1.5M191 533h1.5M192 533h1.5M193 533h1.5M199 533h1.5M201 533h1.5M202 533h1.5M157 533.5h1.5M169 533.5h1.5M174.5 533.5h1.5M185.5 533.5h1.5M189.5 533.5h1.5M192.5 533.5h1.5M196.5 533.5h1.5M158 534h1.5M172 534h1.5M175 534h1.5M176.5 534h1.5M178.5 534h1.5M181.5 534h1.5M185 534h1.5M186.5 534h1.5M188 534h1.5M194.5 534h1.5M200 534h1.5M201.5 534h1.5M206 534h1.5M180 534.5h1.5M182.5 534.5h1.5M184 534.5h1.5M190 534.5h1.5M195 534.5h1.5M197.5 534.5h1.5M268 534.5h1.5M270 534.5h1.5M164 535h1.5M177 535h1.5M190 535h1.5M193.5 535h1.5M203.5 535h1.5M175.5 535.5h1.5M178.5 535.5h1.5M180 535.5h1.5M181.5 535.5h1.5M185.5 535.5h1.5M186.5 535.5h1.5M188 535.5h1.5M188.5 535.5h1.5M190.5 535.5h1.5M192 535.5h1.5M193.5 535.5h1.5M196 535.5h1.5M273.5 535.5h1.5M277 535.5h1.5M171.5 536h1.5M174.5 536h1.5M176.5 536h1.5M177.5 536h1.5M183 536h1.5M184.5 536h1.5M186 536h1.5M194.5 536h1.5M200.5 536h1.5M266.5 536h1.5M166.5 536.5h1.5M180 536.5h1.5M181 536.5h1.5M182 536.5h1.5M186.5 536.5h1.5M188.5 536.5h1.5M190 536.5h1.5M191 536.5h1.5M196 536.5h1.5M198 536.5h1.5M203 536.5h1.5M172 537h1.5M173.5 537h1.5M175 537h1.5M179 537h1.5M184.5 537h1.5M188 537h1.5M192.5 537h1.5M194 537h1.5M195.5 537h1.5M197.5 537h1.5M198 537h1.5M202 537h1.5M289.5 537h1.5M176.5 537.5h1.5M178 537.5h1.5M180.5 537.5h1.5M181 537.5h1.5M183.5 537.5h1.5M186 537.5h1.5M187.5 537.5h1.5M191.5 537.5h1.5M270 537.5h1.5M174 538h1.5M175 538h1.5M182.5 538h1.5M185 538h1.5M189.5 538h1.5M190.5 538h1.5M193 538h1.5M195.5 538h1.5M196 538h1.5M200 538h1.5M201 538h1.5M167 538.5h1.5M177.5 538.5h1.5M179 538.5h1.5M186 538.5h1.5M188 538.5h1.5M194 538.5h1.5M198 538.5h1.5M205 538.5h1.5M207.5 538.5h1.5M208 538.5h1.5M212 538.5h1.5M272 538.5h1.5M176 539h1.5M179.5 539h1.5M181 539h1.5M182 539h1.5M183.5 539h1.5M187.5 539h1.5M191.5 539h1.5M206.5 539h1.5M272 539h1.5M148 539.5h1.5M167.5 539.5h1.5M170.5 539.5h1.5M171.5 539.5h1.5M174.5 539.5h1.5M176.5 539.5h1.5M185 539.5h1.5M187.5 539.5h1.5M189 539.5h1.5M189.5 539.5h1.5M191 539.5h1.5M193 539.5h1.5M195.5 539.5h1.5M196.5 539.5h1.5M198.5 539.5h1.5M200 539.5h1.5M203 539.5h1.5M209 539.5h1.5M178 540h1.5M179.5 540h1.5M182.5 540h1.5M186 540h1.5M191 540h1.5M192.5 540h1.5M194.5 540h1.5M197.5 540h1.5M204.5 540h1.5M208 540h1.5M262 540h1.5M166.5 540.5h1.5M175.5 540.5h1.5M178 540.5h1.5M181 540.5h1.5M184 540.5h1.5M184.5 540.5h1.5M197 540.5h1.5M207 540.5h1.5M241 540.5h1.5M268 540.5h1.5M161.5 541h1.5M171 541h1.5M172.5 541h1.5M174 541h1.5M174.5 541h1.5M177 541h1.5M187 541h1.5M188 541h1.5M189.5 541h1.5M190.5 541h1.5M193.5 541h1.5M195.5 541h1.5M199 541h1.5M200.5 541h1.5M202 541h1.5M207 541h1.5M209 541h1.5M263 541h1.5M266.5 541h1.5M269 541h1.5M167.5 541.5h1.5M176 541.5h1.5M179.5 541.5h1.5M181.5 541.5h1.5M182.5 541.5h1.5M184.5 541.5h1.5M185.5 541.5h1.5M187.5 541.5h1.5M189 541.5h1.5M191.5 541.5h1.5M192.5 541.5h1.5M195 541.5h1.5M198 541.5h1.5M272 541.5h1.5M167.5 542h1.5M169.5 542h1.5M173.5 542h1.5M178.5 542h1.5M180 542h1.5M183 542h1.5M185 542h1.5M186 542h1.5M190.5 542h1.5M195 542h1.5M196.5 542h1.5M199.5 542h1.5M202 542h1.5M203.5 542h1.5M267.5 542h1.5M172 542.5h1.5M174.5 542.5h1.5M176 542.5h1.5M177.5 542.5h1.5M182 542.5h1.5M184 542.5h1.5M193.5 542.5h1.5M197.5 542.5h1.5M199 542.5h1.5M201 542.5h1.5M203.5 542.5h1.5M205.5 542.5h1.5M168 543h1.5M168.5 543h1.5M170 543h1.5M172.5 543h1.5M179 543h1.5M180.5 543h1.5M187 543h1.5M188.5 543h1.5M189.5 543h1.5M192 543h1.5M194 543h1.5M283.5 543h1.5M166 543.5h1.5M170.5 543.5h1.5M172 543.5h1.5M174 543.5h1.5M177 543.5h1.5M178 543.5h1.5M183 543.5h1.5M184.5 543.5h1.5M185 543.5h1.5M186.5 543.5h1.5M190.5 543.5h1.5M192.5 543.5h1.5M195 543.5h1.5M196.5 543.5h1.5M198 543.5h1.5M199.5 543.5h1.5M212.5 543.5h1.5M143.5 544h1.5M168.5 544h1.5M170.5 544h1.5M173 544h1.5M175.5 544h1.5M179 544h1.5M180.5 544h1.5M181.5 544h1.5M188.5 544h1.5M189.5 544h1.5M191.5 544h1.5M196.5 544h1.5M199 544h1.5M204.5 544h1.5M205.5 544h1.5M207.5 544h1.5M260.5 544h1.5M269 544h1.5M278 544h1.5M168 544.5h1.5M174.5 544.5h1.5M183 544.5h1.5M184.5 544.5h1.5M187 544.5h1.5M194 544.5h1.5M195.5 544.5h1.5M197.5 544.5h1.5M205 544.5h1.5M210 544.5h1.5M165.5 545h1.5M171 545h1.5M172.5 545h1.5M173 545h1.5M177 545h1.5M178.5 545h1.5M180 545h1.5M186 545h1.5M189.5 545h1.5M190.5 545h1.5M192.5 545h1.5M199.5 545h1.5M200.5 545h1.5M204 545h1.5M207 545h1.5M267 545h1.5M277 545h1.5M175.5 545.5h1.5M180.5 545.5h1.5M182 545.5h1.5M188 545.5h1.5M190.5 545.5h1.5M191.5 545.5h1.5M193 545.5h1.5M194 545.5h1.5M195.5 545.5h1.5M197 545.5h1.5M198.5 545.5h1.5M201 545.5h1.5M203.5 545.5h1.5M212 545.5h1.5M255 545.5h1.5M265.5 545.5h1.5M273 545.5h1.5M275 545.5h1.5M170.5 546h1.5M173.5 546h1.5M174 546h1.5M178.5 546h1.5M181.5 546h1.5M183.5 546h1.5M184.5 546h1.5M186.5 546h1.5M189.5 546h1.5M191.5 546h1.5M195 546h1.5M197 546h1.5M203 546h1.5M206.5 546h1.5M209.5 546h1.5M210.5 546h1.5M263.5 546h1.5M266.5 546h1.5M273 546h1.5M273.5 546h1.5M172 546.5h1.5M174.5 546.5h1.5M177 546.5h1.5M180 546.5h1.5M182 546.5h1.5M185 546.5h1.5M188 546.5h1.5M193.5 546.5h1.5M198.5 546.5h1.5M200 546.5h1.5M203.5 546.5h1.5M205.5 546.5h1.5M208 546.5h1.5M255.5 546.5h1.5M265.5 546.5h1.5M267.5 546.5h1.5M169.5 547h1.5M170 547h1.5M171.5 547h1.5M174 547h1.5M176 547h1.5M178.5 547h1.5M183.5 547h1.5M186 547h1.5M190 547h1.5M192.5 547h1.5M196.5 547h1.5M201 547h1.5M203 547h1.5M271 547h1.5M278.5 547h1.5M175 547.5h1.5M177 547.5h1.5M180.5 547.5h1.5M184.5 547.5h1.5M187.5 547.5h1.5M189 547.5h1.5M191 547.5h1.5M195 547.5h1.5M197.5 547.5h1.5M199.5 547.5h1.5M207 547.5h1.5M262.5 547.5h1.5M275.5 547.5h1.5M163.5 548h1.5M172 548h1.5M178 548h1.5M179.5 548h1.5M182 548h1.5M186 548h1.5M194 548h1.5M199 548h1.5M202.5 548h1.5M225.5 548h1.5M260.5 548h1.5M271.5 548h1.5M272.5 548h1.5M165 548.5h1.5M170.5 548.5h1.5M172.5 548.5h1.5M174 548.5h1.5M175.5 548.5h1.5M176.5 548.5h1.5M179 548.5h1.5M181.5 548.5h1.5M183.5 548.5h1.5M184.5 548.5h1.5M188.5 548.5h1.5M189.5 548.5h1.5M191 548.5h1.5M192 548.5h1.5M193 548.5h1.5M196.5 548.5h1.5M202.5 548.5h1.5M216.5 548.5h1.5M270 548.5h1.5M275 548.5h1.5M169.5 549h1.5M170 549h1.5M171.5 549h1.5M177.5 549h1.5M179.5 549h1.5M180 549h1.5M183 549h1.5M185.5 549h1.5M187 549h1.5M194.5 549h1.5M195.5 549h1.5M197.5 549h1.5M200.5 549h1.5M206 549h1.5M258 549h1.5M168.5 549.5h1.5M174 549.5h1.5M175.5 549.5h1.5M182.5 549.5h1.5M188.5 549.5h1.5M191 549.5h1.5M193 549.5h1.5M199 549.5h1.5M208 549.5h1.5M293 549.5h1.5M169.5 550h1.5M172.5 550h1.5M177 550h1.5M178 550h1.5M181 550h1.5M184.5 550h1.5M185.5 550h1.5M187 550h1.5M189.5 550h1.5M192.5 550h1.5M197 550h1.5M202.5 550h1.5M207 550h1.5M171 550.5h1.5M173 550.5h1.5M178.5 550.5h1.5M180 550.5h1.5M182.5 550.5h1.5M184 550.5h1.5M188.5 550.5h1.5M189 550.5h1.5M193.5 550.5h1.5M195 550.5h1.5M196 550.5h1.5M198.5 550.5h1.5M199.5 550.5h1.5M201 550.5h1.5M170 551h1.5M174.5 551h1.5M176 551h1.5M181.5 551h1.5M185.5 551h1.5M186 551h1.5M190.5 551h1.5M191.5 551h1.5M194.5 551h1.5M197.5 551h1.5M212.5 551h1.5M162 551.5h1.5M172.5 551.5h1.5M177.5 551.5h1.5M187.5 551.5h1.5M193 551.5h1.5M199.5 551.5h1.5M212.5 551.5h1.5M225 551.5h1.5M270.5 551.5h1.5M168.5 552h1.5M171 552h1.5M173 552h1.5M179 552h1.5M180.5 552h1.5M181.5 552h1.5M183 552h1.5M184 552h1.5M186.5 552h1.5M189 552h1.5M190.5 552h1.5M192 552h1.5M195.5 552h1.5M196 552h1.5M198.5 552h1.5M200.5 552h1.5M203 552h1.5M204 552h1.5M283.5 552h1.5M166 552.5h1.5M168 552.5h1.5M170.5 552.5h1.5M172 552.5h1.5M174.5 552.5h1.5M175.5 552.5h1.5M177 552.5h1.5M185 552.5h1.5M188.5 552.5h1.5M191.5 552.5h1.5M194 552.5h1.5M197 552.5h1.5M175 553h1.5M176 553h1.5M177.5 553h1.5M179 553h1.5M179.5 553h1.5M183.5 553h1.5M184 553h1.5M185.5 553h1.5M188 553h1.5M190 553h1.5M193.5 553h1.5M195 553h1.5M198.5 553h1.5M199.5 553h1.5M202 553h1.5M167 553.5h1.5M168 553.5h1.5M172.5 553.5h1.5M174 553.5h1.5M181 553.5h1.5M182 553.5h1.5M186 553.5h1.5M187.5 553.5h1.5M192.5 553.5h1.5M193.5 553.5h1.5M196.5 553.5h1.5M201 553.5h1.5M207 553.5h1.5M169.5 554h1.5M171 554h1.5M172.5 554h1.5M178.5 554h1.5M182.5 554h1.5M189.5 554h1.5M190.5 554h1.5M192 554h1.5M196 554h1.5M197.5 554h1.5M199.5 554h1.5M202.5 554h1.5M271.5 554h1.5M168.5 554.5h1.5M174.5 554.5h1.5M175.5 554.5h1.5M177 554.5h1.5M179.5 554.5h1.5M180 554.5h1.5M184 554.5h1.5M184.5 554.5h1.5M186.5 554.5h1.5M188 554.5h1.5M190.5 554.5h1.5M194.5 554.5h1.5M200.5 554.5h1.5M202 554.5h1.5M204 554.5h1.5M221 554.5h1.5M247 554.5h1.5M277 554.5h1.5M169.5 555h1.5M170.5 555h1.5M173.5 555h1.5M181.5 555h1.5M183 555h1.5M185.5 555h1.5M190 555h1.5M193.5 555h1.5M196 555h1.5M197 555h1.5M198 555h1.5M202.5 555h1.5M171.5 555.5h1.5M175.5 555.5h1.5M177 555.5h1.5M178 555.5h1.5M188.5 555.5h1.5M192 555.5h1.5M200.5 555.5h1.5M205.5 555.5h1.5M207.5 555.5h1.5M212 555.5h1.5M213 555.5h1.5M281 555.5h1.5M166.5 556h1.5M170 556h1.5M174 556h1.5M179 556h1.5M180.5 556h1.5M181.5 556h1.5M183 556h1.5M184.5 556h1.5M186 556h1.5M187.5 556h1.5M188 556h1.5M189.5 556h1.5M191 556h1.5M193 556h1.5M193.5 556h1.5M195 556h1.5M196.5 556h1.5M198 556h1.5M198.5 556h1.5M277 556h1.5" stroke="#7a7a7a" stroke-width="1.5" fill="none"/>
<path d="M208.2 420.3V556.6M128.2 522.2H295.5" stroke="#1a1a1a" stroke-width="1.2" fill="none"/>
<rect x="128.2" y="420.3" width="167.30" height="136.3" fill="none" stroke="#1a1a1a" stroke-width="1.4"/>
<path d="M128.20 556.6v3.8M128.2 556.60h-3.8M140.79 556.6v2.4M128.2 546.34h-2.4M148.16 556.6v2.4M128.2 540.34h-2.4M153.38 556.6v2.4M128.2 536.08h-2.4M157.43 556.6v2.4M128.2 532.78h-2.4M160.75 556.6v2.4M128.2 530.08h-2.4M163.55 556.6v2.4M128.2 527.80h-2.4M165.97 556.6v2.4M128.2 525.83h-2.4M168.11 556.6v2.4M128.2 524.08h-2.4M170.02 556.6v3.8M128.2 522.52h-3.8M182.62 556.6v2.4M128.2 512.27h-2.4M189.98 556.6v2.4M128.2 506.27h-2.4M195.21 556.6v2.4M128.2 502.01h-2.4M199.26 556.6v2.4M128.2 498.71h-2.4M202.57 556.6v2.4M128.2 496.01h-2.4M205.37 556.6v2.4M128.2 493.73h-2.4M207.80 556.6v2.4M128.2 491.75h-2.4M209.94 556.6v2.4M128.2 490.01h-2.4M211.85 556.6v3.8M128.2 488.45h-3.8M224.44 556.6v2.4M128.2 478.19h-2.4M231.81 556.6v2.4M128.2 472.19h-2.4M237.03 556.6v2.4M128.2 467.93h-2.4M241.08 556.6v2.4M128.2 464.63h-2.4M244.40 556.6v2.4M128.2 461.93h-2.4M247.20 556.6v2.4M128.2 459.65h-2.4M249.62 556.6v2.4M128.2 457.68h-2.4M251.76 556.6v2.4M128.2 455.93h-2.4M253.68 556.6v3.8M128.2 454.38h-3.8M266.27 556.6v2.4M128.2 444.12h-2.4M273.63 556.6v2.4M128.2 438.12h-2.4M278.86 556.6v2.4M128.2 433.86h-2.4M282.91 556.6v2.4M128.2 430.56h-2.4M286.22 556.6v2.4M128.2 427.86h-2.4M289.02 556.6v2.4M128.2 425.58h-2.4M291.45 556.6v2.4M128.2 423.60h-2.4M293.59 556.6v2.4M128.2 421.86h-2.4M295.50 556.6v3.8M128.2 420.3h-3.8" stroke="#111" stroke-width="1.15" fill="none"/>
<text x="129.40" y="570.10" font-size="10.9" text-anchor="middle" fill="#111">10<tspan dy="-4.3" font-size="7.8">0</tspan></text>
<text x="169.52" y="570.10" font-size="10.9" text-anchor="middle" fill="#111">10<tspan dy="-4.3" font-size="7.8">1</tspan></text>
<text x="211.15" y="570.10" font-size="10.9" text-anchor="middle" fill="#111">10<tspan dy="-4.3" font-size="7.8">2</tspan></text>
<text x="252.38" y="570.10" font-size="10.9" text-anchor="middle" fill="#111">10<tspan dy="-4.3" font-size="7.8">3</tspan></text>
<text x="292.70" y="570.10" font-size="10.9" text-anchor="middle" fill="#111">10<tspan dy="-4.3" font-size="7.8">4</tspan></text>
<text transform="translate(121.30,554.30) rotate(-90)" font-size="10.9" text-anchor="middle" fill="#111">10<tspan dy="-4.3" font-size="7.8">0</tspan></text>
<text transform="translate(121.30,523.82) rotate(-90)" font-size="10.9" text-anchor="middle" fill="#111">10<tspan dy="-4.3" font-size="7.8">1</tspan></text>
<text transform="translate(121.30,488.45) rotate(-90)" font-size="10.9" text-anchor="middle" fill="#111">10<tspan dy="-4.3" font-size="7.8">2</tspan></text>
<text transform="translate(121.30,454.98) rotate(-90)" font-size="10.9" text-anchor="middle" fill="#111">10<tspan dy="-4.3" font-size="7.8">3</tspan></text>
<text transform="translate(121.30,422.70) rotate(-90)" font-size="10.9" text-anchor="middle" fill="#111">10<tspan dy="-4.3" font-size="7.8">4</tspan></text>
<text transform="translate(108.60,490.60) rotate(-90)" font-size="11.5" text-anchor="middle" fill="#111" textLength="12" lengthAdjust="spacingAndGlyphs">PI</text>
<text x="144.40" y="415.30" font-size="11.6" fill="#111" textLength="123.8" lengthAdjust="spacingAndGlyphs">G185R 25-23 day 0.011</text>
<text x="208.00" y="579.80" font-size="10.6" text-anchor="middle" fill="#111" textLength="75" lengthAdjust="spacingAndGlyphs">Annexin Y-Cy5</text>
<text x="285.10" y="442.90" font-size="24.5" font-weight="bold" text-anchor="end" fill="#000" textLength="31.7" lengthAdjust="spacingAndGlyphs">3%</text>
<path d="M485.5 463.5h1.5M508.5 485.5h1.5M456 489h1.5M482.5 491.5h1.5M495.5 491.5h1.5M476 493.5h1.5M447 494.5h1.5M496 496h1.5M499.5 496h1.5M504.5 496h1.5M491.5 496.5h1.5M476 497h1.5M462 497.5h1.5M478 498h1.5M486.5 498h1.5M487 498h1.5M480 498.5h1.5M503.5 498.5h1.5M506.5 498.5h1.5M489 499h1.5M475 500h1.5M487 500h1.5M490.5 500h1.5M464 500.5h1.5M491 500.5h1.5M504.5 500.5h1.5M473.5 501h1.5M442 501.5h1.5M463 501.5h1.5M479.5 501.5h1.5M481 501.5h1.5M494.5 501.5h1.5M500 502h1.5M465.5 502.5h1.5M471 502.5h1.5M472 502.5h1.5M494 502.5h1.5M496 502.5h1.5M502.5 502.5h1.5M465.5 503h1.5M468.5 503.5h1.5M461 504h1.5M469 504h1.5M473.5 504h1.5M474 504h1.5M501 504h1.5M481 504.5h1.5M493.5 504.5h1.5M495.5 504.5h1.5M496 504.5h1.5M473 505h1.5M486 505h1.5M487 505h1.5M492 505h1.5M493 505h1.5M472.5 505.5h1.5M482.5 505.5h1.5M487.5 505.5h1.5M512 505.5h1.5M457.5 506h1.5M461 506h1.5M473.5 506h1.5M478.5 506h1.5M499.5 506h1.5M437 506.5h1.5M449 506.5h1.5M478.5 506.5h1.5M482 506.5h1.5M489 506.5h1.5M436 507h1.5M443 507h1.5M454 507h1.5M457 507h1.5M463.5 507h1.5M481 507h1.5M488.5 507h1.5M490 507h1.5M463 507.5h1.5M482.5 507.5h1.5M483.5 507.5h1.5M488.5 507.5h1.5M445.5 508h1.5M448.5 508h1.5M473 508h1.5M436 508.5h1.5M438 508.5h1.5M454.5 508.5h1.5M480.5 508.5h1.5M484 508.5h1.5M491 508.5h1.5M500 508.5h1.5M458.5 509h1.5M469 509h1.5M490 509h1.5M493 509h1.5M501.5 509h1.5M506 509h1.5M453.5 509.5h1.5M477.5 509.5h1.5M484.5 509.5h1.5M500.5 509.5h1.5M451 510h1.5M468 510h1.5M476.5 510h1.5M486.5 510h1.5M399 510.5h1.5M452.5 510.5h1.5M457 510.5h1.5M459.5 510.5h1.5M462.5 510.5h1.5M470 510.5h1.5M478 510.5h1.5M479.5 510.5h1.5M489 510.5h1.5M492.5 510.5h1.5M422.5 511h1.5M431.5 511h1.5M454 511h1.5M466 511h1.5M481 511h1.5M482 511h1.5M484 511h1.5M485 511h1.5M486.5 511h1.5M494.5 511h1.5M500.5 511h1.5M442.5 511.5h1.5M464 511.5h1.5M471 511.5h1.5M485 511.5h1.5M489.5 511.5h1.5M492.5 511.5h1.5M493.5 511.5h1.5M499 511.5h1.5M471.5 512h1.5M489 512h1.5M498.5 512h1.5M499 512h1.5M501.5 512h1.5M476 512.5h1.5M477 512.5h1.5M482.5 512.5h1.5M486.5 512.5h1.5M487.5 512.5h1.5M453.5 513h1.5M464 513h1.5M483.5 513h1.5M496 513h1.5M432.5 513.5h1.5M453 513.5h1.5M459 513.5h1.5M459.5 513.5h1.5M467.5 513.5h1.5M497.5 513.5h1.5M473 514h1.5M473.5 514h1.5M477.5 514h1.5M479 514h1.5M482 514h1.5M429.5 514.5h1.5M455.5 514.5h1.5M465 514.5h1.5M478.5 514.5h1.5M481 514.5h1.5M502.5 514.5h1.5M443.5 515h1.5M462.5 515h1.5M475 515h1.5M490 515h1.5M495 515h1.5M418.5 515.5h1.5M456 515.5h1.5M471.5 515.5h1.5M476 515.5h1.5M483 515.5h1.5M488 515.5h1.5M488.5 515.5h1.5M493 515.5h1.5M494 515.5h1.5M438.5 516h1.5M460.5 516h1.5M464 516h1.5M466 516h1.5M479 516h1.5M483.5 516h1.5M485 516h1.5M489 516h1.5M437.5 516.5h1.5M445 516.5h1.5M447.5 516.5h1.5M456 516.5h1.5M460.5 516.5h1.5M464.5 516.5h1.5M489.5 516.5h1.5M490 516.5h1.5M498 516.5h1.5M459.5 517h1.5M466.5 517h1.5M408 517.5h1.5M448 517.5h1.5M463.5 517.5h1.5M470.5 517.5h1.5M471.5 517.5h1.5M482.5 517.5h1.5M492 517.5h1.5M401.5 518h1.5M429 518h1.5M468.5 518h1.5M479.5 518h1.5M491 518h1.5M498 518h1.5M500.5 518h1.5M462.5 518.5h1.5M464.5 518.5h1.5M469.5 518.5h1.5M478 518.5h1.5M489.5 518.5h1.5M494 518.5h1.5M496.5 518.5h1.5M499.5 518.5h1.5M502 518.5h1.5M396 519h1.5M434.5 519h1.5M468.5 519h1.5M481.5 519h1.5M484.5 519h1.5M501.5 519h1.5M402 519.5h1.5M444.5 519.5h1.5M460.5 519.5h1.5M469 519.5h1.5M458 520h1.5M464 520h1.5M467.5 520h1.5M454.5 520.5h1.5M456 520.5h1.5M456.5 520.5h1.5M459 520.5h1.5M468 520.5h1.5M470.5 520.5h1.5M488 520.5h1.5M375 521h1.5M402.5 521h1.5M425 521h1.5M433.5 521h1.5M434.5 521h1.5M437 521h1.5M439 521h1.5M439.5 521h1.5M445.5 521h1.5M447 521h1.5M456 521h1.5M461 521h1.5M472.5 521h1.5M495 521h1.5M422 521.5h1.5M449 521.5h1.5M449.5 521.5h1.5M451.5 521.5h1.5M455 521.5h1.5M458.5 521.5h1.5M465.5 521.5h1.5M470 521.5h1.5M491.5 521.5h1.5M501.5 521.5h1.5M507 521.5h1.5M391 522h1.5M404 522h1.5M417 522h1.5M426 522h1.5M432.5 522h1.5M437.5 522h1.5M440.5 522h1.5M462.5 522h1.5M464 522h1.5M493.5 522h1.5M494 522h1.5M502.5 522h1.5M503 522h1.5M397 522.5h1.5M404 522.5h1.5M419 522.5h1.5M424.5 522.5h1.5M426 522.5h1.5M430.5 522.5h1.5M441.5 522.5h1.5M448 522.5h1.5M457.5 522.5h1.5M489 522.5h1.5M491.5 522.5h1.5M492 522.5h1.5M400.5 523h1.5M410 523h1.5M414.5 523h1.5M419.5 523h1.5M420.5 523h1.5M434.5 523h1.5M466 523h1.5M468 523h1.5M497 523h1.5M352 523.5h1.5M401 523.5h1.5M406 523.5h1.5M422.5 523.5h1.5M424 523.5h1.5M430 523.5h1.5M465.5 523.5h1.5M387 524h1.5M393 524h1.5M400.5 524h1.5M403 524h1.5M412.5 524h1.5M415.5 524h1.5M427 524h1.5M432.5 524h1.5M446 524h1.5M453 524h1.5M454 524h1.5M468 524h1.5M392.5 524.5h1.5M395 524.5h1.5M416 524.5h1.5M434 524.5h1.5M463.5 524.5h1.5M493 524.5h1.5M394.5 525h1.5M399.5 525h1.5M402.5 525h1.5M410.5 525h1.5M426.5 525h1.5M464.5 525h1.5M469 525h1.5M497 525h1.5M498 525h1.5M502.5 525h1.5M396.5 525.5h1.5M399.5 525.5h1.5M401.5 525.5h1.5M404.5 525.5h1.5M407 525.5h1.5M445 525.5h1.5M455 525.5h1.5M462 525.5h1.5M464.5 525.5h1.5M496.5 525.5h1.5M413 526h1.5M416 526h1.5M445 526h1.5M461 526h1.5M466.5 526h1.5M492 526h1.5M494 526h1.5M391.5 526.5h1.5M405.5 526.5h1.5M414.5 526.5h1.5M420.5 526.5h1.5M430.5 526.5h1.5M460 526.5h1.5M463.5 526.5h1.5M466 526.5h1.5M467 526.5h1.5M469 526.5h1.5M495 526.5h1.5M498.5 526.5h1.5M389.5 527h1.5M403.5 527h1.5M415 527h1.5M435 527h1.5M436 527h1.5M446.5 527h1.5M459 527h1.5M496 527h1.5M384 527.5h1.5M395 527.5h1.5M397.5 527.5h1.5M407 527.5h1.5M414.5 527.5h1.5M416.5 527.5h1.5M428.5 527.5h1.5M439 527.5h1.5M446 527.5h1.5M491.5 527.5h1.5M399 528h1.5M407 528h1.5M412.5 528h1.5M420.5 528h1.5M437 528h1.5M442.5 528h1.5M443 528h1.5M457.5 528h1.5M459 528h1.5M468.5 528h1.5M491.5 528h1.5M503 528h1.5M385.5 528.5h1.5M393.5 528.5h1.5M395 528.5h1.5M399.5 528.5h1.5M403.5 528.5h1.5M404 528.5h1.5M416 528.5h1.5M418.5 528.5h1.5M423.5 528.5h1.5M430 528.5h1.5M460 528.5h1.5M462.5 528.5h1.5M465.5 528.5h1.5M495.5 528.5h1.5M385.5 529h1.5M395.5 529h1.5M396.5 529h1.5M407.5 529h1.5M411 529h1.5M413.5 529h1.5M421 529h1.5M428.5 529h1.5M440 529h1.5M456 529h1.5M463.5 529h1.5M466.5 529h1.5M494 529h1.5M368.5 529.5h1.5M372.5 529.5h1.5M383.5 529.5h1.5M409.5 529.5h1.5M411 529.5h1.5M412 529.5h1.5M414.5 529.5h1.5M417.5 529.5h1.5M441.5 529.5h1.5M453 529.5h1.5M462 529.5h1.5M393 530h1.5M394 530h1.5M398.5 530h1.5M407 530h1.5M408.5 530h1.5M410 530h1.5M412 530h1.5M414 530h1.5M429 530h1.5M446.5 530h1.5M447 530h1.5M467.5 530h1.5M497.5 530h1.5M498 530h1.5M368.5 530.5h1.5M373.5 530.5h1.5M408.5 530.5h1.5M418 530.5h1.5M428 530.5h1.5M491.5 530.5h1.5M493 530.5h1.5M494 530.5h1.5M497.5 530.5h1.5M499.5 530.5h1.5M365 531h1.5M374 531h1.5M388.5 531h1.5M390 531h1.5M393.5 531h1.5M394.5 531h1.5M395.5 531h1.5M396.5 531h1.5M401 531h1.5M418.5 531h1.5M446 531h1.5M460 531h1.5M352.5 531.5h1.5M382.5 531.5h1.5M383 531.5h1.5M438.5 531.5h1.5M463 531.5h1.5M466.5 531.5h1.5M499 531.5h1.5M379 532h1.5M386.5 532h1.5M387.5 532h1.5M390.5 532h1.5M394 532h1.5M394.5 532h1.5M438 532h1.5M440.5 532h1.5M442.5 532h1.5M455 532h1.5M460.5 532h1.5M492 532h1.5M500.5 532h1.5M373.5 532.5h1.5M376 532.5h1.5M388 532.5h1.5M397 532.5h1.5M460.5 532.5h1.5M461 532.5h1.5M497 532.5h1.5M498 532.5h1.5M374.5 533h1.5M393.5 533h1.5M423 533h1.5M425 533h1.5M457 533h1.5M462 533h1.5M493.5 533h1.5M368 533.5h1.5M371 533.5h1.5M419 533.5h1.5M431.5 533.5h1.5M447 533.5h1.5M459 533.5h1.5M464 533.5h1.5M500 533.5h1.5M382 534h1.5M413.5 534h1.5M415.5 534h1.5M421 534h1.5M422 534h1.5M424.5 534h1.5M427.5 534h1.5M437 534h1.5M442.5 534h1.5M450 534h1.5M460 534h1.5M460.5 534h1.5M463.5 534h1.5M465 534h1.5M498 534h1.5M499 534h1.5M379 534.5h1.5M390.5 534.5h1.5M447.5 534.5h1.5M380 535h1.5M386 535h1.5M425 535h1.5M428 535h1.5M430 535h1.5M443 535h1.5M464 535h1.5M493 535h1.5M493.5 535h1.5M497.5 535h1.5M365 535.5h1.5M382.5 535.5h1.5M387 535.5h1.5M447 535.5h1.5M448 535.5h1.5M450.5 535.5h1.5M465 535.5h1.5M491.5 535.5h1.5M496.5 535.5h1.5M370.5 536h1.5M382.5 536h1.5M419 536h1.5M462.5 536h1.5M500.5 536h1.5M384.5 536.5h1.5M387 536.5h1.5M417 536.5h1.5M422 536.5h1.5M424.5 536.5h1.5M426 536.5h1.5M439 536.5h1.5M439.5 536.5h1.5M459 536.5h1.5M462 536.5h1.5M462.5 536.5h1.5M465 536.5h1.5M496.5 536.5h1.5M497 536.5h1.5M499.5 536.5h1.5M375 537h1.5M437 537h1.5M443.5 537h1.5M447.5 537h1.5M500 537h1.5M358 537.5h1.5M380 537.5h1.5M387 537.5h1.5M389.5 537.5h1.5M390 537.5h1.5M428.5 537.5h1.5M432 537.5h1.5M433 537.5h1.5M446 537.5h1.5M456.5 537.5h1.5M457 537.5h1.5M494.5 537.5h1.5M502 537.5h1.5M349.5 538h1.5M367 538h1.5M368 538h1.5M376.5 538h1.5M380 538h1.5M419 538h1.5M423 538h1.5M425.5 538h1.5M462.5 538h1.5M496 538h1.5M357.5 538.5h1.5M365.5 538.5h1.5M366 538.5h1.5M381.5 538.5h1.5M382.5 538.5h1.5M385 538.5h1.5M386 538.5h1.5M425.5 538.5h1.5M428.5 538.5h1.5M431.5 538.5h1.5M432.5 538.5h1.5M437.5 538.5h1.5M496 538.5h1.5M496.5 538.5h1.5M499.5 538.5h1.5M500.5 538.5h1.5M375.5 539h1.5M378 539h1.5M381.5 539h1.5M385.5 539h1.5M418.5 539h1.5M420.5 539h1.5M425 539h1.5M437 539h1.5M439 539h1.5M439.5 539h1.5M454.5 539h1.5M457 539h1.5M459 539h1.5M494.5 539h1.5M501.5 539h1.5M374.5 539.5h1.5M382 539.5h1.5M389 539.5h1.5M436.5 539.5h1.5M442.5 539.5h1.5M448.5 539.5h1.5M450.5 539.5h1.5M501 539.5h1.5M507.5 539.5h1.5M355.5 540h1.5M377.5 540h1.5M380 540h1.5M439 540h1.5M446 540h1.5M449.5 540h1.5M453.5 540h1.5M497 540h1.5M503 540h1.5M506.5 540h1.5M507 540h1.5M353 540.5h1.5M366 540.5h1.5M376.5 540.5h1.5M377 540.5h1.5M381 540.5h1.5M430.5 540.5h1.5M436 540.5h1.5M437 540.5h1.5M441.5 540.5h1.5M450.5 540.5h1.5M454 540.5h1.5M362.5 541h1.5M374 541h1.5M375.5 541h1.5M376 541h1.5M423 541h1.5M427.5 541h1.5M429.5 541h1.5M432.5 541h1.5M450 541h1.5M456.5 541h1.5M494 541h1.5M495.5 541h1.5M510.5 541h1.5M385 541.5h1.5M425 541.5h1.5M426.5 541.5h1.5M441.5 541.5h1.5M451 541.5h1.5M464 541.5h1.5M360.5 542h1.5M370 542h1.5M374 542h1.5M375 542h1.5M428 542h1.5M433.5 542h1.5M436.5 542h1.5M453 542h1.5M459 542h1.5M461 542h1.5M462 542h1.5M498 542h1.5M369 542.5h1.5M370.5 542.5h1.5M384 542.5h1.5M424.5 542.5h1.5M438 542.5h1.5M444 542.5h1.5M451.5 542.5h1.5M456 542.5h1.5M459 542.5h1.5M465.5 542.5h1.5M496 542.5h1.5M497 542.5h1.5M502 542.5h1.5M347 543h1.5M362.5 543h1.5M382 543h1.5M382.5 543h1.5M424 543h1.5M435 543h1.5M439 543h1.5M442.5 543h1.5M443.5 543h1.5M450.5 543h1.5M455.5 543h1.5M504.5 543h1.5M365.5 543.5h1.5M375 543.5h1.5M379 543.5h1.5M384.5 543.5h1.5M423 543.5h1.5M428.5 543.5h1.5M429.5 543.5h1.5M438.5 543.5h1.5M446 543.5h1.5M447 543.5h1.5M494 543.5h1.5M354.5 544h1.5M367.5 544h1.5M378.5 544h1.5M379 544h1.5M429 544h1.5M430 544h1.5M435.5 544h1.5M460.5 544h1.5M376 544.5h1.5M377 544.5h1.5M426 544.5h1.5M427.5 544.5h1.5M432.5 544.5h1.5M439.5 544.5h1.5M442 544.5h1.5M452 544.5h1.5M498.5 544.5h1.5M500 544.5h1.5M501 544.5h1.5M505 544.5h1.5M373.5 545h1.5M424.5 545h1.5M433.5 545h1.5M453 545h1.5M456 545h1.5M368.5 545.5h1.5M371 545.5h1.5M376 545.5h1.5M379 545.5h1.5M380 545.5h1.5M382 545.5h1.5M383 545.5h1.5M434 545.5h1.5M442 545.5h1.5M457.5 545.5h1.5M367 546h1.5M368 546h1.5M369 546h1.5M373 546h1.5M377 546h1.5M378.5 546h1.5M382 546h1.5M385.5 546h1.5M432 546h1.5M439 546h1.5M447.5 546h1.5M452 546h1.5M456 546h1.5M459.5 546h1.5M466.5 546h1.5M497.5 546h1.5M349 546.5h1.5M377 546.5h1.5M426.5 546.5h1.5M432.5 546.5h1.5M448.5 546.5h1.5M460 546.5h1.5M464 546.5h1.5M466.5 546.5h1.5M495 546.5h1.5M349 547h1.5M362 547h1.5M366 547h1.5M382.5 547h1.5M423 547h1.5M426 547h1.5M430.5 547h1.5M464.5 547h1.5M497 547h1.5M500 547h1.5M360 547.5h1.5M380 547.5h1.5M440.5 547.5h1.5M450.5 547.5h1.5M455.5 547.5h1.5M458 547.5h1.5M494 547.5h1.5M378 548h1.5M382.5 548h1.5M383.5 548h1.5M425 548h1.5M436 548h1.5M437.5 548h1.5M438 548h1.5M443 548h1.5M451.5 548h1.5M454.5 548h1.5M458.5 548h1.5M494.5 548h1.5M497.5 548h1.5M348 548.5h1.5M362 548.5h1.5M367.5 548.5h1.5M423 548.5h1.5M435.5 548.5h1.5M440 548.5h1.5M445.5 548.5h1.5M501 548.5h1.5M353.5 549h1.5M378.5 549h1.5M427 549h1.5M427.5 549h1.5M450 549h1.5M460.5 549h1.5M493.5 549h1.5M357.5 549.5h1.5M359.5 549.5h1.5M374.5 549.5h1.5M426.5 549.5h1.5M434.5 549.5h1.5M447 549.5h1.5M454 549.5h1.5M456 549.5h1.5M465 549.5h1.5M498 549.5h1.5M351 550h1.5M377 550h1.5M383.5 550h1.5M385 550h1.5M424 550h1.5M439.5 550h1.5M443.5 550h1.5M444 550h1.5M449.5 550h1.5M500.5 550h1.5M380 550.5h1.5M380.5 550.5h1.5M383.5 550.5h1.5M425 550.5h1.5M428.5 550.5h1.5M438.5 550.5h1.5M463 550.5h1.5M463.5 550.5h1.5M467.5 550.5h1.5M493 550.5h1.5M498 550.5h1.5M372.5 551h1.5M373.5 551h1.5M377.5 551h1.5M423 551h1.5M430.5 551h1.5M433.5 551h1.5M450 551h1.5M465 551h1.5M491 551h1.5M361 551.5h1.5M363 551.5h1.5M365.5 551.5h1.5M368.5 551.5h1.5M383 551.5h1.5M421 551.5h1.5M425.5 551.5h1.5M426.5 551.5h1.5M428 551.5h1.5M433 551.5h1.5M439 551.5h1.5M452 551.5h1.5M454.5 551.5h1.5M456 551.5h1.5M465.5 551.5h1.5M498.5 551.5h1.5M357.5 552h1.5M368.5 552h1.5M374 552h1.5M376 552h1.5M429 552h1.5M432 552h1.5M434 552h1.5M443.5 552h1.5M445 552h1.5M447 552h1.5M449.5 552h1.5M458.5 552h1.5M460 552h1.5M466 552h1.5M495.5 552h1.5M359.5 552.5h1.5M372 552.5h1.5M376.5 552.5h1.5M387 552.5h1.5M423.5 552.5h1.5M426.5 552.5h1.5M449.5 552.5h1.5M491.5 552.5h1.5M496 552.5h1.5M350.5 553h1.5M384.5 553h1.5M427 553h1.5M428.5 553h1.5M437.5 553h1.5M443 553h1.5M494.5 553h1.5M361 553.5h1.5M363.5 553.5h1.5M369 553.5h1.5M377.5 553.5h1.5M378 553.5h1.5M382.5 553.5h1.5M446 553.5h1.5M459.5 553.5h1.5M378 554h1.5M447 554h1.5M462.5 554h1.5M464 554h1.5M465.5 554h1.5M468.5 554h1.5M488 554h1.5M495 554h1.5M496 554h1.5M378.5 554.5h1.5M384 554.5h1.5M384.5 554.5h1.5M386.5 554.5h1.5M389.5 554.5h1.5M419.5 554.5h1.5M422.5 554.5h1.5M424.5 554.5h1.5M438 554.5h1.5M448.5 554.5h1.5M461 554.5h1.5M493.5 554.5h1.5M496.5 554.5h1.5M348.5 555h1.5M378.5 555h1.5M384 555h1.5M386.5 555h1.5M425 555h1.5M432 555h1.5M444.5 555h1.5M445.5 555h1.5M463 555h1.5M469 555h1.5M486.5 555h1.5M490 555h1.5M500.5 555h1.5M374 555.5h1.5M384.5 555.5h1.5M386 555.5h1.5M389 555.5h1.5M390.5 555.5h1.5M391 555.5h1.5M420.5 555.5h1.5M421.5 555.5h1.5M425.5 555.5h1.5M438.5 555.5h1.5M472 555.5h1.5M474.5 555.5h1.5M475.5 555.5h1.5M477.5 555.5h1.5M480 555.5h1.5M487 555.5h1.5M491 555.5h1.5M382.5 556h1.5M417.5 556h1.5M418.5 556h1.5M422 556h1.5M456 556h1.5M474 556h1.5M476 556h1.5M489.5 556h1.5M490.5 556h1.5M498.5 556h1.5" stroke="#484848" stroke-width="1.5" fill="none"/>
<path d="M443 463h1.5M486.5 466h1.5M460 472h1.5M466 474h1.5M447.5 476.5h1.5M441 477.5h1.5M494 483h1.5M463 489.5h1.5M434 492.5h1.5M481.5 493.5h1.5M480 495h1.5M496.5 495h1.5M493.5 496h1.5M473 497h1.5M479 497h1.5M489.5 497h1.5M492 497h1.5M469 497.5h1.5M472.5 498.5h1.5M478.5 498.5h1.5M485 498.5h1.5M511 498.5h1.5M458.5 499.5h1.5M458 500h1.5M478.5 500h1.5M458.5 500.5h1.5M478.5 500.5h1.5M478.5 502h1.5M482.5 502h1.5M483 502h1.5M493.5 502h1.5M460 502.5h1.5M489.5 502.5h1.5M494 502.5h1.5M494.5 502.5h1.5M499 502.5h1.5M475 503h1.5M481.5 503h1.5M492 503h1.5M497 503h1.5M460 503.5h1.5M478 503.5h1.5M491.5 503.5h1.5M492 503.5h1.5M477 504h1.5M446.5 504.5h1.5M471.5 504.5h1.5M474 504.5h1.5M425 505h1.5M475 505h1.5M479 505h1.5M489.5 505h1.5M503 505h1.5M460.5 505.5h1.5M465 505.5h1.5M471.5 505.5h1.5M474.5 505.5h1.5M452 506h1.5M461.5 506h1.5M469 506h1.5M484 506h1.5M498.5 506h1.5M449 506.5h1.5M451.5 506.5h1.5M458 506.5h1.5M462.5 506.5h1.5M468 506.5h1.5M474.5 506.5h1.5M483.5 506.5h1.5M441 507h1.5M470 507h1.5M485 507h1.5M460 507.5h1.5M494 507.5h1.5M452.5 508h1.5M454 508h1.5M455 508h1.5M459.5 508h1.5M464 508h1.5M470 508h1.5M493.5 508h1.5M498.5 508h1.5M459 508.5h1.5M469.5 508.5h1.5M483 508.5h1.5M484.5 508.5h1.5M491 508.5h1.5M494 508.5h1.5M443.5 509h1.5M445 509h1.5M447.5 509h1.5M452 509h1.5M458 509h1.5M466 509h1.5M474 509h1.5M480.5 509h1.5M490.5 509h1.5M491.5 509h1.5M492.5 509h1.5M493.5 509h1.5M506.5 509h1.5M442 509.5h1.5M453 509.5h1.5M457.5 509.5h1.5M460.5 509.5h1.5M472 509.5h1.5M479 509.5h1.5M479.5 509.5h1.5M487 509.5h1.5M487.5 509.5h1.5M497 509.5h1.5M497.5 509.5h1.5M457.5 510h1.5M463.5 510h1.5M468 510h1.5M471.5 510h1.5M483 510h1.5M487.5 510h1.5M488 510h1.5M422.5 510.5h1.5M452.5 510.5h1.5M453 510.5h1.5M481 510.5h1.5M485 510.5h1.5M488 510.5h1.5M489.5 510.5h1.5M494.5 510.5h1.5M495 510.5h1.5M472 511h1.5M474.5 511h1.5M480 511h1.5M480.5 511h1.5M482.5 511h1.5M486 511h1.5M490 511h1.5M495 511h1.5M434 511.5h1.5M442 511.5h1.5M468.5 511.5h1.5M470.5 511.5h1.5M475 511.5h1.5M476.5 511.5h1.5M482 511.5h1.5M493 511.5h1.5M494.5 511.5h1.5M497 511.5h1.5M497.5 511.5h1.5M509 511.5h1.5M461.5 512h1.5M485 512h1.5M489 512h1.5M490 512h1.5M496.5 512h1.5M499 512h1.5M426.5 512.5h1.5M434.5 512.5h1.5M451.5 512.5h1.5M456 512.5h1.5M458.5 512.5h1.5M459 512.5h1.5M464 512.5h1.5M476 512.5h1.5M478 512.5h1.5M481 512.5h1.5M483 512.5h1.5M484.5 512.5h1.5M485.5 512.5h1.5M491.5 512.5h1.5M498.5 512.5h1.5M442.5 513h1.5M447.5 513h1.5M452.5 513h1.5M458 513h1.5M461.5 513h1.5M466 513h1.5M471.5 513h1.5M474 513h1.5M477.5 513h1.5M482 513h1.5M485.5 513h1.5M487 513h1.5M488 513h1.5M423.5 513.5h1.5M463 513.5h1.5M469 513.5h1.5M472.5 513.5h1.5M475 513.5h1.5M479 513.5h1.5M483.5 513.5h1.5M489 513.5h1.5M494.5 513.5h1.5M496 513.5h1.5M449.5 514h1.5M451 514h1.5M456.5 514h1.5M469 514h1.5M474.5 514h1.5M477 514h1.5M479 514h1.5M482.5 514h1.5M484.5 514h1.5M490 514h1.5M490.5 514h1.5M492 514h1.5M496 514h1.5M499 514h1.5M422.5 514.5h1.5M452.5 514.5h1.5M458.5 514.5h1.5M460.5 514.5h1.5M465 514.5h1.5M467 514.5h1.5M475.5 514.5h1.5M478.5 514.5h1.5M481 514.5h1.5M484 514.5h1.5M485.5 514.5h1.5M486.5 514.5h1.5M487.5 514.5h1.5M494 514.5h1.5M438 515h1.5M454 515h1.5M457 515h1.5M467.5 515h1.5M471 515h1.5M473.5 515h1.5M478 515h1.5M481 515h1.5M482.5 515h1.5M490.5 515h1.5M498 515h1.5M432.5 515.5h1.5M437 515.5h1.5M454 515.5h1.5M463.5 515.5h1.5M464.5 515.5h1.5M470.5 515.5h1.5M475 515.5h1.5M483.5 515.5h1.5M488.5 515.5h1.5M490 515.5h1.5M492 515.5h1.5M492.5 515.5h1.5M499 515.5h1.5M426.5 516h1.5M446.5 516h1.5M449.5 516h1.5M456 516h1.5M463 516h1.5M466 516h1.5M468 516h1.5M468.5 516h1.5M470.5 516h1.5M472.5 516h1.5M476.5 516h1.5M479.5 516h1.5M482 516h1.5M485 516h1.5M485.5 516h1.5M487 516h1.5M488 516h1.5M498 516h1.5M423 516.5h1.5M424 516.5h1.5M446 516.5h1.5M452 516.5h1.5M460 516.5h1.5M461.5 516.5h1.5M466.5 516.5h1.5M469 516.5h1.5M474 516.5h1.5M478 516.5h1.5M480 516.5h1.5M484 516.5h1.5M491 516.5h1.5M494 516.5h1.5M501 516.5h1.5M391 517h1.5M440.5 517h1.5M447.5 517h1.5M464 517h1.5M467.5 517h1.5M470 517h1.5M472 517h1.5M473.5 517h1.5M481 517h1.5M485.5 517h1.5M487 517h1.5M489 517h1.5M490 517h1.5M492 517h1.5M492.5 517h1.5M497.5 517h1.5M437 517.5h1.5M440.5 517.5h1.5M448 517.5h1.5M449 517.5h1.5M450 517.5h1.5M471 517.5h1.5M474.5 517.5h1.5M476.5 517.5h1.5M479.5 517.5h1.5M481 517.5h1.5M482.5 517.5h1.5M483 517.5h1.5M487.5 517.5h1.5M393.5 518h1.5M425.5 518h1.5M426.5 518h1.5M430.5 518h1.5M434.5 518h1.5M441.5 518h1.5M442.5 518h1.5M456.5 518h1.5M468.5 518h1.5M469.5 518h1.5M474 518h1.5M477 518h1.5M478 518h1.5M485 518h1.5M487.5 518h1.5M489 518h1.5M504 518h1.5M508 518h1.5M432.5 518.5h1.5M456 518.5h1.5M472.5 518.5h1.5M475 518.5h1.5M479 518.5h1.5M482 518.5h1.5M486.5 518.5h1.5M491 518.5h1.5M494 518.5h1.5M496.5 518.5h1.5M402 519h1.5M433.5 519h1.5M441 519h1.5M445 519h1.5M456 519h1.5M465 519h1.5M470.5 519h1.5M471 519h1.5M473 519h1.5M475.5 519h1.5M480.5 519h1.5M483 519h1.5M484.5 519h1.5M485 519h1.5M492 519h1.5M494 519h1.5M495.5 519h1.5M401 519.5h1.5M441.5 519.5h1.5M447 519.5h1.5M449.5 519.5h1.5M457 519.5h1.5M465 519.5h1.5M469 519.5h1.5M472 519.5h1.5M474.5 519.5h1.5M477 519.5h1.5M477.5 519.5h1.5M482 519.5h1.5M482.5 519.5h1.5M488 519.5h1.5M489 519.5h1.5M490 519.5h1.5M501.5 519.5h1.5M407 520h1.5M416 520h1.5M417 520h1.5M424 520h1.5M448 520h1.5M453 520h1.5M470 520h1.5M474 520h1.5M475.5 520h1.5M478 520h1.5M479.5 520h1.5M480.5 520h1.5M485 520h1.5M486.5 520h1.5M489 520h1.5M491 520h1.5M498 520h1.5M501 520h1.5M431 520.5h1.5M436.5 520.5h1.5M438.5 520.5h1.5M459 520.5h1.5M459.5 520.5h1.5M462.5 520.5h1.5M463.5 520.5h1.5M467.5 520.5h1.5M471.5 520.5h1.5M473.5 520.5h1.5M477.5 520.5h1.5M481.5 520.5h1.5M484 520.5h1.5M487.5 520.5h1.5M490 520.5h1.5M492.5 520.5h1.5M494 520.5h1.5M404.5 521h1.5M418 521h1.5M424.5 521h1.5M438 521h1.5M448 521h1.5M452 521h1.5M458 521h1.5M459 521h1.5M461.5 521h1.5M462 521h1.5M472 521h1.5M476 521h1.5M483 521h1.5M486 521h1.5M495.5 521h1.5M399.5 521.5h1.5M439.5 521.5h1.5M446.5 521.5h1.5M449 521.5h1.5M466.5 521.5h1.5M467 521.5h1.5M468.5 521.5h1.5M470.5 521.5h1.5M473.5 521.5h1.5M475 521.5h1.5M478 521.5h1.5M479.5 521.5h1.5M480.5 521.5h1.5M481.5 521.5h1.5M484.5 521.5h1.5M487.5 521.5h1.5M488 521.5h1.5M490.5 521.5h1.5M491.5 521.5h1.5M499 521.5h1.5M501 521.5h1.5M390 522h1.5M410.5 522h1.5M421.5 522h1.5M435 522h1.5M453 522h1.5M454 522h1.5M455 522h1.5M461 522h1.5M471.5 522h1.5M477.5 522h1.5M489.5 522h1.5M491.5 522h1.5M492.5 522h1.5M494 522h1.5M496 522h1.5M407 522.5h1.5M409.5 522.5h1.5M427 522.5h1.5M438.5 522.5h1.5M446 522.5h1.5M447 522.5h1.5M450 522.5h1.5M455 522.5h1.5M460.5 522.5h1.5M466 522.5h1.5M470.5 522.5h1.5M473 522.5h1.5M474.5 522.5h1.5M475.5 522.5h1.5M476.5 522.5h1.5M478 522.5h1.5M481.5 522.5h1.5M483 522.5h1.5M486 522.5h1.5M487 522.5h1.5M488.5 522.5h1.5M495 522.5h1.5M497 522.5h1.5M392.5 523h1.5M426.5 523h1.5M435.5 523h1.5M436.5 523h1.5M443.5 523h1.5M444.5 523h1.5M447 523h1.5M448.5 523h1.5M457 523h1.5M460.5 523h1.5M462 523h1.5M464.5 523h1.5M479.5 523h1.5M480.5 523h1.5M484.5 523h1.5M490 523h1.5M492 523h1.5M496 523h1.5M405 523.5h1.5M405.5 523.5h1.5M410.5 523.5h1.5M429 523.5h1.5M448.5 523.5h1.5M449.5 523.5h1.5M464 523.5h1.5M465.5 523.5h1.5M468 523.5h1.5M470.5 523.5h1.5M471.5 523.5h1.5M476 523.5h1.5M477 523.5h1.5M483 523.5h1.5M486 523.5h1.5M488 523.5h1.5M489.5 523.5h1.5M491 523.5h1.5M493.5 523.5h1.5M508.5 523.5h1.5M391.5 524h1.5M395 524h1.5M400.5 524h1.5M402 524h1.5M405 524h1.5M407.5 524h1.5M441 524h1.5M443 524h1.5M453 524h1.5M453.5 524h1.5M457 524h1.5M461 524h1.5M468 524h1.5M473 524h1.5M474.5 524h1.5M478.5 524h1.5M480 524h1.5M481.5 524h1.5M485 524h1.5M487.5 524h1.5M493 524h1.5M498 524h1.5M505.5 524h1.5M372 524.5h1.5M389 524.5h1.5M435 524.5h1.5M443.5 524.5h1.5M446.5 524.5h1.5M459.5 524.5h1.5M461.5 524.5h1.5M463 524.5h1.5M467 524.5h1.5M469.5 524.5h1.5M472.5 524.5h1.5M473 524.5h1.5M474.5 524.5h1.5M476 524.5h1.5M483.5 524.5h1.5M486 524.5h1.5M491.5 524.5h1.5M493.5 524.5h1.5M403.5 525h1.5M412.5 525h1.5M426.5 525h1.5M451.5 525h1.5M454 525h1.5M455.5 525h1.5M458 525h1.5M462 525h1.5M466 525h1.5M471 525h1.5M477 525h1.5M481.5 525h1.5M483 525h1.5M485.5 525h1.5M488.5 525h1.5M490 525h1.5M492.5 525h1.5M495 525h1.5M499 525h1.5M385 525.5h1.5M393.5 525.5h1.5M406 525.5h1.5M411.5 525.5h1.5M414.5 525.5h1.5M416 525.5h1.5M443.5 525.5h1.5M451 525.5h1.5M453 525.5h1.5M457 525.5h1.5M460 525.5h1.5M462.5 525.5h1.5M466 525.5h1.5M467 525.5h1.5M471.5 525.5h1.5M475 525.5h1.5M478.5 525.5h1.5M479 525.5h1.5M480.5 525.5h1.5M484.5 525.5h1.5M487 525.5h1.5M490.5 525.5h1.5M491 525.5h1.5M495.5 525.5h1.5M497 525.5h1.5M392.5 526h1.5M396 526h1.5M396.5 526h1.5M411.5 526h1.5M414.5 526h1.5M457.5 526h1.5M465 526h1.5M468 526h1.5M469 526h1.5M470 526h1.5M473 526h1.5M476 526h1.5M478 526h1.5M480.5 526h1.5M488 526h1.5M493 526h1.5M494 526h1.5M378 526.5h1.5M389.5 526.5h1.5M396.5 526.5h1.5M401 526.5h1.5M409 526.5h1.5M410 526.5h1.5M420.5 526.5h1.5M423.5 526.5h1.5M425 526.5h1.5M426 526.5h1.5M440.5 526.5h1.5M450.5 526.5h1.5M454.5 526.5h1.5M455 526.5h1.5M457 526.5h1.5M460 526.5h1.5M464 526.5h1.5M472 526.5h1.5M473 526.5h1.5M474.5 526.5h1.5M476.5 526.5h1.5M479.5 526.5h1.5M481.5 526.5h1.5M482.5 526.5h1.5M484 526.5h1.5M485.5 526.5h1.5M489 526.5h1.5M498.5 526.5h1.5M374.5 527h1.5M383 527h1.5M391.5 527h1.5M393.5 527h1.5M394 527h1.5M399.5 527h1.5M400 527h1.5M404.5 527h1.5M407.5 527h1.5M411 527h1.5M424.5 527h1.5M430.5 527h1.5M446.5 527h1.5M448.5 527h1.5M449.5 527h1.5M454 527h1.5M463 527h1.5M464 527h1.5M465.5 527h1.5M469.5 527h1.5M471 527h1.5M476 527h1.5M478.5 527h1.5M486.5 527h1.5M488.5 527h1.5M490 527h1.5M491.5 527h1.5M495 527h1.5M496.5 527h1.5M501 527h1.5M386.5 527.5h1.5M395 527.5h1.5M398 527.5h1.5M401.5 527.5h1.5M405 527.5h1.5M407 527.5h1.5M410 527.5h1.5M417 527.5h1.5M433 527.5h1.5M444 527.5h1.5M454.5 527.5h1.5M459 527.5h1.5M459.5 527.5h1.5M461 527.5h1.5M463 527.5h1.5M466.5 527.5h1.5M468 527.5h1.5M474.5 527.5h1.5M477.5 527.5h1.5M480 527.5h1.5M487 527.5h1.5M491 527.5h1.5M492.5 527.5h1.5M381.5 528h1.5M386.5 528h1.5M393 528h1.5M396.5 528h1.5M401.5 528h1.5M402 528h1.5M406.5 528h1.5M408.5 528h1.5M415 528h1.5M416.5 528h1.5M417.5 528h1.5M423 528h1.5M429.5 528h1.5M443 528h1.5M443.5 528h1.5M448.5 528h1.5M457 528h1.5M469 528h1.5M471.5 528h1.5M473 528h1.5M476.5 528h1.5M481.5 528h1.5M483 528h1.5M484.5 528h1.5M485.5 528h1.5M488.5 528h1.5M495.5 528h1.5M389.5 528.5h1.5M394.5 528.5h1.5M398 528.5h1.5M398.5 528.5h1.5M400 528.5h1.5M403 528.5h1.5M407.5 528.5h1.5M409 528.5h1.5M411.5 528.5h1.5M429 528.5h1.5M430.5 528.5h1.5M445 528.5h1.5M451.5 528.5h1.5M458.5 528.5h1.5M464.5 528.5h1.5M465.5 528.5h1.5M467.5 528.5h1.5M470 528.5h1.5M475 528.5h1.5M479 528.5h1.5M485.5 528.5h1.5M489.5 528.5h1.5M497 528.5h1.5M498.5 528.5h1.5M378.5 529h1.5M385 529h1.5M389 529h1.5M393 529h1.5M394.5 529h1.5M395 529h1.5M404.5 529h1.5M406 529h1.5M410.5 529h1.5M412 529h1.5M432 529h1.5M447.5 529h1.5M448 529h1.5M458 529h1.5M459 529h1.5M462.5 529h1.5M463.5 529h1.5M467 529h1.5M472 529h1.5M473.5 529h1.5M476 529h1.5M477.5 529h1.5M479 529h1.5M480.5 529h1.5M487 529h1.5M488.5 529h1.5M490 529h1.5M491.5 529h1.5M493 529h1.5M493.5 529h1.5M496.5 529h1.5M504.5 529h1.5M506 529h1.5M368.5 529.5h1.5M385.5 529.5h1.5M389 529.5h1.5M389.5 529.5h1.5M391.5 529.5h1.5M399 529.5h1.5M399.5 529.5h1.5M401.5 529.5h1.5M403 529.5h1.5M413.5 529.5h1.5M415 529.5h1.5M416 529.5h1.5M423.5 529.5h1.5M429.5 529.5h1.5M440 529.5h1.5M444.5 529.5h1.5M458.5 529.5h1.5M462.5 529.5h1.5M468.5 529.5h1.5M471 529.5h1.5M482 529.5h1.5M483.5 529.5h1.5M484.5 529.5h1.5M489 529.5h1.5M495 529.5h1.5M497.5 529.5h1.5M500.5 529.5h1.5M502 529.5h1.5M397 530h1.5M404.5 530h1.5M405.5 530h1.5M411.5 530h1.5M413.5 530h1.5M417 530h1.5M419.5 530h1.5M425.5 530h1.5M443.5 530h1.5M456 530h1.5M457 530h1.5M465.5 530h1.5M467 530h1.5M470 530h1.5M471 530h1.5M474 530h1.5M475.5 530h1.5M478 530h1.5M484.5 530h1.5M486 530h1.5M487.5 530h1.5M491 530h1.5M493.5 530h1.5M506 530h1.5M385 530.5h1.5M386.5 530.5h1.5M391.5 530.5h1.5M393.5 530.5h1.5M402.5 530.5h1.5M406.5 530.5h1.5M410 530.5h1.5M410.5 530.5h1.5M414 530.5h1.5M415 530.5h1.5M416.5 530.5h1.5M427 530.5h1.5M430 530.5h1.5M450 530.5h1.5M466 530.5h1.5M468 530.5h1.5M469 530.5h1.5M470.5 530.5h1.5M472.5 530.5h1.5M476.5 530.5h1.5M479.5 530.5h1.5M480 530.5h1.5M481.5 530.5h1.5M483.5 530.5h1.5M486 530.5h1.5M490 530.5h1.5M492.5 530.5h1.5M495.5 530.5h1.5M497 530.5h1.5M500 530.5h1.5M384.5 531h1.5M387 531h1.5M388.5 531h1.5M390 531h1.5M392 531h1.5M394.5 531h1.5M399 531h1.5M400 531h1.5M401 531h1.5M403 531h1.5M406 531h1.5M408.5 531h1.5M416 531h1.5M422 531h1.5M424.5 531h1.5M440.5 531h1.5M449.5 531h1.5M451 531h1.5M452.5 531h1.5M473.5 531h1.5M482 531h1.5M488.5 531h1.5M494 531h1.5M496.5 531h1.5M374 531.5h1.5M380.5 531.5h1.5M386 531.5h1.5M391.5 531.5h1.5M394 531.5h1.5M395 531.5h1.5M398.5 531.5h1.5M404.5 531.5h1.5M408 531.5h1.5M409.5 531.5h1.5M412 531.5h1.5M414.5 531.5h1.5M418.5 531.5h1.5M422 531.5h1.5M425.5 531.5h1.5M429.5 531.5h1.5M431 531.5h1.5M434 531.5h1.5M450 531.5h1.5M455.5 531.5h1.5M457 531.5h1.5M459.5 531.5h1.5M462 531.5h1.5M462.5 531.5h1.5M466.5 531.5h1.5M471 531.5h1.5M475 531.5h1.5M477 531.5h1.5M478.5 531.5h1.5M479.5 531.5h1.5M484.5 531.5h1.5M485 531.5h1.5M487.5 531.5h1.5M490 531.5h1.5M491.5 531.5h1.5M493 531.5h1.5M495.5 531.5h1.5M497.5 531.5h1.5M389.5 532h1.5M395.5 532h1.5M397.5 532h1.5M402 532h1.5M404.5 532h1.5M406.5 532h1.5M407.5 532h1.5M417.5 532h1.5M419 532h1.5M420.5 532h1.5M453.5 532h1.5M456.5 532h1.5M458.5 532h1.5M467.5 532h1.5M469 532h1.5M470.5 532h1.5M472.5 532h1.5M475.5 532h1.5M480.5 532h1.5M482 532h1.5M483 532h1.5M486.5 532h1.5M507.5 532h1.5M381.5 532.5h1.5M384 532.5h1.5M387.5 532.5h1.5M389 532.5h1.5M391 532.5h1.5M393 532.5h1.5M400 532.5h1.5M401.5 532.5h1.5M403.5 532.5h1.5M405.5 532.5h1.5M411 532.5h1.5M413.5 532.5h1.5M415 532.5h1.5M425 532.5h1.5M460.5 532.5h1.5M474 532.5h1.5M481 532.5h1.5M484.5 532.5h1.5M486 532.5h1.5M487.5 532.5h1.5M488.5 532.5h1.5M491 532.5h1.5M492.5 532.5h1.5M495.5 532.5h1.5M497 532.5h1.5M500 532.5h1.5M501.5 532.5h1.5M348 533h1.5M386.5 533h1.5M394 533h1.5M398 533h1.5M399.5 533h1.5M401.5 533h1.5M408.5 533h1.5M410 533h1.5M412 533h1.5M416.5 533h1.5M419 533h1.5M424.5 533h1.5M434.5 533h1.5M439 533h1.5M451 533h1.5M459.5 533h1.5M460 533h1.5M465 533h1.5M466.5 533h1.5M470.5 533h1.5M472 533h1.5M476 533h1.5M477 533h1.5M478.5 533h1.5M479.5 533h1.5M482 533h1.5M489.5 533h1.5M494 533h1.5M496.5 533h1.5M363 533.5h1.5M378.5 533.5h1.5M381.5 533.5h1.5M385 533.5h1.5M387.5 533.5h1.5M388.5 533.5h1.5M389.5 533.5h1.5M390.5 533.5h1.5M391.5 533.5h1.5M395 533.5h1.5M396.5 533.5h1.5M403 533.5h1.5M405 533.5h1.5M407 533.5h1.5M410.5 533.5h1.5M413.5 533.5h1.5M417.5 533.5h1.5M418.5 533.5h1.5M421.5 533.5h1.5M422.5 533.5h1.5M429.5 533.5h1.5M450 533.5h1.5M462.5 533.5h1.5M464.5 533.5h1.5M465 533.5h1.5M466.5 533.5h1.5M468 533.5h1.5M469 533.5h1.5M471 533.5h1.5M472.5 533.5h1.5M475 533.5h1.5M480 533.5h1.5M483 533.5h1.5M485 533.5h1.5M487.5 533.5h1.5M488.5 533.5h1.5M499.5 533.5h1.5M380 534h1.5M384 534h1.5M385.5 534h1.5M393 534h1.5M396 534h1.5M398.5 534h1.5M400.5 534h1.5M404 534h1.5M406.5 534h1.5M408 534h1.5M412 534h1.5M414.5 534h1.5M416 534h1.5M419.5 534h1.5M420.5 534h1.5M422.5 534h1.5M430 534h1.5M441.5 534h1.5M445.5 534h1.5M450 534h1.5M453 534h1.5M458 534h1.5M459.5 534h1.5M472.5 534h1.5M473.5 534h1.5M477 534h1.5M477.5 534h1.5M479 534h1.5M481.5 534h1.5M483.5 534h1.5M486.5 534h1.5M490 534h1.5M491.5 534h1.5M493 534h1.5M494 534h1.5M500 534h1.5M356.5 534.5h1.5M375.5 534.5h1.5M378 534.5h1.5M384 534.5h1.5M387 534.5h1.5M389.5 534.5h1.5M394 534.5h1.5M395 534.5h1.5M398 534.5h1.5M400 534.5h1.5M402 534.5h1.5M405.5 534.5h1.5M406.5 534.5h1.5M409.5 534.5h1.5M416.5 534.5h1.5M417.5 534.5h1.5M424 534.5h1.5M429.5 534.5h1.5M435.5 534.5h1.5M441 534.5h1.5M442.5 534.5h1.5M443 534.5h1.5M456.5 534.5h1.5M459 534.5h1.5M462 534.5h1.5M462.5 534.5h1.5M469.5 534.5h1.5M474 534.5h1.5M475.5 534.5h1.5M480 534.5h1.5M484 534.5h1.5M496.5 534.5h1.5M500 534.5h1.5M363.5 535h1.5M366 535h1.5M376 535h1.5M379.5 535h1.5M389 535h1.5M391 535h1.5M392.5 535h1.5M393.5 535h1.5M397 535h1.5M402.5 535h1.5M404 535h1.5M409 535h1.5M411 535h1.5M412.5 535h1.5M414 535h1.5M415 535h1.5M417 535h1.5M419 535h1.5M424.5 535h1.5M426.5 535h1.5M460 535h1.5M464.5 535h1.5M465.5 535h1.5M466.5 535h1.5M468 535h1.5M471 535h1.5M478.5 535h1.5M482.5 535h1.5M485.5 535h1.5M487 535h1.5M488 535h1.5M489.5 535h1.5M491 535h1.5M494.5 535h1.5M496 535h1.5M498.5 535h1.5M361 535.5h1.5M367.5 535.5h1.5M378 535.5h1.5M385.5 535.5h1.5M388 535.5h1.5M394.5 535.5h1.5M396 535.5h1.5M399 535.5h1.5M400.5 535.5h1.5M401.5 535.5h1.5M407.5 535.5h1.5M423.5 535.5h1.5M425.5 535.5h1.5M428 535.5h1.5M432.5 535.5h1.5M433 535.5h1.5M453 535.5h1.5M457.5 535.5h1.5M463 535.5h1.5M463.5 535.5h1.5M466.5 535.5h1.5M472.5 535.5h1.5M475.5 535.5h1.5M477 535.5h1.5M481 535.5h1.5M485 535.5h1.5M491.5 535.5h1.5M493 535.5h1.5M497.5 535.5h1.5M499.5 535.5h1.5M383 536h1.5M385.5 536h1.5M386.5 536h1.5M390.5 536h1.5M392 536h1.5M397.5 536h1.5M402.5 536h1.5M404 536h1.5M405 536h1.5M406.5 536h1.5M409.5 536h1.5M412.5 536h1.5M417.5 536h1.5M419.5 536h1.5M420.5 536h1.5M426.5 536h1.5M437 536h1.5M451 536h1.5M453 536h1.5M458 536h1.5M465.5 536h1.5M469 536h1.5M470.5 536h1.5M471 536h1.5M474 536h1.5M480 536h1.5M482 536h1.5M483.5 536h1.5M488.5 536h1.5M490 536h1.5M491.5 536h1.5M496 536h1.5M500 536h1.5M366 536.5h1.5M389.5 536.5h1.5M393 536.5h1.5M395.5 536.5h1.5M397 536.5h1.5M401 536.5h1.5M408 536.5h1.5M410.5 536.5h1.5M411.5 536.5h1.5M414.5 536.5h1.5M416 536.5h1.5M418.5 536.5h1.5M423 536.5h1.5M431.5 536.5h1.5M434.5 536.5h1.5M439 536.5h1.5M458.5 536.5h1.5M462.5 536.5h1.5M468 536.5h1.5M469.5 536.5h1.5M472.5 536.5h1.5M475.5 536.5h1.5M478.5 536.5h1.5M485.5 536.5h1.5M487 536.5h1.5M501.5 536.5h1.5M371.5 537h1.5M379.5 537h1.5M383 537h1.5M384.5 537h1.5M387 537h1.5M394.5 537h1.5M399 537h1.5M399.5 537h1.5M404 537h1.5M412.5 537h1.5M414 537h1.5M415 537h1.5M416 537h1.5M424.5 537h1.5M426 537h1.5M429 537h1.5M432 537h1.5M432.5 537h1.5M435.5 537h1.5M439.5 537h1.5M440.5 537h1.5M445.5 537h1.5M455 537h1.5M458 537h1.5M463.5 537h1.5M465.5 537h1.5M467 537h1.5M470 537h1.5M477 537h1.5M480.5 537h1.5M484 537h1.5M489 537h1.5M490.5 537h1.5M493 537h1.5M494.5 537h1.5M369 537.5h1.5M380.5 537.5h1.5M386 537.5h1.5M388.5 537.5h1.5M390 537.5h1.5M391.5 537.5h1.5M392.5 537.5h1.5M395 537.5h1.5M398 537.5h1.5M402.5 537.5h1.5M405 537.5h1.5M406.5 537.5h1.5M407.5 537.5h1.5M408.5 537.5h1.5M409.5 537.5h1.5M418 537.5h1.5M420 537.5h1.5M421 537.5h1.5M428 537.5h1.5M429.5 537.5h1.5M435 537.5h1.5M440.5 537.5h1.5M451.5 537.5h1.5M460.5 537.5h1.5M461 537.5h1.5M464.5 537.5h1.5M466.5 537.5h1.5M470.5 537.5h1.5M472 537.5h1.5M474 537.5h1.5M475.5 537.5h1.5M479 537.5h1.5M481 537.5h1.5M482.5 537.5h1.5M487.5 537.5h1.5M489.5 537.5h1.5M491.5 537.5h1.5M503.5 537.5h1.5M379.5 538h1.5M381 538h1.5M382.5 538h1.5M383.5 538h1.5M386.5 538h1.5M394 538h1.5M396 538h1.5M397.5 538h1.5M400.5 538h1.5M401.5 538h1.5M404 538h1.5M411 538h1.5M417.5 538h1.5M419.5 538h1.5M421 538h1.5M423 538h1.5M424.5 538h1.5M426.5 538h1.5M430.5 538h1.5M432.5 538h1.5M437.5 538h1.5M438 538h1.5M450.5 538h1.5M457.5 538h1.5M464 538h1.5M468.5 538h1.5M471.5 538h1.5M473.5 538h1.5M478 538h1.5M485 538h1.5M486 538h1.5M492 538h1.5M493.5 538h1.5M377 538.5h1.5M384.5 538.5h1.5M387.5 538.5h1.5M388.5 538.5h1.5M397.5 538.5h1.5M399 538.5h1.5M409 538.5h1.5M412 538.5h1.5M413 538.5h1.5M414.5 538.5h1.5M416 538.5h1.5M425 538.5h1.5M428 538.5h1.5M456 538.5h1.5M462.5 538.5h1.5M465.5 538.5h1.5M468 538.5h1.5M469 538.5h1.5M473.5 538.5h1.5M476.5 538.5h1.5M479.5 538.5h1.5M484 538.5h1.5M488 538.5h1.5M489 538.5h1.5M491 538.5h1.5M494.5 538.5h1.5M502.5 538.5h1.5M381 539h1.5M382.5 539h1.5M390 539h1.5M391 539h1.5M392 539h1.5M393.5 539h1.5M395 539h1.5M396 539h1.5M398 539h1.5M403 539h1.5M405.5 539h1.5M407 539h1.5M408.5 539h1.5M410.5 539h1.5M417.5 539h1.5M418.5 539h1.5M420 539h1.5M427 539h1.5M430 539h1.5M432 539h1.5M443 539h1.5M450.5 539h1.5M457 539h1.5M458.5 539h1.5M461 539h1.5M461.5 539h1.5M467 539h1.5M470.5 539h1.5M472.5 539h1.5M475 539h1.5M480.5 539h1.5M481.5 539h1.5M483 539h1.5M487 539h1.5M490 539h1.5M492.5 539h1.5M499.5 539h1.5M347 539.5h1.5M369.5 539.5h1.5M372.5 539.5h1.5M375.5 539.5h1.5M379.5 539.5h1.5M383 539.5h1.5M385.5 539.5h1.5M386.5 539.5h1.5M388 539.5h1.5M389.5 539.5h1.5M393.5 539.5h1.5M394 539.5h1.5M399 539.5h1.5M400 539.5h1.5M401.5 539.5h1.5M403 539.5h1.5M404.5 539.5h1.5M409 539.5h1.5M416 539.5h1.5M419 539.5h1.5M421 539.5h1.5M422 539.5h1.5M423 539.5h1.5M424.5 539.5h1.5M426 539.5h1.5M429 539.5h1.5M436.5 539.5h1.5M443.5 539.5h1.5M447.5 539.5h1.5M455.5 539.5h1.5M459 539.5h1.5M460.5 539.5h1.5M463 539.5h1.5M464.5 539.5h1.5M469.5 539.5h1.5M471.5 539.5h1.5M473 539.5h1.5M477.5 539.5h1.5M479 539.5h1.5M481.5 539.5h1.5M483 539.5h1.5M484.5 539.5h1.5M485.5 539.5h1.5M490 539.5h1.5M493.5 539.5h1.5M495.5 539.5h1.5M360.5 540h1.5M382 540h1.5M384 540h1.5M392 540h1.5M397 540h1.5M409.5 540h1.5M412 540h1.5M413.5 540h1.5M415 540h1.5M427 540h1.5M428.5 540h1.5M430.5 540h1.5M439 540h1.5M440 540h1.5M455.5 540h1.5M456.5 540h1.5M458.5 540h1.5M460.5 540h1.5M463.5 540h1.5M465.5 540h1.5M467 540h1.5M468 540h1.5M474.5 540h1.5M476 540h1.5M480.5 540h1.5M488.5 540h1.5M491.5 540h1.5M495 540h1.5M497 540h1.5M364 540.5h1.5M368 540.5h1.5M370 540.5h1.5M370.5 540.5h1.5M376.5 540.5h1.5M380.5 540.5h1.5M383 540.5h1.5M384.5 540.5h1.5M386 540.5h1.5M390.5 540.5h1.5M395.5 540.5h1.5M397.5 540.5h1.5M405 540.5h1.5M406.5 540.5h1.5M407.5 540.5h1.5M411 540.5h1.5M417.5 540.5h1.5M419.5 540.5h1.5M421.5 540.5h1.5M423 540.5h1.5M428 540.5h1.5M433 540.5h1.5M433.5 540.5h1.5M436.5 540.5h1.5M439.5 540.5h1.5M443.5 540.5h1.5M444.5 540.5h1.5M445.5 540.5h1.5M449.5 540.5h1.5M459.5 540.5h1.5M468 540.5h1.5M470 540.5h1.5M471.5 540.5h1.5M479.5 540.5h1.5M487 540.5h1.5M493 540.5h1.5M494 540.5h1.5M359 541h1.5M387.5 541h1.5M389 541h1.5M393.5 541h1.5M395 541h1.5M396 541h1.5M398.5 541h1.5M400 541h1.5M400.5 541h1.5M402 541h1.5M403.5 541h1.5M406 541h1.5M408 541h1.5M416 541h1.5M419 541h1.5M420 541h1.5M426 541h1.5M431 541h1.5M441.5 541h1.5M446.5 541h1.5M447.5 541h1.5M450.5 541h1.5M453 541h1.5M454 541h1.5M460 541h1.5M462.5 541h1.5M469 541h1.5M472 541h1.5M473.5 541h1.5M476.5 541h1.5M477.5 541h1.5M478.5 541h1.5M482 541h1.5M483.5 541h1.5M485 541h1.5M486 541h1.5M490 541h1.5M492 541h1.5M496 541h1.5M498.5 541h1.5M503 541h1.5M507.5 541h1.5M361 541.5h1.5M369.5 541.5h1.5M377 541.5h1.5M379 541.5h1.5M382 541.5h1.5M386.5 541.5h1.5M391 541.5h1.5M392.5 541.5h1.5M406.5 541.5h1.5M408 541.5h1.5M409.5 541.5h1.5M412.5 541.5h1.5M414 541.5h1.5M415.5 541.5h1.5M417.5 541.5h1.5M419 541.5h1.5M422.5 541.5h1.5M426.5 541.5h1.5M443.5 541.5h1.5M446 541.5h1.5M449.5 541.5h1.5M453.5 541.5h1.5M454 541.5h1.5M461.5 541.5h1.5M463.5 541.5h1.5M464.5 541.5h1.5M465.5 541.5h1.5M466.5 541.5h1.5M474.5 541.5h1.5M475.5 541.5h1.5M481 541.5h1.5M487.5 541.5h1.5M489 541.5h1.5M491 541.5h1.5M371.5 542h1.5M373 542h1.5M374 542h1.5M381 542h1.5M382.5 542h1.5M385 542h1.5M389.5 542h1.5M396.5 542h1.5M398 542h1.5M399 542h1.5M403 542h1.5M404.5 542h1.5M411 542h1.5M412.5 542h1.5M414.5 542h1.5M421.5 542h1.5M423.5 542h1.5M425 542h1.5M429 542h1.5M431.5 542h1.5M433 542h1.5M434.5 542h1.5M440 542h1.5M442.5 542h1.5M445 542h1.5M456.5 542h1.5M467.5 542h1.5M470.5 542h1.5M471 542h1.5M473.5 542h1.5M477.5 542h1.5M479.5 542h1.5M484.5 542h1.5M490 542h1.5M493 542h1.5M494 542h1.5M501 542h1.5M368 542.5h1.5M380.5 542.5h1.5M384.5 542.5h1.5M386 542.5h1.5M388 542.5h1.5M391 542.5h1.5M392.5 542.5h1.5M394 542.5h1.5M395.5 542.5h1.5M400.5 542.5h1.5M402 542.5h1.5M406 542.5h1.5M408.5 542.5h1.5M413 542.5h1.5M416.5 542.5h1.5M420.5 542.5h1.5M426.5 542.5h1.5M444.5 542.5h1.5M450.5 542.5h1.5M451 542.5h1.5M455.5 542.5h1.5M463 542.5h1.5M465 542.5h1.5M468 542.5h1.5M469.5 542.5h1.5M472.5 542.5h1.5M474.5 542.5h1.5M476 542.5h1.5M478.5 542.5h1.5M482 542.5h1.5M483 542.5h1.5M486 542.5h1.5M489 542.5h1.5M491.5 542.5h1.5M494.5 542.5h1.5M500.5 542.5h1.5M501.5 542.5h1.5M352.5 543h1.5M375.5 543h1.5M384 543h1.5M385 543h1.5M387 543h1.5M395.5 543h1.5M396.5 543h1.5M398 543h1.5M400.5 543h1.5M404.5 543h1.5M406 543h1.5M407 543h1.5M408 543h1.5M410 543h1.5M415.5 543h1.5M417.5 543h1.5M419 543h1.5M423 543h1.5M431 543h1.5M435.5 543h1.5M436 543h1.5M437.5 543h1.5M440 543h1.5M442.5 543h1.5M448.5 543h1.5M451.5 543h1.5M461.5 543h1.5M463.5 543h1.5M466 543h1.5M473 543h1.5M480.5 543h1.5M483 543h1.5M484.5 543h1.5M485.5 543h1.5M487.5 543h1.5M496.5 543h1.5M498 543h1.5M498.5 543h1.5M500 543h1.5M369.5 543.5h1.5M383 543.5h1.5M386.5 543.5h1.5M388.5 543.5h1.5M390 543.5h1.5M390.5 543.5h1.5M393.5 543.5h1.5M394 543.5h1.5M399.5 543.5h1.5M401.5 543.5h1.5M403 543.5h1.5M410 543.5h1.5M411.5 543.5h1.5M414 543.5h1.5M421.5 543.5h1.5M424 543.5h1.5M425 543.5h1.5M426.5 543.5h1.5M429.5 543.5h1.5M432 543.5h1.5M432.5 543.5h1.5M434 543.5h1.5M443.5 543.5h1.5M447 543.5h1.5M447.5 543.5h1.5M456.5 543.5h1.5M459 543.5h1.5M461 543.5h1.5M462.5 543.5h1.5M464.5 543.5h1.5M466.5 543.5h1.5M470 543.5h1.5M471.5 543.5h1.5M475 543.5h1.5M475.5 543.5h1.5M477.5 543.5h1.5M479 543.5h1.5M481 543.5h1.5M490 543.5h1.5M490.5 543.5h1.5M493 543.5h1.5M494 543.5h1.5M498 543.5h1.5M507 543.5h1.5M507.5 543.5h1.5M352.5 544h1.5M369.5 544h1.5M388.5 544h1.5M392 544h1.5M404.5 544h1.5M409 544h1.5M412.5 544h1.5M416.5 544h1.5M420.5 544h1.5M428 544h1.5M430.5 544h1.5M442 544h1.5M444.5 544h1.5M451.5 544h1.5M453 544h1.5M454.5 544h1.5M460.5 544h1.5M462 544h1.5M467.5 544h1.5M469 544h1.5M471 544h1.5M473.5 544h1.5M477 544h1.5M482.5 544h1.5M487 544h1.5M488.5 544h1.5M492 544h1.5M496 544h1.5M498.5 544h1.5M499 544h1.5M362 544.5h1.5M366 544.5h1.5M367 544.5h1.5M380.5 544.5h1.5M382 544.5h1.5M383 544.5h1.5M387 544.5h1.5M391.5 544.5h1.5M394 544.5h1.5M395 544.5h1.5M396.5 544.5h1.5M397.5 544.5h1.5M399 544.5h1.5M400 544.5h1.5M403 544.5h1.5M405.5 544.5h1.5M406.5 544.5h1.5M407.5 544.5h1.5M415 544.5h1.5M418 544.5h1.5M419.5 544.5h1.5M422 544.5h1.5M422.5 544.5h1.5M426.5 544.5h1.5M428.5 544.5h1.5M430 544.5h1.5M460.5 544.5h1.5M466 544.5h1.5M469.5 544.5h1.5M472.5 544.5h1.5M477.5 544.5h1.5M479.5 544.5h1.5M481 544.5h1.5M482.5 544.5h1.5M484 544.5h1.5M484.5 544.5h1.5M486 544.5h1.5M487.5 544.5h1.5M489 544.5h1.5M490.5 544.5h1.5M495 544.5h1.5M496.5 544.5h1.5M370.5 545h1.5M374 545h1.5M375.5 545h1.5M381.5 545h1.5M390 545h1.5M392.5 545h1.5M396 545h1.5M401.5 545h1.5M402.5 545h1.5M404.5 545h1.5M409.5 545h1.5M411 545h1.5M414 545h1.5M416 545h1.5M419.5 545h1.5M425.5 545h1.5M433 545h1.5M436.5 545h1.5M449.5 545h1.5M456 545h1.5M461 545h1.5M461.5 545h1.5M464.5 545h1.5M466.5 545h1.5M468 545h1.5M468.5 545h1.5M473 545h1.5M474.5 545h1.5M475.5 545h1.5M479 545h1.5M485 545h1.5M493 545h1.5M494 545h1.5M495 545h1.5M375 545.5h1.5M383 545.5h1.5M384 545.5h1.5M388.5 545.5h1.5M394 545.5h1.5M405.5 545.5h1.5M407 545.5h1.5M408.5 545.5h1.5M410.5 545.5h1.5M412.5 545.5h1.5M415.5 545.5h1.5M417.5 545.5h1.5M420.5 545.5h1.5M423.5 545.5h1.5M424 545.5h1.5M426.5 545.5h1.5M429.5 545.5h1.5M431 545.5h1.5M432.5 545.5h1.5M438.5 545.5h1.5M448.5 545.5h1.5M458.5 545.5h1.5M459 545.5h1.5M470 545.5h1.5M471.5 545.5h1.5M474.5 545.5h1.5M476.5 545.5h1.5M479 545.5h1.5M480.5 545.5h1.5M489 545.5h1.5M491.5 545.5h1.5M500.5 545.5h1.5M347.5 546h1.5M354.5 546h1.5M358.5 546h1.5M367 546h1.5M370 546h1.5M373 546h1.5M378.5 546h1.5M379.5 546h1.5M381 546h1.5M383.5 546h1.5M384.5 546h1.5M386 546h1.5M387 546h1.5M389.5 546h1.5M390.5 546h1.5M391.5 546h1.5M395.5 546h1.5M397.5 546h1.5M399 546h1.5M400.5 546h1.5M403.5 546h1.5M409.5 546h1.5M413.5 546h1.5M418 546h1.5M422 546h1.5M425 546h1.5M427.5 546h1.5M428.5 546h1.5M432.5 546h1.5M437 546h1.5M441.5 546h1.5M450 546h1.5M454 546h1.5M456 546h1.5M457 546h1.5M459.5 546h1.5M464 546h1.5M465 546h1.5M468 546h1.5M472 546h1.5M473.5 546h1.5M475.5 546h1.5M477.5 546h1.5M478 546h1.5M481.5 546h1.5M483 546h1.5M484.5 546h1.5M486.5 546h1.5M487.5 546h1.5M490.5 546h1.5M500 546h1.5M506.5 546h1.5M373 546.5h1.5M373.5 546.5h1.5M382 546.5h1.5M387.5 546.5h1.5M388.5 546.5h1.5M392.5 546.5h1.5M397 546.5h1.5M398 546.5h1.5M399 546.5h1.5M401 546.5h1.5M402.5 546.5h1.5M405 546.5h1.5M406 546.5h1.5M408.5 546.5h1.5M412 546.5h1.5M415 546.5h1.5M416.5 546.5h1.5M419 546.5h1.5M421 546.5h1.5M427 546.5h1.5M430 546.5h1.5M431.5 546.5h1.5M432 546.5h1.5M437.5 546.5h1.5M442.5 546.5h1.5M450 546.5h1.5M455 546.5h1.5M461.5 546.5h1.5M462.5 546.5h1.5M465.5 546.5h1.5M467 546.5h1.5M469 546.5h1.5M471.5 546.5h1.5M481 546.5h1.5M485.5 546.5h1.5M487 546.5h1.5M493 546.5h1.5M493.5 546.5h1.5M495 546.5h1.5M496 546.5h1.5M360.5 547h1.5M368 547h1.5M370 547h1.5M375 547h1.5M376 547h1.5M377 547h1.5M379.5 547h1.5M384.5 547h1.5M386 547h1.5M391 547h1.5M394 547h1.5M396 547h1.5M403.5 547h1.5M407.5 547h1.5M410 547h1.5M411.5 547h1.5M414 547h1.5M420 547h1.5M423.5 547h1.5M435.5 547h1.5M440.5 547h1.5M455 547h1.5M470.5 547h1.5M473 547h1.5M475 547h1.5M476 547h1.5M479.5 547h1.5M488 547h1.5M489.5 547h1.5M492 547h1.5M495.5 547h1.5M501.5 547h1.5M381 547.5h1.5M390 547.5h1.5M393.5 547.5h1.5M395 547.5h1.5M400.5 547.5h1.5M401 547.5h1.5M405.5 547.5h1.5M406.5 547.5h1.5M408 547.5h1.5M413.5 547.5h1.5M418 547.5h1.5M419 547.5h1.5M422.5 547.5h1.5M424.5 547.5h1.5M425.5 547.5h1.5M427.5 547.5h1.5M429 547.5h1.5M429.5 547.5h1.5M431.5 547.5h1.5M434.5 547.5h1.5M438.5 547.5h1.5M440 547.5h1.5M442 547.5h1.5M449 547.5h1.5M456.5 547.5h1.5M457 547.5h1.5M463 547.5h1.5M464 547.5h1.5M467 547.5h1.5M468.5 547.5h1.5M470 547.5h1.5M471 547.5h1.5M474.5 547.5h1.5M476 547.5h1.5M477 547.5h1.5M478.5 547.5h1.5M482 547.5h1.5M483.5 547.5h1.5M484 547.5h1.5M490.5 547.5h1.5M498 547.5h1.5M349.5 548h1.5M353.5 548h1.5M356 548h1.5M371 548h1.5M377 548h1.5M379.5 548h1.5M381.5 548h1.5M383 548h1.5M384.5 548h1.5M386.5 548h1.5M388 548h1.5M389.5 548h1.5M392 548h1.5M397.5 548h1.5M399 548h1.5M402.5 548h1.5M404 548h1.5M406 548h1.5M409 548h1.5M412.5 548h1.5M415.5 548h1.5M416.5 548h1.5M421 548h1.5M424 548h1.5M426 548h1.5M435.5 548h1.5M437 548h1.5M444.5 548h1.5M446 548h1.5M448.5 548h1.5M449 548h1.5M461 548h1.5M465 548h1.5M466 548h1.5M472.5 548h1.5M481 548h1.5M481.5 548h1.5M485.5 548h1.5M486 548h1.5M487.5 548h1.5M492 548h1.5M493.5 548h1.5M494 548h1.5M499.5 548h1.5M501 548h1.5M351.5 548.5h1.5M361 548.5h1.5M372.5 548.5h1.5M376 548.5h1.5M381.5 548.5h1.5M385 548.5h1.5M390.5 548.5h1.5M394.5 548.5h1.5M395.5 548.5h1.5M396.5 548.5h1.5M403 548.5h1.5M409.5 548.5h1.5M411 548.5h1.5M415 548.5h1.5M416.5 548.5h1.5M419.5 548.5h1.5M421.5 548.5h1.5M424.5 548.5h1.5M427.5 548.5h1.5M430.5 548.5h1.5M432 548.5h1.5M434.5 548.5h1.5M441.5 548.5h1.5M442.5 548.5h1.5M448.5 548.5h1.5M453 548.5h1.5M462 548.5h1.5M470.5 548.5h1.5M473.5 548.5h1.5M480 548.5h1.5M488 548.5h1.5M489.5 548.5h1.5M491 548.5h1.5M495 548.5h1.5M496.5 548.5h1.5M499 548.5h1.5M362 549h1.5M362.5 549h1.5M378 549h1.5M380 549h1.5M383 549h1.5M384 549h1.5M393.5 549h1.5M398 549h1.5M399.5 549h1.5M401 549h1.5M404.5 549h1.5M407 549h1.5M408.5 549h1.5M412 549h1.5M413.5 549h1.5M417.5 549h1.5M418 549h1.5M420 549h1.5M423 549h1.5M428.5 549h1.5M433.5 549h1.5M437.5 549h1.5M461.5 549h1.5M467.5 549h1.5M469 549h1.5M471.5 549h1.5M473 549h1.5M474 549h1.5M475 549h1.5M476 549h1.5M477 549h1.5M478.5 549h1.5M483 549h1.5M484 549h1.5M487.5 549h1.5M488 549h1.5M492.5 549h1.5M493.5 549h1.5M495 549h1.5M499.5 549h1.5M371 549.5h1.5M377.5 549.5h1.5M386.5 549.5h1.5M388 549.5h1.5M389 549.5h1.5M392 549.5h1.5M393.5 549.5h1.5M397 549.5h1.5M399.5 549.5h1.5M402.5 549.5h1.5M405.5 549.5h1.5M410.5 549.5h1.5M414.5 549.5h1.5M421 549.5h1.5M426 549.5h1.5M429 549.5h1.5M436.5 549.5h1.5M438 549.5h1.5M451 549.5h1.5M453 549.5h1.5M459 549.5h1.5M463 549.5h1.5M466 549.5h1.5M477.5 549.5h1.5M480.5 549.5h1.5M481 549.5h1.5M482.5 549.5h1.5M484.5 549.5h1.5M486 549.5h1.5M489.5 549.5h1.5M357.5 550h1.5M373.5 550h1.5M376 550h1.5M377 550h1.5M379.5 550h1.5M382 550h1.5M384.5 550h1.5M386 550h1.5M390.5 550h1.5M394.5 550h1.5M395.5 550h1.5M404 550h1.5M407.5 550h1.5M410 550h1.5M416 550h1.5M418.5 550h1.5M422.5 550h1.5M424 550h1.5M426 550h1.5M429.5 550h1.5M432 550h1.5M433.5 550h1.5M434.5 550h1.5M442.5 550h1.5M448.5 550h1.5M456 550h1.5M457.5 550h1.5M462.5 550h1.5M466.5 550h1.5M470 550h1.5M471 550h1.5M472 550h1.5M479 550h1.5M483.5 550h1.5M487.5 550h1.5M491 550h1.5M492.5 550h1.5M498 550h1.5M500 550h1.5M357.5 550.5h1.5M363 550.5h1.5M374.5 550.5h1.5M378 550.5h1.5M380.5 550.5h1.5M383 550.5h1.5M387 550.5h1.5M391.5 550.5h1.5M394 550.5h1.5M395.5 550.5h1.5M398 550.5h1.5M401 550.5h1.5M402.5 550.5h1.5M404 550.5h1.5M406 550.5h1.5M408.5 550.5h1.5M410 550.5h1.5M411.5 550.5h1.5M412.5 550.5h1.5M413.5 550.5h1.5M414.5 550.5h1.5M417 550.5h1.5M420 550.5h1.5M421.5 550.5h1.5M427.5 550.5h1.5M434 550.5h1.5M436 550.5h1.5M437.5 550.5h1.5M453.5 550.5h1.5M460.5 550.5h1.5M461.5 550.5h1.5M465 550.5h1.5M467.5 550.5h1.5M469 550.5h1.5M473.5 550.5h1.5M475 550.5h1.5M476.5 550.5h1.5M479.5 550.5h1.5M495.5 550.5h1.5M355.5 551h1.5M371 551h1.5M381.5 551h1.5M383 551h1.5M386 551h1.5M388.5 551h1.5M390 551h1.5M392.5 551h1.5M396.5 551h1.5M399 551h1.5M400.5 551h1.5M404.5 551h1.5M411 551h1.5M412 551h1.5M415.5 551h1.5M421 551h1.5M425 551h1.5M427.5 551h1.5M429 551h1.5M430 551h1.5M438 551h1.5M438.5 551h1.5M451 551h1.5M478 551h1.5M480.5 551h1.5M482 551h1.5M484 551h1.5M485.5 551h1.5M486 551h1.5M488.5 551h1.5M490 551h1.5M493 551h1.5M502 551h1.5M507.5 551h1.5M365.5 551.5h1.5M371 551.5h1.5M371.5 551.5h1.5M375.5 551.5h1.5M376 551.5h1.5M378 551.5h1.5M379 551.5h1.5M380.5 551.5h1.5M384.5 551.5h1.5M389 551.5h1.5M401 551.5h1.5M402.5 551.5h1.5M406 551.5h1.5M407 551.5h1.5M413 551.5h1.5M414 551.5h1.5M418.5 551.5h1.5M423 551.5h1.5M427 551.5h1.5M431 551.5h1.5M435.5 551.5h1.5M436.5 551.5h1.5M443 551.5h1.5M447.5 551.5h1.5M449 551.5h1.5M456.5 551.5h1.5M458 551.5h1.5M462.5 551.5h1.5M464.5 551.5h1.5M465.5 551.5h1.5M467 551.5h1.5M469.5 551.5h1.5M470.5 551.5h1.5M472 551.5h1.5M482.5 551.5h1.5M487.5 551.5h1.5M491 551.5h1.5M491.5 551.5h1.5M498 551.5h1.5M359 552h1.5M359.5 552h1.5M368 552h1.5M376.5 552h1.5M381.5 552h1.5M386.5 552h1.5M388 552h1.5M391 552h1.5M392.5 552h1.5M394 552h1.5M395.5 552h1.5M397 552h1.5M397.5 552h1.5M399 552h1.5M403 552h1.5M404.5 552h1.5M408.5 552h1.5M410 552h1.5M416.5 552h1.5M418 552h1.5M419.5 552h1.5M421.5 552h1.5M423.5 552h1.5M426 552h1.5M440.5 552h1.5M451.5 552h1.5M463.5 552h1.5M468 552h1.5M473.5 552h1.5M474.5 552h1.5M476 552h1.5M477.5 552h1.5M479 552h1.5M480.5 552h1.5M482 552h1.5M485.5 552h1.5M489 552h1.5M357 552.5h1.5M362.5 552.5h1.5M375 552.5h1.5M384 552.5h1.5M384.5 552.5h1.5M390.5 552.5h1.5M398 552.5h1.5M400.5 552.5h1.5M402 552.5h1.5M403 552.5h1.5M405.5 552.5h1.5M411.5 552.5h1.5M413 552.5h1.5M415 552.5h1.5M420 552.5h1.5M422 552.5h1.5M422.5 552.5h1.5M424.5 552.5h1.5M426 552.5h1.5M428.5 552.5h1.5M430 552.5h1.5M437.5 552.5h1.5M441.5 552.5h1.5M447.5 552.5h1.5M450 552.5h1.5M458 552.5h1.5M477 552.5h1.5M484 552.5h1.5M487 552.5h1.5M492.5 552.5h1.5M495 552.5h1.5M495.5 552.5h1.5M498.5 552.5h1.5M500 552.5h1.5M376.5 553h1.5M386 553h1.5M387 553h1.5M389.5 553h1.5M407 553h1.5M408 553h1.5M409.5 553h1.5M410.5 553h1.5M414 553h1.5M415.5 553h1.5M424 553h1.5M428 553h1.5M431 553h1.5M435 553h1.5M444 553h1.5M445.5 553h1.5M448.5 553h1.5M452.5 553h1.5M467.5 553h1.5M469.5 553h1.5M471 553h1.5M472 553h1.5M480.5 553h1.5M483.5 553h1.5M487.5 553h1.5M489 553h1.5M490.5 553h1.5M497.5 553h1.5M349 553.5h1.5M360 553.5h1.5M373 553.5h1.5M384.5 553.5h1.5M388 553.5h1.5M390 553.5h1.5M391.5 553.5h1.5M392.5 553.5h1.5M394 553.5h1.5M395 553.5h1.5M396.5 553.5h1.5M399.5 553.5h1.5M404.5 553.5h1.5M405.5 553.5h1.5M412 553.5h1.5M417 553.5h1.5M418.5 553.5h1.5M420 553.5h1.5M420.5 553.5h1.5M429 553.5h1.5M430.5 553.5h1.5M439 553.5h1.5M439.5 553.5h1.5M443 553.5h1.5M448 553.5h1.5M468.5 553.5h1.5M473.5 553.5h1.5M475 553.5h1.5M475.5 553.5h1.5M477.5 553.5h1.5M479 553.5h1.5M482 553.5h1.5M483.5 553.5h1.5M485 553.5h1.5M486.5 553.5h1.5M491.5 553.5h1.5M356.5 554h1.5M373.5 554h1.5M376.5 554h1.5M380.5 554h1.5M382 554h1.5M383 554h1.5M386.5 554h1.5M389 554h1.5M394 554h1.5M397.5 554h1.5M399 554h1.5M400 554h1.5M401.5 554h1.5M403 554h1.5M408 554h1.5M409 554h1.5M410 554h1.5M412.5 554h1.5M418.5 554h1.5M422 554h1.5M423 554h1.5M424.5 554h1.5M426 554h1.5M427.5 554h1.5M433 554h1.5M445.5 554h1.5M450.5 554h1.5M460 554h1.5M460.5 554h1.5M466 554h1.5M467 554h1.5M471.5 554h1.5M473 554h1.5M476.5 554h1.5M480 554h1.5M481 554h1.5M482 554h1.5M489.5 554h1.5M490.5 554h1.5M493 554h1.5M494.5 554h1.5M369 554.5h1.5M370 554.5h1.5M377 554.5h1.5M378.5 554.5h1.5M387.5 554.5h1.5M391.5 554.5h1.5M392 554.5h1.5M393.5 554.5h1.5M397 554.5h1.5M405.5 554.5h1.5M406.5 554.5h1.5M411.5 554.5h1.5M414 554.5h1.5M415.5 554.5h1.5M418 554.5h1.5M432.5 554.5h1.5M438.5 554.5h1.5M463 554.5h1.5M465.5 554.5h1.5M470 554.5h1.5M475 554.5h1.5M476.5 554.5h1.5M477.5 554.5h1.5M486 554.5h1.5M487 554.5h1.5M488.5 554.5h1.5M374.5 555h1.5M382.5 555h1.5M384.5 555h1.5M385.5 555h1.5M390 555h1.5M395.5 555h1.5M401 555h1.5M403.5 555h1.5M404.5 555h1.5M412.5 555h1.5M416.5 555h1.5M420.5 555h1.5M432 555h1.5M444 555h1.5M447 555h1.5M467 555h1.5M468 555h1.5M469.5 555h1.5M473.5 555h1.5M479 555h1.5M483 555h1.5M484.5 555h1.5M486.5 555h1.5M492 555h1.5M373.5 555.5h1.5M376 555.5h1.5M378 555.5h1.5M379 555.5h1.5M383 555.5h1.5M385.5 555.5h1.5M388.5 555.5h1.5M390 555.5h1.5M395 555.5h1.5M398.5 555.5h1.5M399.5 555.5h1.5M402 555.5h1.5M405 555.5h1.5M408 555.5h1.5M408.5 555.5h1.5M410 555.5h1.5M415 555.5h1.5M421.5 555.5h1.5M423 555.5h1.5M424 555.5h1.5M425.5 555.5h1.5M426.5 555.5h1.5M427.5 555.5h1.5M433.5 555.5h1.5M458.5 555.5h1.5M459 555.5h1.5M465 555.5h1.5M467.5 555.5h1.5M470.5 555.5h1.5M472 555.5h1.5M473.5 555.5h1.5M479 555.5h1.5M480 555.5h1.5M481.5 555.5h1.5M482 555.5h1.5M483.5 555.5h1.5M489.5 555.5h1.5M490.5 555.5h1.5M498.5 555.5h1.5M376.5 556h1.5M380 556h1.5M388.5 556h1.5M390.5 556h1.5M392 556h1.5M393.5 556h1.5M396.5 556h1.5M397.5 556h1.5M399.5 556h1.5M400 556h1.5M401.5 556h1.5M403 556h1.5M403.5 556h1.5M405.5 556h1.5M407 556h1.5M408.5 556h1.5M411 556h1.5M411.5 556h1.5M413 556h1.5M414.5 556h1.5M417 556h1.5M418.5 556h1.5M419.5 556h1.5M430.5 556h1.5M434 556h1.5M466.5 556h1.5M467 556h1.5M469 556h1.5M471 556h1.5M474.5 556h1.5M476 556h1.5M477.5 556h1.5M486 556h1.5M496.5 556h1.5" stroke="#7a7a7a" stroke-width="1.5" fill="none"/>
<path d="M426.9 420.3V556.6M346.2 522.2H514.5" stroke="#1a1a1a" stroke-width="1.2" fill="none"/>
<rect x="346.2" y="420.3" width="168.30" height="136.3" fill="none" stroke="#1a1a1a" stroke-width="1.4"/>
<path d="M346.20 556.6v3.8M346.2 556.60h-3.8M358.87 556.6v2.4M346.2 546.34h-2.4M366.27 556.6v2.4M346.2 540.34h-2.4M371.53 556.6v2.4M346.2 536.08h-2.4M375.61 556.6v2.4M346.2 532.78h-2.4M378.94 556.6v2.4M346.2 530.08h-2.4M381.76 556.6v2.4M346.2 527.80h-2.4M384.20 556.6v2.4M346.2 525.83h-2.4M386.35 556.6v2.4M346.2 524.08h-2.4M388.27 556.6v3.8M346.2 522.52h-3.8M400.94 556.6v2.4M346.2 512.27h-2.4M408.35 556.6v2.4M346.2 506.27h-2.4M413.61 556.6v2.4M346.2 502.01h-2.4M417.68 556.6v2.4M346.2 498.71h-2.4M421.02 556.6v2.4M346.2 496.01h-2.4M423.83 556.6v2.4M346.2 493.73h-2.4M426.27 556.6v2.4M346.2 491.75h-2.4M428.42 556.6v2.4M346.2 490.01h-2.4M430.35 556.6v3.8M346.2 488.45h-3.8M443.02 556.6v2.4M346.2 478.19h-2.4M450.42 556.6v2.4M346.2 472.19h-2.4M455.68 556.6v2.4M346.2 467.93h-2.4M459.76 556.6v2.4M346.2 464.63h-2.4M463.09 556.6v2.4M346.2 461.93h-2.4M465.91 556.6v2.4M346.2 459.65h-2.4M468.35 556.6v2.4M346.2 457.68h-2.4M470.50 556.6v2.4M346.2 455.93h-2.4M472.43 556.6v3.8M346.2 454.38h-3.8M485.09 556.6v2.4M346.2 444.12h-2.4M492.50 556.6v2.4M346.2 438.12h-2.4M497.76 556.6v2.4M346.2 433.86h-2.4M501.83 556.6v2.4M346.2 430.56h-2.4M505.17 556.6v2.4M346.2 427.86h-2.4M507.98 556.6v2.4M346.2 425.58h-2.4M510.42 556.6v2.4M346.2 423.60h-2.4M512.57 556.6v2.4M346.2 421.86h-2.4M514.50 556.6v3.8M346.2 420.3h-3.8" stroke="#111" stroke-width="1.15" fill="none"/>
<text x="347.50" y="570.10" font-size="10.9" text-anchor="middle" fill="#111">10<tspan dy="-4.3" font-size="7.8">0</tspan></text>
<text x="389.47" y="570.10" font-size="10.9" text-anchor="middle" fill="#111">10<tspan dy="-4.3" font-size="7.8">1</tspan></text>
<text x="427.95" y="570.10" font-size="10.9" text-anchor="middle" fill="#111">10<tspan dy="-4.3" font-size="7.8">2</tspan></text>
<text x="469.93" y="570.10" font-size="10.9" text-anchor="middle" fill="#111">10<tspan dy="-4.3" font-size="7.8">3</tspan></text>
<text x="509.90" y="570.10" font-size="10.9" text-anchor="middle" fill="#111">10<tspan dy="-4.3" font-size="7.8">4</tspan></text>
<text transform="translate(339.30,554.30) rotate(-90)" font-size="10.9" text-anchor="middle" fill="#111">10<tspan dy="-4.3" font-size="7.8">0</tspan></text>
<text transform="translate(339.30,524.82) rotate(-90)" font-size="10.9" text-anchor="middle" fill="#111">10<tspan dy="-4.3" font-size="7.8">1</tspan></text>
<text transform="translate(339.30,489.45) rotate(-90)" font-size="10.9" text-anchor="middle" fill="#111">10<tspan dy="-4.3" font-size="7.8">2</tspan></text>
<text transform="translate(339.30,455.98) rotate(-90)" font-size="10.9" text-anchor="middle" fill="#111">10<tspan dy="-4.3" font-size="7.8">3</tspan></text>
<text transform="translate(339.30,422.70) rotate(-90)" font-size="10.9" text-anchor="middle" fill="#111">10<tspan dy="-4.3" font-size="7.8">4</tspan></text>
<text transform="translate(326.60,491.60) rotate(-90)" font-size="11.5" text-anchor="middle" fill="#111" textLength="12" lengthAdjust="spacingAndGlyphs">PI</text>
<text x="365.90" y="415.30" font-size="11.6" fill="#111" textLength="125.5" lengthAdjust="spacingAndGlyphs">G185R 25-23 day 7.013</text>
<text x="427.60" y="579.80" font-size="10.6" text-anchor="middle" fill="#111" textLength="75" lengthAdjust="spacingAndGlyphs">Annexin Y-Cy5</text>
<text x="510.00" y="443.70" font-size="24.5" font-weight="bold" text-anchor="end" fill="#000" textLength="45.3" lengthAdjust="spacingAndGlyphs">43%</text>
<rect x="46.7" y="661.2" width="470.5" height="240.7" fill="none" stroke="#8a8a8a" stroke-width="1.1"/>
<text x="36.8" y="906.10" font-size="11.6" text-anchor="end" fill="#111">0</text>
<text x="36.8" y="882.03" font-size="11.6" text-anchor="end" fill="#111">5</text>
<text x="36.8" y="857.96" font-size="11.6" text-anchor="end" fill="#111">10</text>
<text x="36.8" y="833.89" font-size="11.6" text-anchor="end" fill="#111">15</text>
<text x="36.8" y="809.82" font-size="11.6" text-anchor="end" fill="#111">20</text>
<text x="36.8" y="785.75" font-size="11.6" text-anchor="end" fill="#111">25</text>
<text x="36.8" y="761.68" font-size="11.6" text-anchor="end" fill="#111">30</text>
<text x="36.8" y="737.61" font-size="11.6" text-anchor="end" fill="#111">35</text>
<text x="36.8" y="713.54" font-size="11.6" text-anchor="end" fill="#111">40</text>
<text x="36.8" y="689.47" font-size="11.6" text-anchor="end" fill="#111">45</text>
<text x="36.8" y="665.40" font-size="11.6" text-anchor="end" fill="#111">50</text>
<path d="M46.70 901.9v4M203.53 901.9v4M360.37 901.9v4M517.20 901.9v4" stroke="#8a8a8a" stroke-width="1.1"/>
<rect x="72.70" y="891.79" width="35.0" height="10.11" fill="#fff" stroke="#555" stroke-width="1"/>
<rect x="107.70" y="859.54" width="35.0" height="42.36" fill="#808080" stroke="#555" stroke-width="1"/>
<rect x="142.70" y="832.58" width="35.0" height="69.32" fill="#000" stroke="#555" stroke-width="1"/>
<rect x="230.20" y="882.79" width="35.0" height="19.11" fill="#fff" stroke="#555" stroke-width="1"/>
<rect x="265.20" y="868.20" width="35.0" height="33.70" fill="#808080" stroke="#555" stroke-width="1"/>
<rect x="300.20" y="840.76" width="35.0" height="61.14" fill="#000" stroke="#555" stroke-width="1"/>
<rect x="386.70" y="891.31" width="35.0" height="10.59" fill="#fff" stroke="#555" stroke-width="1"/>
<rect x="421.70" y="836.91" width="35.0" height="64.99" fill="#808080" stroke="#555" stroke-width="1"/>
<rect x="456.70" y="699.71" width="35.0" height="202.19" fill="#000" stroke="#555" stroke-width="1"/>
<path d="M90 888.2V895.3M87.8 888.2h4.4M87.8 895.3h4.4M125 848.5V871.5M122.8 848.5h4.4M122.8 871.5h4.4M160.2 829.2V835.8M158.0 829.2h4.4M158.0 835.8h4.4M247.8 869.3V896M245.60000000000002 869.3h4.4M245.60000000000002 896h4.4M282.5 861.3V875.2M280.3 861.3h4.4M280.3 875.2h4.4M317.4 825.7V855.5M315.2 825.7h4.4M315.2 855.5h4.4M404 888.1V893.3M401.8 888.1h4.4M401.8 893.3h4.4M439.3 826.5V847.3M437.1 826.5h4.4M437.1 847.3h4.4M475 675.3V723.7M472.8 675.3h4.4M472.8 723.7h4.4" stroke="#000" stroke-width="1.2" fill="none"/>
<rect x="49.6" y="669.2" width="105" height="105" fill="#fff" stroke="#8a8a8a" stroke-width="1.1"/>
<rect x="73.2" y="681.9" width="11.3" height="11.3" fill="#fff" stroke="#555" stroke-width="0.9"/>
<text x="88.8" y="693.5" font-size="16.5" fill="#111" textLength="46" lengthAdjust="spacingAndGlyphs">Day 0</text>
<rect x="73.2" y="717.2" width="11.3" height="11.3" fill="#808080" stroke="#555" stroke-width="0.9"/>
<text x="88.8" y="728.8" font-size="16.5" fill="#111" textLength="46" lengthAdjust="spacingAndGlyphs">Day 3</text>
<rect x="73.2" y="752.3" width="11.3" height="11.3" fill="#000" stroke="#555" stroke-width="0.9"/>
<text x="88.8" y="763.9" font-size="16.5" fill="#111" textLength="46" lengthAdjust="spacingAndGlyphs">Day 7</text>
<text x="127.15" y="924.2" font-size="17" text-anchor="middle" font-weight="bold" textLength="54.3" lengthAdjust="spacingAndGlyphs" fill="#000" >Vector</text>
<text x="282.45" y="924.7" font-size="17" text-anchor="middle" font-weight="bold" textLength="24.3" lengthAdjust="spacingAndGlyphs" fill="#000" >WT</text>
<text x="441.6" y="925.2" font-size="17" text-anchor="middle" font-weight="bold" textLength="57.4" lengthAdjust="spacingAndGlyphs" fill="#000" >G185R</text>
<text x="279.5" y="947.9" font-size="17" text-anchor="middle" font-weight="bold" textLength="118.5" lengthAdjust="spacingAndGlyphs" fill="#000" >Days in DMSO</text>
<text transform="translate(15,780.3) rotate(-90)" font-size="17.6" font-weight="bold" text-anchor="middle" fill="#000" textLength="182.8" lengthAdjust="spacingAndGlyphs">% Annexin V-Positive</text>
</svg></body></html>
